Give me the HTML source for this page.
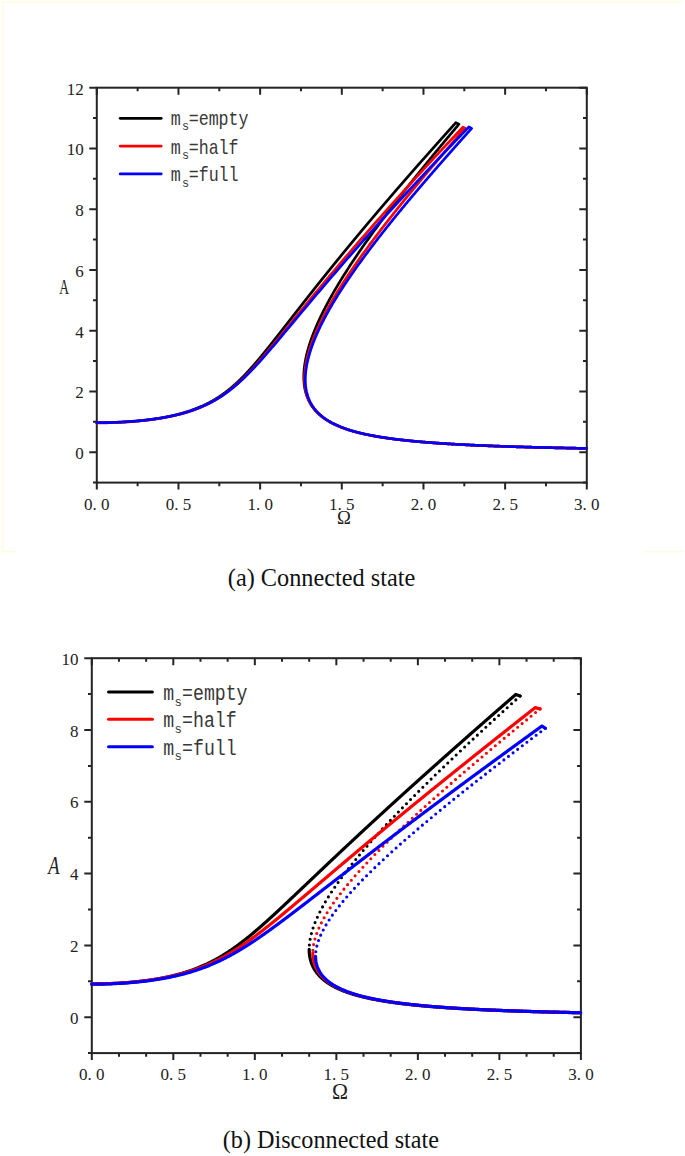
<!DOCTYPE html>
<html><head><meta charset="utf-8"><style>
html,body{margin:0;padding:0;background:#fff;}
body{width:685px;height:1156px;overflow:hidden;position:relative;}
svg{position:absolute;left:0;top:0;}
.tl{font-family:"Liberation Serif",serif;font-size:17px;fill:#222;}
.lg{font-family:"Liberation Mono",monospace;fill:#383838;}
.cap{font-family:"Liberation Serif",serif;fill:#111;}
</style></head><body>
<svg width="685" height="1156" viewBox="0 0 685 1156">
<path d="M2.6,552V2H683 M2.6,551.6H17 M643.5,551.7H683.5" stroke="#fffbe0" stroke-width="1.6" fill="none"/>
<rect x="96.8" y="87.7" width="490" height="394.9" fill="none" stroke="#242424" stroke-width="2.0"/>
<path d="M96.8,482.6v7 M96.8,87.7v7 M178.47,482.6v7 M178.47,87.7v7 M260.13,482.6v7 M260.13,87.7v7 M341.8,482.6v7 M341.8,87.7v7 M423.47,482.6v7 M423.47,87.7v7 M505.13,482.6v7 M505.13,87.7v7 M586.8,482.6v7 M586.8,87.7v7 M137.63,482.6v3.6 M137.63,87.7v3.6 M219.3,482.6v3.6 M219.3,87.7v3.6 M300.97,482.6v3.6 M300.97,87.7v3.6 M382.63,482.6v3.6 M382.63,87.7v3.6 M464.3,482.6v3.6 M464.3,87.7v3.6 M545.97,482.6v3.6 M545.97,87.7v3.6 M96.8,482.6h-3.8 M586.8,482.6h-3.8 M96.8,452.22h-7.5 M586.8,452.22h-7.5 M96.8,421.85h-3.8 M586.8,421.85h-3.8 M96.8,391.47h-7.5 M586.8,391.47h-7.5 M96.8,361.09h-3.8 M586.8,361.09h-3.8 M96.8,330.72h-7.5 M586.8,330.72h-7.5 M96.8,300.34h-3.8 M586.8,300.34h-3.8 M96.8,269.96h-7.5 M586.8,269.96h-7.5 M96.8,239.58h-3.8 M586.8,239.58h-3.8 M96.8,209.21h-7.5 M586.8,209.21h-7.5 M96.8,178.83h-3.8 M586.8,178.83h-3.8 M96.8,148.45h-7.5 M586.8,148.45h-7.5 M96.8,118.08h-3.8 M586.8,118.08h-3.8 M96.8,87.7h-7.5 M586.8,87.7h-7.5" stroke="#242424" stroke-width="2.0" fill="none"/>
<text x="96.8" y="510" text-anchor="middle" class="tl">0. 0</text>
<text x="178.47" y="510" text-anchor="middle" class="tl">0. 5</text>
<text x="260.13" y="510" text-anchor="middle" class="tl">1. 0</text>
<text x="341.8" y="510" text-anchor="middle" class="tl">1. 5</text>
<text x="423.47" y="510" text-anchor="middle" class="tl">2. 0</text>
<text x="505.13" y="510" text-anchor="middle" class="tl">2. 5</text>
<text x="586.8" y="510" text-anchor="middle" class="tl">3. 0</text>
<text x="83.8" y="459.22" text-anchor="end" class="tl">0</text>
<text x="83.8" y="398.47" text-anchor="end" class="tl">2</text>
<text x="83.8" y="337.72" text-anchor="end" class="tl">4</text>
<text x="83.8" y="276.96" text-anchor="end" class="tl">6</text>
<text x="83.8" y="216.21" text-anchor="end" class="tl">8</text>
<text x="83.8" y="155.45" text-anchor="end" class="tl">10</text>
<text x="83.8" y="94.7" text-anchor="end" class="tl">12</text>
<path d="M586.69,448.41 L585.76,448.39 L584.84,448.38 L583.92,448.36 L583.01,448.34 L582.11,448.33 L581.21,448.31 L580.32,448.3 L579.43,448.28 L578.55,448.26 L577.67,448.25 L576.8,448.23 L575.93,448.21 L575.07,448.2 L574.22,448.18 L573.37,448.17 L572.53,448.15 L571.69,448.13 L570.86,448.12 L570.03,448.1 L569.21,448.08 L568.39,448.07 L567.58,448.05 L566.77,448.03 L565.97,448.02 L565.17,448 L564.37,447.99 L563.59,447.97 L562.8,447.95 L562.02,447.94 L561.25,447.92 L560.48,447.9 L559.71,447.89 L558.95,447.87 L558.2,447.85 L557.45,447.84 L556.7,447.82 L555.95,447.81 L555.22,447.79 L554.48,447.77 L553.75,447.76 L553.02,447.74 L552.3,447.72 L551.58,447.71 L550.87,447.69 L550.16,447.68 L549.45,447.66 L548.75,447.64 L548.05,447.63 L547.36,447.61 L546.67,447.59 L545.98,447.58 L545.3,447.56 L544.62,447.54 L543.94,447.53 L543.27,447.51 L542.6,447.5 L541.94,447.48 L541.28,447.46 L540.62,447.45 L539.97,447.43 L539.32,447.41 L538.67,447.4 L538.03,447.38 L537.39,447.37 L536.75,447.35 L536.12,447.33 L535.48,447.32 L534.86,447.3 L534.23,447.28 L533.61,447.27 L533,447.25 L532.38,447.23 L531.77,447.22 L531.16,447.2 L530.56,447.19 L529.96,447.17 L529.06,447.14 L528.17,447.12 L527.29,447.1 L526.41,447.07 L525.54,447.05 L524.68,447.02 L523.82,447 L522.97,446.97 L522.13,446.95 L521.29,446.92 L520.45,446.9 L519.63,446.88 L518.81,446.85 L517.99,446.83 L517.18,446.8 L516.38,446.78 L515.58,446.75 L514.79,446.73 L514.01,446.7 L513.23,446.68 L512.45,446.65 L511.68,446.63 L510.92,446.61 L510.16,446.58 L509.4,446.56 L508.65,446.53 L507.91,446.51 L507.17,446.48 L506.44,446.46 L505.71,446.43 L504.98,446.41 L504.26,446.39 L503.55,446.36 L502.84,446.34 L502.13,446.31 L501.43,446.29 L500.74,446.26 L500.05,446.24 L499.36,446.21 L498.68,446.19 L498,446.17 L497.32,446.14 L496.65,446.12 L495.99,446.09 L495.33,446.07 L494.67,446.04 L494.02,446.02 L493.37,445.99 L492.72,445.97 L492.08,445.94 L491.44,445.92 L490.81,445.9 L490.18,445.87 L489.56,445.85 L488.94,445.82 L488.32,445.8 L487.7,445.77 L487.09,445.75 L486.49,445.72 L485.88,445.7 L485.09,445.67 L484.29,445.63 L483.51,445.6 L482.73,445.57 L481.95,445.54 L481.19,445.5 L480.43,445.47 L479.67,445.44 L478.92,445.41 L478.17,445.37 L477.44,445.34 L476.7,445.31 L475.97,445.28 L475.25,445.24 L474.54,445.21 L473.82,445.18 L473.12,445.14 L472.42,445.11 L471.72,445.08 L471.03,445.05 L470.34,445.01 L469.66,444.98 L468.99,444.95 L468.31,444.92 L467.65,444.88 L466.99,444.85 L466.33,444.82 L465.68,444.79 L465.03,444.75 L464.39,444.72 L463.75,444.69 L463.11,444.65 L462.48,444.62 L461.86,444.59 L461.23,444.56 L460.62,444.52 L460,444.49 L459.4,444.46 L458.79,444.43 L458.19,444.39 L457.44,444.35 L456.71,444.31 L455.97,444.27 L455.24,444.23 L454.52,444.19 L453.81,444.15 L453.1,444.11 L452.4,444.07 L451.7,444.03 L451,443.99 L450.32,443.94 L449.64,443.9 L448.96,443.86 L448.29,443.82 L447.62,443.78 L446.96,443.74 L446.31,443.7 L445.66,443.66 L445.01,443.62 L444.37,443.58 L443.74,443.54 L443.1,443.5 L442.48,443.45 L441.86,443.41 L441.24,443.37 L440.63,443.33 L440.02,443.29 L439.42,443.25 L438.82,443.21 L438.11,443.16 L437.4,443.11 L436.7,443.06 L436.01,443.01 L435.32,442.96 L434.64,442.92 L433.96,442.87 L433.29,442.82 L432.62,442.77 L431.96,442.72 L431.31,442.67 L430.66,442.62 L430.02,442.57 L429.38,442.52 L428.75,442.47 L428.12,442.43 L427.5,442.38 L426.88,442.33 L426.27,442.28 L425.66,442.23 L425.06,442.18 L424.46,442.13 L423.77,442.07 L423.08,442.02 L422.4,441.96 L421.73,441.9 L421.06,441.85 L420.4,441.79 L419.75,441.73 L419.1,441.67 L418.45,441.62 L417.82,441.56 L417.18,441.5 L416.56,441.45 L415.93,441.39 L415.32,441.33 L414.71,441.27 L414.1,441.22 L413.5,441.16 L412.82,441.1 L412.15,441.03 L411.48,440.96 L410.82,440.9 L410.17,440.83 L409.52,440.77 L408.88,440.7 L408.24,440.64 L407.61,440.57 L406.99,440.51 L406.37,440.44 L405.75,440.38 L405.15,440.31 L404.54,440.25 L403.95,440.18 L403.28,440.11 L402.63,440.03 L401.97,439.96 L401.33,439.89 L400.69,439.81 L400.06,439.74 L399.43,439.67 L398.81,439.59 L398.2,439.52 L397.59,439.45 L396.98,439.37 L396.39,439.3 L395.73,439.22 L395.08,439.14 L394.44,439.05 L393.8,438.97 L393.17,438.89 L392.55,438.81 L391.93,438.73 L391.32,438.65 L390.71,438.56 L390.12,438.48 L389.46,438.39 L388.82,438.3 L388.18,438.21 L387.55,438.12 L386.92,438.03 L386.31,437.94 L385.7,437.85 L385.09,437.76 L384.49,437.67 L383.85,437.58 L383.21,437.48 L382.58,437.38 L381.95,437.28 L381.33,437.18 L380.72,437.09 L380.12,436.99 L379.52,436.89 L378.88,436.78 L378.25,436.68 L377.62,436.57 L377,436.47 L376.39,436.36 L375.79,436.25 L375.19,436.15 L374.6,436.04 L373.97,435.93 L373.35,435.81 L372.74,435.7 L372.13,435.58 L371.53,435.47 L370.94,435.36 L370.31,435.23 L369.69,435.11 L369.08,434.99 L368.47,434.87 L367.87,434.74 L367.28,434.62 L366.66,434.49 L366.05,434.36 L365.44,434.23 L364.84,434.1 L364.25,433.97 L363.63,433.83 L363.02,433.69 L362.41,433.55 L361.82,433.41 L361.23,433.27 L360.61,433.13 L360.01,432.98 L359.41,432.83 L358.82,432.69 L358.23,432.54 L357.63,432.38 L357.03,432.23 L356.44,432.07 L355.85,431.92 L355.25,431.76 L354.65,431.59 L354.06,431.43 L353.48,431.27 L352.88,431.09 L352.29,430.92 L351.7,430.75 L351.13,430.58 L350.53,430.4 L349.95,430.22 L349.37,430.04 L348.78,429.85 L348.19,429.67 L347.61,429.48 L347.02,429.28 L346.44,429.09 L345.86,428.89 L345.27,428.69 L344.69,428.48 L344.12,428.28 L343.54,428.07 L342.96,427.85 L342.4,427.64 L341.82,427.42 L341.25,427.2 L340.69,426.98 L340.12,426.75 L339.56,426.52 L338.99,426.29 L338.42,426.05 L337.87,425.81 L337.31,425.57 L336.76,425.32 L336.2,425.07 L335.65,424.82 L335.09,424.55 L334.54,424.29 L333.98,424.02 L333.44,423.75 L332.88,423.48 L332.34,423.2 L331.8,422.91 L331.26,422.63 L330.72,422.33 L330.19,422.04 L329.65,421.74 L329.13,421.44 L328.6,421.13 L328.08,420.82 L327.56,420.5 L327.05,420.18 L326.53,419.85 L326.02,419.52 L325.51,419.18 L325.01,418.84 L324.51,418.5 L324.02,418.15 L323.52,417.79 L323.03,417.43 L322.55,417.06 L322.07,416.69 L321.59,416.32 L321.12,415.93 L320.66,415.55 L320.19,415.16 L319.73,414.76 L319.28,414.36 L318.83,413.95 L318.38,413.53 L317.95,413.12 L317.52,412.69 L317.08,412.26 L316.66,411.83 L316.25,411.39 L315.83,410.94 L315.43,410.49 L315.03,410.03 L314.64,409.57 L314.25,409.11 L313.87,408.64 L313.5,408.16 L313.13,407.68 L312.77,407.19 L312.42,406.7 L312.07,406.2 L311.73,405.7 L311.4,405.2 L311.07,404.69 L310.76,404.18 L310.44,403.66 L310.14,403.13 L309.84,402.6 L309.55,402.07 L309.27,401.53 L308.99,400.99 L308.73,400.45 L308.47,399.91 L308.22,399.36 L307.97,398.81 L307.73,398.25 L307.5,397.7 L307.28,397.13 L307.07,396.57 L306.86,396 L306.66,395.43 L306.47,394.85 L306.28,394.28 L306.1,393.7 L305.93,393.12 L305.77,392.54 L305.61,391.96 L305.46,391.38 L305.32,390.79 L305.19,390.2 L305.06,389.61 L304.94,389.03 L304.82,388.43 L304.71,387.83 L304.61,387.24 L304.51,386.64 L304.42,386.05 L304.34,385.45 L304.27,384.85 L304.19,384.26 L304.13,383.65 L304.07,383.05 L304.02,382.45 L303.97,381.84 L303.93,381.24 L303.89,380.63 L303.86,380.03 L303.84,379.42 L303.82,378.82 L303.81,378.22 L303.8,377.61 L303.79,377.01 L303.8,376.4 L303.8,375.8 L303.81,375.2 L303.83,374.59 L303.85,373.99 L303.88,373.38 L303.91,372.78 L303.94,372.17 L303.98,371.57 L304.02,370.97 L304.07,370.36 L304.12,369.76 L304.18,369.15 L304.24,368.55 L304.31,367.95 L304.38,367.34 L304.45,366.75 L304.52,366.15 L304.6,365.55 L304.69,364.96 L304.77,364.36 L304.86,363.77 L304.96,363.17 L305.05,362.57 L305.15,361.98 L305.26,361.38 L305.37,360.79 L305.48,360.19 L305.59,359.59 L305.71,359 L305.83,358.4 L305.95,357.81 L306.08,357.23 L306.21,356.64 L306.34,356.05 L306.48,355.46 L306.61,354.88 L306.75,354.29 L306.9,353.7 L307.04,353.11 L307.19,352.52 L307.35,351.94 L307.5,351.35 L307.66,350.77 L307.81,350.19 L307.98,349.61 L308.14,349.03 L308.3,348.45 L308.47,347.87 L308.64,347.29 L308.82,346.71 L308.99,346.13 L309.17,345.55 L309.35,344.97 L309.53,344.39 L309.72,343.82 L309.9,343.25 L310.09,342.68 L310.28,342.11 L310.47,341.54 L310.67,340.96 L310.86,340.39 L311.06,339.82 L311.26,339.25 L311.46,338.68 L311.67,338.11 L311.87,337.53 L312.08,336.96 L312.29,336.4 L312.5,335.84 L312.71,335.27 L312.93,334.71 L313.14,334.15 L313.36,333.58 L313.58,333.02 L313.8,332.46 L314.02,331.89 L314.25,331.33 L314.47,330.77 L314.7,330.2 L314.93,329.64 L315.16,329.09 L315.39,328.53 L315.63,327.97 L315.86,327.42 L316.09,326.86 L316.33,326.31 L316.57,325.75 L316.81,325.2 L317.05,324.64 L317.3,324.09 L317.54,323.53 L317.79,322.98 L318.04,322.42 L318.29,321.87 L318.54,321.32 L318.78,320.77 L319.04,320.23 L319.29,319.68 L319.54,319.13 L319.8,318.59 L320.05,318.04 L320.31,317.49 L320.57,316.95 L320.83,316.4 L321.09,315.85 L321.36,315.3 L321.62,314.76 L321.89,314.21 L322.16,313.66 L322.42,313.12 L322.69,312.59 L322.96,312.05 L323.23,311.51 L323.5,310.97 L323.77,310.43 L324.04,309.89 L324.31,309.35 L324.59,308.81 L324.87,308.28 L325.14,307.74 L325.42,307.2 L325.7,306.66 L325.98,306.12 L326.27,305.58 L326.55,305.04 L326.83,304.51 L327.11,303.98 L327.39,303.45 L327.68,302.92 L327.96,302.39 L328.25,301.86 L328.54,301.33 L328.82,300.8 L329.11,300.27 L329.4,299.74 L329.7,299.2 L329.99,298.67 L330.28,298.14 L330.58,297.61 L330.87,297.08 L331.17,296.55 L331.47,296.02 L331.76,295.49 L332.06,294.97 L332.36,294.45 L332.65,293.92 L332.95,293.4 L333.25,292.88 L333.55,292.36 L333.85,291.83 L334.15,291.31 L334.45,290.79 L334.76,290.27 L335.06,289.74 L335.37,289.22 L335.67,288.7 L335.98,288.18 L336.29,287.65 L336.6,287.13 L336.91,286.61 L337.22,286.09 L337.53,285.56 L337.84,285.04 L338.16,284.52 L338.47,284 L338.78,283.49 L339.09,282.97 L339.4,282.46 L339.71,281.95 L340.03,281.43 L340.34,280.92 L340.65,280.4 L340.97,279.89 L341.29,279.37 L341.6,278.86 L341.92,278.35 L342.24,277.83 L342.56,277.32 L342.88,276.8 L343.2,276.29 L343.52,275.77 L343.85,275.26 L344.17,274.75 L344.5,274.23 L344.82,273.72 L345.15,273.2 L345.47,272.69 L345.8,272.17 L346.12,271.67 L346.45,271.16 L346.77,270.66 L347.09,270.15 L347.42,269.64 L347.75,269.14 L348.07,268.63 L348.4,268.12 L348.73,267.62 L349.06,267.11 L349.39,266.61 L349.72,266.1 L350.05,265.59 L350.38,265.09 L350.71,264.58 L351.04,264.08 L351.38,263.57 L351.71,263.06 L352.05,262.56 L352.38,262.05 L352.72,261.54 L353.05,261.04 L353.39,260.53 L353.73,260.03 L354.07,259.52 L354.41,259.01 L354.74,258.51 L355.08,258.01 L355.41,257.51 L355.75,257.01 L356.09,256.52 L356.42,256.02 L356.76,255.52 L357.1,255.02 L357.44,254.52 L357.78,254.03 L358.12,253.53 L358.46,253.03 L358.8,252.53 L359.14,252.03 L359.48,251.54 L359.82,251.04 L360.17,250.54 L360.51,250.04 L360.85,249.54 L361.2,249.05 L361.54,248.55 L361.89,248.05 L362.24,247.55 L362.58,247.05 L362.93,246.56 L363.28,246.06 L363.63,245.56 L363.97,245.06 L364.32,244.56 L364.67,244.07 L365.02,243.57 L365.38,243.07 L365.73,242.57 L366.08,242.07 L366.43,241.58 L366.78,241.09 L367.12,240.6 L367.47,240.11 L367.82,239.62 L368.17,239.13 L368.52,238.64 L368.87,238.15 L369.22,237.66 L369.57,237.17 L369.92,236.68 L370.27,236.19 L370.62,235.7 L370.98,235.21 L371.33,234.72 L371.68,234.23 L372.04,233.74 L372.39,233.25 L372.75,232.76 L373.1,232.27 L373.46,231.78 L373.81,231.29 L374.17,230.8 L374.52,230.31 L374.88,229.82 L375.24,229.33 L375.6,228.84 L375.96,228.35 L376.31,227.86 L376.67,227.37 L377.03,226.88 L377.39,226.39 L377.75,225.9 L378.11,225.41 L378.48,224.92 L378.84,224.43 L379.2,223.94 L379.56,223.45 L379.92,222.96 L380.29,222.47 L380.65,221.98 L381.01,221.5 L381.37,221.02 L381.73,220.54 L382.09,220.05 L382.44,219.57 L382.8,219.09 L383.16,218.61 L383.52,218.13 L383.89,217.65 L384.25,217.16 L384.61,216.68 L384.97,216.2 L385.33,215.72 L385.69,215.24 L386.06,214.76 L386.42,214.27 L386.78,213.79 L387.15,213.31 L387.51,212.83 L387.88,212.35 L388.24,211.87 L388.61,211.38 L388.97,210.9 L389.34,210.42 L389.71,209.94 L390.07,209.46 L390.44,208.98 L390.81,208.49 L391.17,208.01 L391.54,207.53 L391.91,207.05 L392.28,206.57 L392.65,206.09 L393.02,205.6 L393.39,205.12 L393.76,204.64 L394.13,204.16 L394.5,203.68 L394.87,203.2 L395.24,202.71 L395.61,202.23 L395.98,201.75 L396.35,201.27 L396.73,200.79 L397.1,200.31 L397.47,199.82 L397.85,199.34 L398.22,198.86 L398.59,198.38 L398.97,197.9 L399.34,197.42 L399.72,196.93 L400.08,196.46 L400.45,195.99 L400.82,195.51 L401.19,195.04 L401.56,194.57 L401.93,194.09 L402.3,193.62 L402.67,193.15 L403.04,192.67 L403.42,192.2 L403.79,191.73 L404.16,191.25 L404.53,190.78 L404.9,190.31 L405.27,189.83 L405.65,189.36 L406.02,188.88 L406.39,188.41 L406.77,187.94 L407.14,187.46 L407.51,186.99 L407.89,186.52 L408.26,186.04 L408.64,185.57 L409.01,185.1 L409.39,184.62 L409.76,184.15 L410.14,183.68 L410.52,183.2 L410.89,182.73 L411.27,182.26 L411.65,181.78 L412.02,181.31 L412.4,180.83 L412.78,180.36 L413.15,179.89 L413.53,179.41 L413.91,178.94 L414.29,178.47 L414.67,177.99 L415.05,177.52 L415.43,177.05 L415.81,176.57 L416.18,176.1 L416.56,175.63 L416.94,175.15 L417.32,174.68 L417.71,174.21 L418.09,173.73 L418.47,173.26 L418.85,172.79 L419.23,172.31 L419.61,171.84 L419.99,171.36 L420.37,170.89 L420.76,170.42 L421.14,169.94 L421.52,169.47 L421.91,169 L422.29,168.52 L422.67,168.05 L423.06,167.58 L423.44,167.1 L423.82,166.63 L424.21,166.16 L424.59,165.68 L424.98,165.21 L425.36,164.74 L425.75,164.26 L426.13,163.79 L426.52,163.32 L426.9,162.85 L427.27,162.38 L427.65,161.92 L428.03,161.45 L428.41,160.99 L428.79,160.52 L429.17,160.06 L429.55,159.59 L429.93,159.13 L430.31,158.66 L430.69,158.2 L431.08,157.73 L431.46,157.27 L431.84,156.8 L432.22,156.33 L432.6,155.87 L432.98,155.4 L433.37,154.94 L433.75,154.47 L434.13,154.01 L434.51,153.54 L434.9,153.08 L435.28,152.61 L435.66,152.15 L436.05,151.68 L436.43,151.22 L436.81,150.75 L437.2,150.29 L437.58,149.82 L437.96,149.35 L438.35,148.89 L438.73,148.42 L439.12,147.96 L439.5,147.49 L439.89,147.03 L440.27,146.56 L440.66,146.1 L441.04,145.63 L441.43,145.17 L441.82,144.7 L442.2,144.24 L442.59,143.77 L442.97,143.31 L443.36,142.84 L443.75,142.37 L444.13,141.91 L444.52,141.44 L444.91,140.98 L445.3,140.51 L445.68,140.05 L446.07,139.58 L446.46,139.12 L446.85,138.65 L447.23,138.19 L447.62,137.72 L448.01,137.26 L448.4,136.79 L448.79,136.32 L449.18,135.86 L449.56,135.39 L449.95,134.93 L450.34,134.46 L450.73,134 L451.12,133.53 L451.51,133.07 L451.9,132.6 L452.29,132.14 L452.68,131.67 L453.07,131.21 L453.46,130.74 L453.85,130.28 L454.24,129.81 L454.63,129.34 L455.02,128.88 L455.41,128.41 L455.81,127.95 L456.2,127.48 L456.59,127.02 L456.98,126.55 L457.37,126.09 L457.76,125.62 L458.15,125.16 L458.55,124.69 L458.94,124.23 L455.79,122.75 L455.39,123.2 L454.98,123.65 L454.58,124.1 L454.17,124.55 L453.77,125 L453.36,125.45 L452.96,125.9 L452.55,126.35 L452.15,126.8 L451.74,127.25 L451.34,127.7 L450.94,128.15 L450.53,128.6 L450.13,129.05 L449.72,129.5 L449.32,129.95 L448.92,130.4 L448.51,130.85 L448.11,131.3 L447.7,131.75 L447.3,132.2 L446.9,132.65 L446.49,133.1 L446.09,133.55 L445.69,134 L445.29,134.45 L444.88,134.9 L444.48,135.35 L444.08,135.8 L443.67,136.25 L443.27,136.7 L442.87,137.15 L442.47,137.6 L442.07,138.05 L441.66,138.5 L441.26,138.95 L440.86,139.4 L440.46,139.85 L440.06,140.3 L439.66,140.75 L439.25,141.2 L438.85,141.65 L438.45,142.1 L438.05,142.55 L437.65,143 L437.25,143.45 L436.85,143.9 L436.45,144.35 L436.05,144.8 L435.65,145.25 L435.25,145.7 L434.85,146.15 L434.45,146.6 L434.05,147.05 L433.65,147.5 L433.25,147.95 L432.85,148.4 L432.45,148.85 L432.05,149.3 L431.65,149.75 L431.25,150.2 L430.85,150.65 L430.45,151.1 L430.05,151.55 L429.66,152 L429.26,152.45 L428.86,152.9 L428.46,153.35 L428.06,153.8 L427.66,154.25 L427.27,154.7 L426.87,155.15 L426.47,155.6 L426.07,156.05 L425.67,156.5 L425.28,156.95 L424.88,157.4 L424.48,157.85 L424.08,158.3 L423.69,158.75 L423.29,159.2 L422.85,159.7 L422.41,160.2 L421.97,160.7 L421.53,161.2 L421.09,161.7 L420.65,162.2 L420.21,162.7 L419.77,163.2 L419.33,163.7 L418.89,164.2 L418.45,164.7 L418.01,165.2 L417.57,165.7 L417.13,166.2 L416.69,166.7 L416.25,167.2 L415.81,167.7 L415.37,168.2 L414.94,168.7 L414.5,169.2 L414.06,169.7 L413.62,170.2 L413.18,170.7 L412.75,171.2 L412.31,171.7 L411.87,172.2 L411.43,172.7 L411,173.2 L410.56,173.7 L410.12,174.2 L409.69,174.7 L409.25,175.2 L408.81,175.7 L408.38,176.2 L407.94,176.7 L407.5,177.2 L407.07,177.7 L406.63,178.2 L406.2,178.7 L405.76,179.2 L405.33,179.7 L404.89,180.2 L404.46,180.7 L404.02,181.2 L403.59,181.7 L403.15,182.2 L402.72,182.7 L402.28,183.2 L401.85,183.7 L401.42,184.2 L400.98,184.7 L400.55,185.2 L400.11,185.7 L399.68,186.2 L399.25,186.7 L398.82,187.2 L398.38,187.7 L397.95,188.2 L397.52,188.7 L397.08,189.2 L396.65,189.7 L396.22,190.19 L395.79,190.69 L395.36,191.19 L394.93,191.69 L394.49,192.19 L394.06,192.69 L393.63,193.19 L393.2,193.69 L392.77,194.19 L392.34,194.69 L391.91,195.19 L391.48,195.69 L391.05,196.19 L390.62,196.69 L390.19,197.19 L389.76,197.69 L389.33,198.19 L388.9,198.69 L388.47,199.19 L388.04,199.69 L387.61,200.19 L387.18,200.69 L386.75,201.19 L386.33,201.69 L385.9,202.19 L385.47,202.69 L385.04,203.19 L384.61,203.69 L384.19,204.19 L383.76,204.69 L383.33,205.19 L382.9,205.69 L382.48,206.19 L382.05,206.69 L381.62,207.19 L381.2,207.69 L380.77,208.19 L380.34,208.69 L379.92,209.19 L379.49,209.69 L379.07,210.19 L378.64,210.69 L378.22,211.19 L377.79,211.69 L377.37,212.19 L376.94,212.69 L376.52,213.19 L376.09,213.69 L375.67,214.19 L375.24,214.69 L374.82,215.19 L374.4,215.69 L373.97,216.19 L373.55,216.69 L373.13,217.19 L372.7,217.69 L372.28,218.19 L371.86,218.69 L371.44,219.19 L371.01,219.69 L370.59,220.19 L370.17,220.69 L369.75,221.19 L369.33,221.69 L368.9,222.19 L368.48,222.69 L368.06,223.19 L367.64,223.69 L367.22,224.19 L366.8,224.69 L366.38,225.19 L365.96,225.69 L365.54,226.19 L365.12,226.69 L364.7,227.19 L364.28,227.69 L363.86,228.19 L363.44,228.69 L363.02,229.19 L362.6,229.69 L362.19,230.19 L361.77,230.69 L361.35,231.19 L360.93,231.69 L360.51,232.19 L360.1,232.69 L359.68,233.19 L359.26,233.69 L358.84,234.19 L358.43,234.69 L358.01,235.19 L357.59,235.69 L357.18,236.19 L356.76,236.69 L356.35,237.19 L355.93,237.69 L355.51,238.19 L355.1,238.69 L354.68,239.19 L354.27,239.69 L353.85,240.19 L353.44,240.69 L353.03,241.19 L352.61,241.69 L352.2,242.19 L351.78,242.69 L351.37,243.19 L350.96,243.69 L350.54,244.19 L350.13,244.69 L349.72,245.19 L349.3,245.69 L348.89,246.19 L348.48,246.69 L348.07,247.19 L347.66,247.69 L347.24,248.19 L346.83,248.69 L346.42,249.19 L346.01,249.69 L345.6,250.19 L345.19,250.69 L344.78,251.19 L344.37,251.69 L343.96,252.19 L343.55,252.69 L343.14,253.19 L342.73,253.69 L342.32,254.19 L341.91,254.69 L341.5,255.19 L341.09,255.69 L340.68,256.19 L340.27,256.69 L339.87,257.19 L339.46,257.68 L339.05,258.18 L338.64,258.68 L338.24,259.18 L337.83,259.68 L337.42,260.18 L337.01,260.68 L336.61,261.18 L336.2,261.68 L335.8,262.18 L335.39,262.68 L334.98,263.18 L334.58,263.68 L334.17,264.18 L333.77,264.68 L333.36,265.18 L332.96,265.68 L332.55,266.18 L332.15,266.68 L331.74,267.18 L331.34,267.68 L330.94,268.18 L330.53,268.68 L330.13,269.18 L329.73,269.68 L329.32,270.18 L328.92,270.68 L328.52,271.18 L328.11,271.68 L327.71,272.18 L327.31,272.68 L326.91,273.18 L326.51,273.68 L326.11,274.18 L325.7,274.68 L325.3,275.18 L324.9,275.68 L324.5,276.18 L324.1,276.68 L323.7,277.18 L323.3,277.68 L322.9,278.18 L322.5,278.68 L322.1,279.18 L321.7,279.68 L321.3,280.18 L320.9,280.68 L320.5,281.18 L320.11,281.68 L319.71,282.18 L319.31,282.68 L318.91,283.18 L318.51,283.68 L318.12,284.18 L317.72,284.68 L317.32,285.18 L316.92,285.68 L316.53,286.18 L316.13,286.68 L315.73,287.18 L315.34,287.68 L314.94,288.18 L314.54,288.68 L314.15,289.18 L313.75,289.68 L313.36,290.18 L312.96,290.68 L312.57,291.18 L312.17,291.68 L311.78,292.18 L311.38,292.68 L310.99,293.18 L310.59,293.68 L310.2,294.18 L309.8,294.68 L309.41,295.18 L309.02,295.68 L308.62,296.18 L308.23,296.68 L307.84,297.18 L307.44,297.68 L307.05,298.18 L306.66,298.68 L306.26,299.18 L305.87,299.68 L305.48,300.18 L305.09,300.68 L304.69,301.18 L304.3,301.68 L303.91,302.18 L303.52,302.68 L303.13,303.18 L302.73,303.68 L302.34,304.18 L301.95,304.68 L301.56,305.18 L301.17,305.68 L300.78,306.18 L300.39,306.68 L300,307.18 L299.61,307.68 L299.22,308.18 L298.83,308.68 L298.44,309.18 L298.05,309.68 L297.66,310.18 L297.27,310.68 L296.88,311.18 L296.49,311.68 L296.1,312.18 L295.71,312.68 L295.32,313.18 L294.93,313.68 L294.54,314.18 L294.15,314.68 L293.76,315.18 L293.37,315.68 L292.98,316.18 L292.59,316.68 L292.2,317.18 L291.81,317.68 L291.42,318.18 L291.03,318.68 L290.65,319.18 L290.26,319.68 L289.87,320.18 L289.48,320.68 L289.09,321.18 L288.7,321.68 L288.31,322.18 L287.92,322.68 L287.53,323.18 L287.14,323.68 L286.75,324.18 L286.37,324.68 L285.98,325.17 L285.59,325.67 L285.2,326.17 L284.81,326.67 L284.42,327.17 L284.03,327.67 L283.64,328.17 L283.25,328.67 L282.86,329.17 L282.47,329.67 L282.08,330.17 L281.69,330.67 L281.3,331.17 L280.91,331.67 L280.52,332.17 L280.13,332.67 L279.74,333.17 L279.34,333.67 L278.95,334.17 L278.56,334.67 L278.17,335.17 L277.78,335.67 L277.39,336.17 L276.99,336.67 L276.6,337.17 L276.21,337.67 L275.81,338.17 L275.42,338.67 L275.03,339.17 L274.63,339.67 L274.24,340.17 L273.84,340.67 L273.45,341.17 L273.05,341.67 L272.66,342.17 L272.26,342.67 L271.86,343.17 L271.47,343.67 L271.07,344.17 L270.67,344.67 L270.27,345.17 L269.87,345.67 L269.47,346.17 L269.07,346.67 L268.67,347.17 L268.27,347.67 L267.87,348.17 L267.47,348.67 L267.07,349.17 L266.66,349.67 L266.26,350.17 L265.85,350.67 L265.45,351.17 L265.04,351.67 L264.63,352.17 L264.23,352.67 L263.82,353.17 L263.41,353.67 L263,354.17 L262.59,354.67 L262.17,355.17 L261.76,355.67 L261.35,356.17 L260.93,356.67 L260.52,357.17 L260.1,357.67 L259.68,358.17 L259.26,358.67 L258.84,359.17 L258.42,359.67 L258,360.17 L257.58,360.67 L257.15,361.17 L256.72,361.67 L256.3,362.17 L255.87,362.67 L255.44,363.17 L255,363.67 L254.57,364.17 L254.14,364.67 L253.7,365.17 L253.26,365.67 L252.82,366.17 L252.42,366.62 L252.02,367.07 L251.62,367.52 L251.22,367.97 L250.82,368.42 L250.41,368.87 L250.01,369.32 L249.6,369.77 L249.19,370.22 L248.77,370.67 L248.36,371.12 L247.95,371.57 L247.53,372.02 L247.11,372.47 L246.69,372.92 L246.26,373.37 L245.84,373.82 L245.41,374.27 L244.98,374.72 L244.54,375.17 L244.11,375.62 L243.67,376.07 L243.23,376.52 L242.79,376.97 L242.34,377.42 L241.89,377.87 L241.44,378.32 L240.99,378.77 L240.53,379.22 L240.07,379.67 L239.61,380.12 L239.14,380.57 L238.67,381.02 L238.2,381.47 L237.72,381.92 L237.24,382.37 L236.76,382.82 L236.27,383.27 L235.78,383.72 L235.28,384.17 L234.78,384.62 L234.33,385.02 L233.88,385.42 L233.43,385.82 L232.97,386.22 L232.51,386.62 L232.04,387.02 L231.57,387.42 L231.1,387.82 L230.62,388.22 L230.14,388.62 L229.65,389.02 L229.16,389.42 L228.66,389.82 L228.16,390.22 L227.65,390.62 L227.14,391.02 L226.63,391.42 L226.1,391.82 L225.58,392.22 L225.04,392.62 L224.51,393.01 L223.96,393.41 L223.41,393.81 L222.85,394.21 L222.36,394.56 L221.86,394.91 L221.36,395.26 L220.85,395.61 L220.34,395.96 L219.82,396.31 L219.29,396.66 L218.76,397.01 L218.22,397.36 L217.67,397.71 L217.12,398.06 L216.56,398.41 L216,398.76 L215.43,399.11 L214.85,399.46 L214.26,399.81 L213.66,400.16 L213.06,400.51 L212.54,400.81 L212.01,401.11 L211.47,401.41 L210.93,401.71 L210.38,402.01 L209.82,402.31 L209.26,402.61 L208.68,402.91 L208.1,403.21 L207.52,403.51 L206.92,403.81 L206.32,404.11 L205.71,404.41 L205.08,404.71 L204.45,405.01 L203.81,405.31 L203.17,405.61 L202.62,405.86 L202.06,406.11 L201.5,406.36 L200.93,406.61 L200.35,406.86 L199.76,407.11 L199.17,407.36 L198.56,407.61 L197.95,407.86 L197.33,408.11 L196.7,408.36 L196.06,408.61 L195.41,408.86 L194.75,409.11 L194.08,409.36 L193.4,409.61 L192.71,409.86 L192.01,410.11 L191.44,410.31 L190.86,410.51 L190.27,410.71 L189.68,410.91 L189.08,411.11 L188.47,411.31 L187.84,411.51 L187.22,411.71 L186.58,411.91 L185.93,412.11 L185.27,412.31 L184.6,412.51 L183.92,412.71 L183.23,412.91 L182.53,413.11 L181.81,413.31 L181.09,413.51 L180.35,413.71 L179.6,413.91 L178.83,414.11 L178.25,414.26 L177.66,414.41 L177.06,414.56 L176.45,414.71 L175.83,414.86 L175.21,415.01 L174.57,415.16 L173.93,415.31 L173.27,415.46 L172.61,415.61 L171.93,415.76 L171.25,415.91 L170.55,416.06 L169.84,416.21 L169.12,416.36 L168.38,416.51 L167.64,416.66 L166.88,416.81 L166.1,416.96 L165.31,417.11 L164.51,417.26 L163.69,417.41 L162.86,417.56 L162,417.71 L161.13,417.86 L160.24,418.01 L159.64,418.11 L159.02,418.21 L158.4,418.31 L157.77,418.41 L157.13,418.51 L156.48,418.61 L155.81,418.71 L155.14,418.81 L154.45,418.91 L153.76,419.01 L153.05,419.11 L152.33,419.21 L151.59,419.31 L150.84,419.41 L150.07,419.51 L149.29,419.61 L148.5,419.71 L147.68,419.81 L146.85,419.91 L146,420.01 L145.13,420.11 L144.24,420.21 L143.33,420.31 L142.39,420.41 L141.43,420.51 L140.44,420.61 L139.43,420.71 L138.38,420.81 L137.3,420.91 L136.18,421.01 L135.03,421.11 L133.83,421.21 L133.21,421.26 L132.58,421.31 L131.94,421.36 L131.28,421.41 L130.61,421.46 L129.92,421.51 L129.22,421.56 L128.49,421.61 L127.75,421.66 L126.99,421.71 L126.21,421.76 L125.4,421.81 L124.57,421.86 L123.71,421.91 L122.81,421.96 L121.89,422.01 L120.92,422.06 L119.91,422.11 L118.85,422.16 L117.74,422.21 L116.55,422.26 L115.29,422.31 L113.93,422.36 L112.45,422.41 L110.81,422.46 L108.94,422.51 L106.72,422.56 L103.82,422.61 L96.8,422.66" stroke="#000000" stroke-width="2.7" fill="none" stroke-linejoin="round" stroke-linecap="round"/>
<path d="M586.79,448.44 L585.86,448.42 L584.94,448.4 L584.03,448.39 L583.12,448.37 L582.22,448.36 L581.33,448.34 L580.44,448.32 L579.55,448.31 L578.67,448.29 L577.8,448.27 L576.94,448.26 L576.07,448.24 L575.22,448.23 L574.37,448.21 L573.52,448.19 L572.68,448.18 L571.85,448.16 L571.02,448.15 L570.19,448.13 L569.37,448.11 L568.56,448.1 L567.75,448.08 L566.94,448.06 L566.14,448.05 L565.35,448.03 L564.56,448.02 L563.77,448 L562.99,447.98 L562.21,447.97 L561.44,447.95 L560.67,447.94 L559.91,447.92 L559.15,447.9 L558.4,447.89 L557.65,447.87 L556.91,447.85 L556.16,447.84 L555.43,447.82 L554.7,447.81 L553.97,447.79 L553.24,447.77 L552.52,447.76 L551.81,447.74 L551.1,447.73 L550.39,447.71 L549.68,447.69 L548.98,447.68 L548.29,447.66 L547.6,447.64 L546.91,447.63 L546.22,447.61 L545.54,447.6 L544.86,447.58 L544.19,447.56 L543.52,447.55 L542.86,447.53 L542.19,447.52 L541.53,447.5 L540.88,447.48 L540.23,447.47 L539.58,447.45 L538.93,447.43 L538.29,447.42 L537.65,447.4 L537.02,447.39 L536.38,447.37 L535.76,447.35 L535.13,447.34 L534.51,447.32 L533.89,447.31 L533.27,447.29 L532.66,447.27 L532.05,447.26 L531.45,447.24 L530.84,447.22 L530.24,447.21 L529.35,447.18 L528.46,447.16 L527.58,447.14 L526.71,447.11 L525.84,447.09 L524.98,447.06 L524.12,447.04 L523.27,447.01 L522.43,446.99 L521.59,446.97 L520.76,446.94 L519.94,446.92 L519.12,446.89 L518.31,446.87 L517.5,446.85 L516.7,446.82 L515.9,446.8 L515.11,446.77 L514.33,446.75 L513.55,446.72 L512.77,446.7 L512.01,446.68 L511.24,446.65 L510.49,446.63 L509.73,446.6 L508.99,446.58 L508.24,446.55 L507.51,446.53 L506.77,446.51 L506.04,446.48 L505.32,446.46 L504.6,446.43 L503.89,446.41 L503.18,446.39 L502.48,446.36 L501.78,446.34 L501.08,446.31 L500.39,446.29 L499.71,446.26 L499.03,446.24 L498.35,446.22 L497.67,446.19 L497.01,446.17 L496.34,446.14 L495.68,446.12 L495.03,446.09 L494.37,446.07 L493.73,446.05 L493.08,446.02 L492.44,446 L491.81,445.97 L491.17,445.95 L490.55,445.93 L489.92,445.9 L489.3,445.88 L488.68,445.85 L488.07,445.83 L487.46,445.8 L486.86,445.78 L486.25,445.76 L485.46,445.72 L484.66,445.69 L483.88,445.66 L483.1,445.63 L482.33,445.59 L481.56,445.56 L480.8,445.53 L480.04,445.5 L479.3,445.46 L478.55,445.43 L477.81,445.4 L477.08,445.37 L476.35,445.34 L475.63,445.3 L474.92,445.27 L474.21,445.24 L473.5,445.21 L472.8,445.17 L472.1,445.14 L471.41,445.11 L470.73,445.08 L470.05,445.05 L469.37,445.01 L468.7,444.98 L468.04,444.95 L467.37,444.92 L466.72,444.88 L466.07,444.85 L465.42,444.82 L464.78,444.79 L464.14,444.75 L463.5,444.72 L462.87,444.69 L462.25,444.66 L461.63,444.63 L461.01,444.59 L460.4,444.56 L459.79,444.53 L459.18,444.5 L458.58,444.46 L457.84,444.42 L457.1,444.38 L456.37,444.34 L455.64,444.3 L454.92,444.26 L454.2,444.22 L453.5,444.18 L452.79,444.14 L452.09,444.1 L451.4,444.06 L450.72,444.02 L450.03,443.98 L449.36,443.94 L448.69,443.9 L448.02,443.86 L447.36,443.82 L446.71,443.78 L446.06,443.74 L445.41,443.7 L444.77,443.66 L444.14,443.62 L443.5,443.58 L442.88,443.54 L442.26,443.5 L441.64,443.45 L441.03,443.41 L440.42,443.37 L439.82,443.33 L439.1,443.29 L438.39,443.24 L437.68,443.19 L436.98,443.14 L436.29,443.09 L435.6,443.04 L434.92,442.99 L434.25,442.95 L433.58,442.9 L432.91,442.85 L432.25,442.8 L431.6,442.75 L430.95,442.7 L430.31,442.66 L429.67,442.61 L429.04,442.56 L428.41,442.51 L427.79,442.46 L427.18,442.41 L426.56,442.36 L425.96,442.32 L425.36,442.27 L424.66,442.21 L423.97,442.16 L423.29,442.1 L422.61,442.04 L421.94,441.99 L421.27,441.93 L420.61,441.87 L419.96,441.82 L419.31,441.76 L418.67,441.7 L418.03,441.65 L417.4,441.59 L416.77,441.53 L416.15,441.48 L415.54,441.42 L414.93,441.36 L414.33,441.31 L413.73,441.25 L413.05,441.19 L412.38,441.12 L411.71,441.06 L411.05,440.99 L410.4,440.93 L409.75,440.86 L409.11,440.8 L408.48,440.73 L407.85,440.67 L407.22,440.61 L406.61,440.54 L405.99,440.48 L405.39,440.41 L404.79,440.35 L404.12,440.27 L403.45,440.2 L402.8,440.13 L402.15,440.06 L401.5,439.98 L400.87,439.91 L400.24,439.84 L399.61,439.77 L398.99,439.69 L398.38,439.62 L397.77,439.55 L397.17,439.47 L396.57,439.4 L395.92,439.32 L395.27,439.24 L394.63,439.16 L393.99,439.08 L393.37,439 L392.74,438.92 L392.13,438.84 L391.52,438.76 L390.91,438.68 L390.32,438.59 L389.67,438.51 L389.02,438.42 L388.39,438.33 L387.76,438.24 L387.13,438.15 L386.52,438.06 L385.91,437.97 L385.3,437.88 L384.7,437.8 L384.06,437.7 L383.42,437.6 L382.79,437.51 L382.17,437.41 L381.55,437.31 L380.94,437.21 L380.34,437.12 L379.74,437.02 L379.1,436.92 L378.47,436.81 L377.85,436.71 L377.23,436.6 L376.62,436.5 L376.02,436.39 L375.42,436.29 L374.78,436.17 L374.16,436.06 L373.54,435.95 L372.92,435.83 L372.32,435.72 L371.72,435.61 L371.13,435.49 L370.5,435.37 L369.88,435.25 L369.27,435.13 L368.67,435.01 L368.07,434.89 L367.48,434.77 L366.86,434.64 L366.25,434.51 L365.64,434.38 L365.05,434.25 L364.46,434.12 L363.84,433.99 L363.23,433.85 L362.62,433.71 L362.03,433.57 L361.44,433.44 L360.83,433.29 L360.22,433.15 L359.62,433 L359.03,432.86 L358.45,432.71 L357.84,432.56 L357.25,432.4 L356.66,432.25 L356.07,432.1 L355.47,431.93 L354.87,431.77 L354.29,431.61 L353.71,431.45 L353.11,431.28 L352.52,431.11 L351.93,430.94 L351.33,430.76 L350.74,430.59 L350.15,430.41 L349.58,430.23 L348.99,430.05 L348.4,429.86 L347.83,429.67 L347.24,429.48 L346.65,429.29 L346.08,429.09 L345.49,428.89 L344.91,428.69 L344.34,428.49 L343.76,428.28 L343.19,428.07 L342.62,427.86 L342.05,427.64 L341.48,427.42 L340.9,427.2 L340.33,426.97 L339.77,426.74 L339.2,426.51 L338.64,426.28 L338.07,426.03 L337.51,425.79 L336.96,425.55 L336.4,425.3 L335.85,425.05 L335.3,424.79 L334.75,424.53 L334.2,424.27 L333.65,424 L333.1,423.72 L332.56,423.45 L332.02,423.17 L331.48,422.89 L330.94,422.59 L330.42,422.3 L329.88,422.01 L329.36,421.71 L328.83,421.4 L328.32,421.09 L327.8,420.78 L327.28,420.46 L326.77,420.13 L326.26,419.8 L325.75,419.47 L325.25,419.13 L324.75,418.78 L324.25,418.44 L323.76,418.08 L323.27,417.72 L322.78,417.36 L322.3,416.98 L321.83,416.61 L321.36,416.23 L320.89,415.85 L320.43,415.46 L319.97,415.06 L319.52,414.66 L319.07,414.26 L318.63,413.84 L318.19,413.42 L317.75,413 L317.33,412.57 L316.91,412.13 L316.49,411.69 L316.08,411.24 L315.67,410.79 L315.27,410.33 L314.88,409.87 L314.5,409.4 L314.12,408.93 L313.75,408.45 L313.38,407.97 L313.03,407.48 L312.67,406.99 L312.33,406.49 L311.99,405.99 L311.66,405.48 L311.34,404.97 L311.03,404.45 L310.72,403.93 L310.42,403.41 L310.13,402.87 L309.84,402.34 L309.56,401.8 L309.3,401.26 L309.03,400.71 L308.78,400.16 L308.54,399.61 L308.3,399.05 L308.07,398.5 L307.84,397.93 L307.63,397.37 L307.42,396.8 L307.22,396.23 L307.03,395.66 L306.85,395.08 L306.67,394.5 L306.5,393.92 L306.34,393.34 L306.19,392.76 L306.04,392.17 L305.9,391.58 L305.77,390.99 L305.65,390.4 L305.53,389.81 L305.42,389.21 L305.32,388.62 L305.22,388.02 L305.13,387.42 L305.05,386.82 L304.97,386.23 L304.9,385.63 L304.84,385.03 L304.78,384.43 L304.73,383.83 L304.69,383.22 L304.65,382.62 L304.61,382.01 L304.59,381.41 L304.56,380.8 L304.55,380.2 L304.54,379.59 L304.53,378.98 L304.54,378.38 L304.54,377.77 L304.55,377.17 L304.57,376.56 L304.59,375.96 L304.62,375.35 L304.65,374.75 L304.69,374.14 L304.73,373.54 L304.77,372.93 L304.83,372.32 L304.88,371.72 L304.94,371.12 L305,370.52 L305.07,369.93 L305.14,369.33 L305.22,368.73 L305.3,368.13 L305.38,367.54 L305.47,366.94 L305.56,366.34 L305.66,365.75 L305.76,365.15 L305.86,364.55 L305.97,363.95 L306.08,363.36 L306.19,362.77 L306.31,362.18 L306.43,361.59 L306.55,361 L306.68,360.41 L306.81,359.82 L306.95,359.23 L307.08,358.64 L307.22,358.05 L307.37,357.46 L307.51,356.87 L307.66,356.28 L307.81,355.7 L307.96,355.12 L308.12,354.54 L308.28,353.96 L308.44,353.38 L308.61,352.8 L308.77,352.22 L308.95,351.63 L309.12,351.05 L309.29,350.47 L309.47,349.89 L309.65,349.32 L309.83,348.74 L310.02,348.17 L310.2,347.6 L310.39,347.02 L310.58,346.45 L310.78,345.88 L310.97,345.3 L311.17,344.73 L311.37,344.16 L311.58,343.59 L311.78,343.02 L311.98,342.46 L312.19,341.89 L312.4,341.32 L312.61,340.76 L312.83,340.19 L313.04,339.63 L313.26,339.06 L313.48,338.5 L313.7,337.93 L313.93,337.37 L314.15,336.81 L314.38,336.26 L314.6,335.7 L314.83,335.14 L315.06,334.58 L315.3,334.03 L315.53,333.47 L315.77,332.91 L316.01,332.36 L316.25,331.8 L316.49,331.24 L316.73,330.68 L316.98,330.13 L317.22,329.58 L317.47,329.03 L317.71,328.48 L317.96,327.93 L318.21,327.38 L318.47,326.83 L318.72,326.29 L318.98,325.74 L319.23,325.19 L319.49,324.64 L319.75,324.09 L320.01,323.54 L320.27,323 L320.54,322.46 L320.8,321.92 L321.06,321.38 L321.33,320.84 L321.6,320.3 L321.86,319.75 L322.13,319.21 L322.41,318.67 L322.68,318.13 L322.95,317.59 L323.23,317.05 L323.51,316.51 L323.79,315.97 L324.07,315.43 L324.34,314.89 L324.62,314.36 L324.9,313.83 L325.18,313.3 L325.46,312.76 L325.75,312.23 L326.03,311.7 L326.32,311.16 L326.61,310.63 L326.9,310.1 L327.19,309.57 L327.48,309.03 L327.77,308.5 L328.06,307.97 L328.36,307.44 L328.65,306.91 L328.94,306.39 L329.24,305.86 L329.53,305.34 L329.83,304.81 L330.12,304.29 L330.42,303.76 L330.72,303.24 L331.02,302.71 L331.32,302.19 L331.63,301.66 L331.93,301.14 L332.24,300.61 L332.54,300.09 L332.85,299.56 L333.16,299.04 L333.47,298.51 L333.77,298 L334.08,297.48 L334.38,296.96 L334.69,296.45 L335,295.93 L335.31,295.41 L335.62,294.9 L335.94,294.38 L336.25,293.86 L336.56,293.35 L336.88,292.83 L337.19,292.31 L337.51,291.8 L337.83,291.28 L338.15,290.76 L338.47,290.25 L338.79,289.73 L339.11,289.21 L339.43,288.7 L339.76,288.18 L340.07,287.67 L340.39,287.16 L340.71,286.66 L341.04,286.15 L341.36,285.64 L341.68,285.13 L342.01,284.62 L342.33,284.11 L342.66,283.6 L342.98,283.1 L343.31,282.59 L343.64,282.08 L343.97,281.57 L344.3,281.06 L344.63,280.55 L344.96,280.04 L345.29,279.54 L345.62,279.03 L345.96,278.52 L346.29,278.01 L346.63,277.5 L346.96,276.99 L347.29,276.49 L347.63,275.99 L347.96,275.49 L348.29,274.99 L348.63,274.49 L348.96,273.99 L349.3,273.49 L349.63,272.99 L349.97,272.49 L350.31,271.99 L350.65,271.49 L350.99,270.99 L351.33,270.49 L351.67,269.98 L352.01,269.48 L352.35,268.98 L352.69,268.48 L353.03,267.98 L353.38,267.48 L353.72,266.98 L354.07,266.48 L354.41,265.98 L354.76,265.48 L355.11,264.98 L355.45,264.48 L355.8,263.98 L356.14,263.49 L356.49,262.99 L356.83,262.5 L357.18,262.01 L357.52,261.52 L357.87,261.02 L358.22,260.53 L358.56,260.04 L358.91,259.55 L359.26,259.05 L359.61,258.56 L359.96,258.07 L360.31,257.58 L360.66,257.08 L361.01,256.59 L361.36,256.1 L361.71,255.61 L362.07,255.11 L362.42,254.62 L362.78,254.13 L363.13,253.64 L363.49,253.14 L363.84,252.65 L364.2,252.16 L364.55,251.67 L364.91,251.18 L365.27,250.68 L365.63,250.19 L365.99,249.7 L366.35,249.21 L366.71,248.71 L367.06,248.23 L367.41,247.74 L367.77,247.26 L368.13,246.78 L368.48,246.29 L368.84,245.81 L369.2,245.32 L369.55,244.84 L369.91,244.35 L370.27,243.87 L370.63,243.38 L370.99,242.9 L371.35,242.42 L371.71,241.93 L372.07,241.45 L372.43,240.96 L372.8,240.48 L373.16,239.99 L373.52,239.51 L373.89,239.03 L374.25,238.54 L374.61,238.06 L374.98,237.57 L375.34,237.09 L375.71,236.6 L376.08,236.12 L376.44,235.63 L376.81,235.15 L377.18,234.67 L377.54,234.18 L377.91,233.7 L378.28,233.21 L378.65,232.73 L379.02,232.24 L379.39,231.76 L379.76,231.28 L380.13,230.79 L380.49,230.31 L380.86,229.84 L381.23,229.36 L381.59,228.89 L381.96,228.41 L382.33,227.93 L382.69,227.46 L383.06,226.98 L383.43,226.5 L383.8,226.03 L384.17,225.55 L384.53,225.08 L384.9,224.6 L385.27,224.12 L385.64,223.65 L386.01,223.17 L386.39,222.69 L386.76,222.22 L387.13,221.74 L387.5,221.27 L387.87,220.79 L388.25,220.31 L388.62,219.84 L388.99,219.36 L389.37,218.88 L389.74,218.41 L390.11,217.93 L390.49,217.45 L390.86,216.98 L391.24,216.5 L391.62,216.03 L391.99,215.55 L392.37,215.07 L392.75,214.6 L393.12,214.12 L393.5,213.64 L393.88,213.17 L394.26,212.69 L394.63,212.22 L395.01,211.74 L395.39,211.26 L395.77,210.79 L396.15,210.31 L396.53,209.83 L396.91,209.36 L397.29,208.88 L397.67,208.41 L398.06,207.93 L398.43,207.46 L398.81,206.99 L399.18,206.52 L399.56,206.06 L399.93,205.59 L400.31,205.12 L400.69,204.65 L401.07,204.18 L401.44,203.71 L401.82,203.25 L402.2,202.78 L402.58,202.31 L402.96,201.84 L403.34,201.37 L403.71,200.91 L404.09,200.44 L404.47,199.97 L404.85,199.5 L405.23,199.03 L405.61,198.56 L406,198.1 L406.38,197.63 L406.76,197.16 L407.14,196.69 L407.52,196.22 L407.9,195.75 L408.29,195.29 L408.67,194.82 L409.05,194.35 L409.44,193.88 L409.82,193.41 L410.2,192.95 L410.59,192.48 L410.97,192.01 L411.36,191.54 L411.74,191.07 L412.13,190.6 L412.51,190.14 L412.9,189.67 L413.28,189.2 L413.67,188.73 L414.05,188.26 L414.44,187.8 L414.83,187.33 L415.22,186.86 L415.6,186.39 L415.99,185.92 L416.38,185.45 L416.77,184.99 L417.15,184.52 L417.54,184.05 L417.93,183.58 L418.32,183.11 L418.71,182.64 L419.1,182.18 L419.49,181.71 L419.88,181.24 L420.27,180.77 L420.66,180.3 L421.05,179.84 L421.44,179.37 L421.83,178.9 L422.22,178.43 L422.61,177.96 L423,177.49 L423.39,177.03 L423.78,176.57 L424.17,176.11 L424.55,175.65 L424.94,175.19 L425.32,174.73 L425.71,174.26 L426.1,173.8 L426.48,173.34 L426.87,172.88 L427.26,172.42 L427.64,171.96 L428.03,171.5 L428.42,171.04 L428.81,170.58 L429.19,170.12 L429.58,169.66 L429.97,169.2 L430.36,168.74 L430.75,168.28 L431.14,167.82 L431.53,167.36 L431.91,166.9 L432.3,166.44 L432.69,165.98 L433.08,165.52 L433.47,165.06 L433.86,164.6 L434.25,164.14 L434.64,163.68 L435.03,163.22 L435.43,162.76 L435.82,162.3 L436.21,161.84 L436.6,161.38 L436.99,160.92 L437.38,160.46 L437.77,160 L438.17,159.54 L438.56,159.08 L438.95,158.62 L439.34,158.16 L439.74,157.7 L440.13,157.24 L440.52,156.78 L440.91,156.32 L441.31,155.86 L441.7,155.4 L442.09,154.94 L442.49,154.48 L442.88,154.02 L443.28,153.56 L443.67,153.1 L444.06,152.64 L444.46,152.18 L444.85,151.72 L445.25,151.26 L445.64,150.8 L446.04,150.34 L446.43,149.88 L446.83,149.42 L447.22,148.96 L447.62,148.5 L448.02,148.04 L448.41,147.58 L448.81,147.12 L449.2,146.66 L449.6,146.2 L450,145.74 L450.39,145.28 L450.79,144.82 L451.19,144.35 L451.58,143.89 L451.98,143.43 L452.38,142.97 L452.77,142.51 L453.17,142.05 L453.57,141.59 L453.96,141.13 L454.36,140.67 L454.76,140.21 L455.16,139.75 L455.56,139.29 L455.95,138.83 L456.35,138.37 L456.75,137.91 L457.15,137.45 L457.55,136.99 L457.94,136.53 L458.34,136.07 L458.74,135.61 L459.14,135.15 L459.54,134.69 L459.94,134.23 L460.34,133.77 L460.74,133.31 L461.13,132.85 L461.53,132.39 L461.93,131.93 L462.33,131.47 L462.73,131.01 L463.13,130.55 L463.53,130.09 L463.93,129.63 L464.33,129.17 L464.73,128.71 L465.13,128.25 L462.87,127.19 L462.45,127.63 L462.03,128.08 L461.61,128.52 L461.19,128.96 L460.77,129.41 L460.35,129.85 L459.93,130.3 L459.51,130.74 L459.09,131.18 L458.67,131.63 L458.25,132.07 L457.84,132.51 L457.42,132.96 L457,133.4 L456.58,133.84 L456.16,134.29 L455.74,134.73 L455.33,135.18 L454.91,135.62 L454.49,136.06 L454.08,136.51 L453.66,136.95 L453.24,137.39 L452.83,137.84 L452.41,138.28 L451.99,138.72 L451.58,139.17 L451.16,139.61 L450.74,140.06 L450.33,140.5 L449.91,140.94 L449.5,141.39 L449.08,141.83 L448.67,142.27 L448.25,142.72 L447.84,143.16 L447.42,143.6 L447.01,144.05 L446.59,144.49 L446.18,144.94 L445.76,145.38 L445.35,145.82 L444.94,146.27 L444.52,146.71 L444.11,147.15 L443.69,147.6 L443.28,148.04 L442.87,148.48 L442.45,148.93 L442.04,149.37 L441.63,149.82 L441.22,150.26 L440.8,150.7 L440.39,151.15 L439.98,151.59 L439.57,152.03 L439.15,152.48 L438.74,152.92 L438.33,153.36 L437.92,153.81 L437.51,154.25 L437.1,154.7 L436.68,155.14 L436.27,155.58 L435.86,156.03 L435.45,156.47 L435.04,156.91 L434.63,157.36 L434.22,157.8 L433.81,158.24 L433.4,158.69 L432.99,159.13 L432.58,159.58 L432.17,160.02 L431.76,160.46 L431.35,160.91 L430.94,161.35 L430.53,161.79 L430.12,162.24 L429.71,162.68 L429.3,163.12 L428.89,163.57 L428.48,164.01 L428.07,164.46 L427.67,164.9 L427.26,165.34 L426.85,165.79 L426.44,166.23 L426.03,166.67 L425.62,167.12 L425.22,167.56 L424.81,168 L424.4,168.45 L423.99,168.89 L423.59,169.34 L423.18,169.78 L422.77,170.22 L422.36,170.67 L421.96,171.11 L421.55,171.55 L421.14,172 L420.74,172.44 L420.33,172.88 L419.92,173.33 L419.52,173.77 L419.11,174.22 L418.71,174.66 L418.3,175.1 L417.9,175.55 L417.49,175.99 L417.08,176.43 L416.68,176.88 L416.27,177.32 L415.87,177.76 L415.46,178.21 L415.06,178.65 L414.65,179.1 L414.25,179.54 L413.85,179.98 L413.44,180.43 L413.04,180.87 L412.63,181.31 L412.18,181.81 L411.74,182.3 L411.29,182.79 L410.84,183.29 L410.39,183.78 L409.94,184.27 L409.5,184.76 L409.05,185.26 L408.6,185.75 L408.15,186.24 L407.71,186.74 L407.26,187.23 L406.81,187.72 L406.36,188.21 L405.92,188.71 L405.47,189.2 L405.03,189.69 L404.58,190.19 L404.13,190.68 L403.69,191.17 L403.24,191.66 L402.8,192.16 L402.35,192.65 L401.91,193.14 L401.46,193.64 L401.02,194.13 L400.57,194.62 L400.13,195.12 L399.68,195.61 L399.24,196.1 L398.8,196.59 L398.35,197.09 L397.91,197.58 L397.46,198.07 L397.02,198.57 L396.58,199.06 L396.13,199.55 L395.69,200.04 L395.25,200.54 L394.81,201.03 L394.36,201.52 L393.92,202.02 L393.48,202.51 L393.04,203 L392.6,203.5 L392.15,203.99 L391.71,204.48 L391.27,204.97 L390.83,205.47 L390.39,205.96 L389.95,206.45 L389.51,206.95 L389.07,207.44 L388.63,207.93 L388.19,208.42 L387.75,208.92 L387.31,209.41 L386.87,209.9 L386.43,210.4 L385.99,210.89 L385.55,211.38 L385.11,211.87 L384.68,212.37 L384.24,212.86 L383.8,213.35 L383.36,213.85 L382.92,214.34 L382.48,214.83 L382.05,215.33 L381.61,215.82 L381.17,216.31 L380.74,216.8 L380.3,217.3 L379.86,217.79 L379.43,218.28 L378.99,218.78 L378.55,219.27 L378.12,219.76 L377.68,220.25 L377.25,220.75 L376.81,221.24 L376.37,221.73 L375.94,222.23 L375.5,222.72 L375.07,223.21 L374.64,223.7 L374.2,224.2 L373.77,224.69 L373.33,225.18 L372.9,225.68 L372.47,226.17 L372.03,226.66 L371.6,227.16 L371.17,227.65 L370.73,228.14 L370.3,228.63 L369.87,229.13 L369.43,229.62 L369,230.11 L368.57,230.61 L368.14,231.1 L367.71,231.59 L367.28,232.08 L366.84,232.58 L366.41,233.07 L365.98,233.56 L365.55,234.06 L365.12,234.55 L364.69,235.04 L364.26,235.54 L363.83,236.03 L363.4,236.52 L362.97,237.01 L362.54,237.51 L362.11,238 L361.68,238.49 L361.26,238.99 L360.83,239.48 L360.4,239.97 L359.97,240.46 L359.54,240.96 L359.11,241.45 L358.69,241.94 L358.26,242.44 L357.83,242.93 L357.41,243.42 L356.98,243.91 L356.55,244.41 L356.12,244.9 L355.7,245.39 L355.27,245.89 L354.85,246.38 L354.42,246.87 L354,247.37 L353.57,247.86 L353.15,248.35 L352.72,248.84 L352.3,249.34 L351.87,249.83 L351.45,250.32 L351.02,250.82 L350.6,251.31 L350.17,251.8 L349.75,252.29 L349.33,252.79 L348.9,253.28 L348.48,253.77 L348.06,254.27 L347.64,254.76 L347.21,255.25 L346.79,255.75 L346.37,256.24 L345.95,256.73 L345.53,257.22 L345.11,257.72 L344.68,258.21 L344.26,258.7 L343.84,259.2 L343.42,259.69 L343,260.18 L342.58,260.67 L342.16,261.17 L341.74,261.66 L341.32,262.15 L340.9,262.65 L340.48,263.14 L340.07,263.63 L339.65,264.12 L339.23,264.62 L338.81,265.11 L338.39,265.6 L337.97,266.1 L337.56,266.59 L337.14,267.08 L336.72,267.58 L336.3,268.07 L335.89,268.56 L335.47,269.05 L335.05,269.55 L334.64,270.04 L334.22,270.53 L333.81,271.03 L333.39,271.52 L332.97,272.01 L332.56,272.5 L332.14,273 L331.73,273.49 L331.31,273.98 L330.9,274.48 L330.48,274.97 L330.07,275.46 L329.66,275.96 L329.24,276.45 L328.83,276.94 L328.42,277.43 L328,277.93 L327.59,278.42 L327.18,278.91 L326.76,279.41 L326.35,279.9 L325.94,280.39 L325.53,280.88 L325.12,281.38 L324.7,281.87 L324.29,282.36 L323.88,282.86 L323.47,283.35 L323.06,283.84 L322.65,284.33 L322.24,284.83 L321.83,285.32 L321.42,285.81 L321.01,286.31 L320.6,286.8 L320.19,287.29 L319.78,287.79 L319.37,288.28 L318.96,288.77 L318.55,289.26 L318.14,289.76 L317.74,290.25 L317.33,290.74 L316.92,291.24 L316.51,291.73 L316.1,292.22 L315.7,292.71 L315.29,293.21 L314.88,293.7 L314.48,294.19 L314.07,294.69 L313.66,295.18 L313.26,295.67 L312.85,296.17 L312.44,296.66 L312.04,297.15 L311.63,297.64 L311.23,298.14 L310.82,298.63 L310.41,299.12 L310.01,299.62 L309.6,300.11 L309.2,300.6 L308.79,301.09 L308.39,301.59 L307.99,302.08 L307.58,302.57 L307.18,303.07 L306.77,303.56 L306.37,304.05 L305.96,304.54 L305.56,305.04 L305.16,305.53 L304.75,306.02 L304.35,306.52 L303.95,307.01 L303.55,307.5 L303.14,308 L302.74,308.49 L302.34,308.98 L301.93,309.47 L301.53,309.97 L301.13,310.46 L300.73,310.95 L300.33,311.45 L299.92,311.94 L299.52,312.43 L299.12,312.92 L298.72,313.42 L298.32,313.91 L297.92,314.4 L297.51,314.9 L297.11,315.39 L296.71,315.88 L296.31,316.38 L295.91,316.87 L295.51,317.36 L295.11,317.85 L294.71,318.35 L294.3,318.84 L293.9,319.33 L293.5,319.83 L293.1,320.32 L292.7,320.81 L292.3,321.3 L291.9,321.8 L291.5,322.29 L291.1,322.78 L290.7,323.28 L290.3,323.77 L289.9,324.26 L289.5,324.75 L289.09,325.25 L288.69,325.74 L288.29,326.23 L287.89,326.73 L287.49,327.22 L287.09,327.71 L286.69,328.21 L286.29,328.7 L285.89,329.19 L285.49,329.68 L285.08,330.18 L284.68,330.67 L284.28,331.16 L283.88,331.66 L283.48,332.15 L283.08,332.64 L282.67,333.13 L282.27,333.63 L281.87,334.12 L281.47,334.61 L281.06,335.11 L280.66,335.6 L280.26,336.09 L279.86,336.59 L279.45,337.08 L279.05,337.57 L278.64,338.06 L278.24,338.56 L277.84,339.05 L277.43,339.54 L277.03,340.04 L276.62,340.53 L276.22,341.02 L275.81,341.51 L275.4,342.01 L275,342.5 L274.59,342.99 L274.18,343.49 L273.78,343.98 L273.37,344.47 L272.96,344.96 L272.55,345.46 L272.14,345.95 L271.73,346.44 L271.32,346.94 L270.91,347.43 L270.5,347.92 L270.09,348.42 L269.68,348.91 L269.26,349.4 L268.85,349.89 L268.44,350.39 L268.02,350.88 L267.61,351.37 L267.19,351.87 L266.78,352.36 L266.36,352.85 L265.94,353.34 L265.52,353.84 L265.1,354.33 L264.68,354.82 L264.26,355.32 L263.84,355.81 L263.42,356.3 L262.99,356.8 L262.57,357.29 L262.14,357.78 L261.72,358.27 L261.29,358.77 L260.86,359.26 L260.43,359.75 L260,360.25 L259.57,360.74 L259.13,361.23 L258.7,361.72 L258.26,362.22 L257.83,362.71 L257.39,363.2 L256.95,363.7 L256.51,364.19 L256.07,364.68 L255.62,365.17 L255.18,365.67 L254.73,366.16 L254.28,366.65 L253.87,367.1 L253.47,367.54 L253.06,367.98 L252.65,368.43 L252.24,368.87 L251.83,369.32 L251.41,369.76 L251,370.2 L250.58,370.65 L250.16,371.09 L249.74,371.53 L249.31,371.98 L248.89,372.42 L248.46,372.86 L248.03,373.31 L247.6,373.75 L247.17,374.2 L246.74,374.64 L246.3,375.08 L245.86,375.53 L245.42,375.97 L244.97,376.41 L244.53,376.86 L244.08,377.3 L243.63,377.74 L243.17,378.19 L242.72,378.63 L242.26,379.08 L241.8,379.52 L241.33,379.96 L240.86,380.41 L240.39,380.85 L239.92,381.29 L239.44,381.74 L238.96,382.18 L238.47,382.62 L237.98,383.07 L237.49,383.51 L237,383.96 L236.5,384.4 L235.99,384.84 L235.48,385.29 L235.03,385.68 L234.57,386.07 L234.11,386.47 L233.64,386.86 L233.17,387.26 L232.7,387.65 L232.22,388.05 L231.74,388.44 L231.26,388.84 L230.77,389.23 L230.27,389.62 L229.78,390.02 L229.27,390.41 L228.77,390.81 L228.25,391.2 L227.74,391.6 L227.21,391.99 L226.69,392.38 L226.15,392.78 L225.61,393.17 L225.07,393.57 L224.52,393.96 L223.96,394.36 L223.47,394.7 L222.97,395.05 L222.47,395.39 L221.96,395.74 L221.45,396.08 L220.93,396.43 L220.41,396.77 L219.88,397.12 L219.34,397.46 L218.8,397.81 L218.25,398.15 L217.7,398.5 L217.13,398.84 L216.57,399.19 L215.99,399.53 L215.41,399.88 L214.82,400.22 L214.22,400.57 L213.61,400.91 L213.09,401.21 L212.55,401.5 L212.02,401.8 L211.47,402.1 L210.92,402.39 L210.36,402.69 L209.79,402.98 L209.22,403.28 L208.64,403.57 L208.05,403.87 L207.45,404.17 L206.85,404.46 L206.24,404.76 L205.61,405.05 L204.98,405.35 L204.34,405.64 L203.69,405.94 L203.14,406.19 L202.59,406.43 L202.02,406.68 L201.45,406.93 L200.88,407.17 L200.29,407.42 L199.7,407.67 L199.09,407.91 L198.48,408.16 L197.86,408.4 L197.24,408.65 L196.6,408.9 L195.95,409.14 L195.29,409.39 L194.63,409.64 L193.95,409.88 L193.26,410.13 L192.56,410.38 L191.99,410.57 L191.42,410.77 L190.83,410.97 L190.24,411.16 L189.64,411.36 L189.03,411.56 L188.42,411.76 L187.79,411.95 L187.15,412.15 L186.51,412.35 L185.86,412.55 L185.19,412.74 L184.52,412.94 L183.83,413.14 L183.13,413.33 L182.43,413.53 L181.71,413.73 L180.97,413.93 L180.23,414.12 L179.47,414.32 L178.7,414.52 L178.11,414.66 L177.52,414.81 L176.91,414.96 L176.3,415.11 L175.68,415.26 L175.05,415.4 L174.41,415.55 L173.76,415.7 L173.1,415.85 L172.43,416 L171.75,416.14 L171.05,416.29 L170.35,416.44 L169.64,416.59 L168.91,416.73 L168.17,416.88 L167.41,417.03 L166.65,417.18 L165.87,417.33 L165.07,417.47 L164.26,417.62 L163.43,417.77 L162.59,417.92 L161.73,418.07 L160.85,418.21 L160.26,418.31 L159.65,418.41 L159.04,418.51 L158.41,418.61 L157.78,418.71 L157.14,418.81 L156.48,418.9 L155.82,419 L155.15,419.1 L154.46,419.2 L153.76,419.3 L153.05,419.4 L152.33,419.5 L151.59,419.59 L150.84,419.69 L150.07,419.79 L149.29,419.89 L148.5,419.99 L147.68,420.09 L146.85,420.19 L146,420.28 L145.13,420.38 L144.24,420.48 L143.32,420.58 L142.39,420.68 L141.43,420.78 L140.44,420.88 L139.42,420.97 L138.37,421.07 L137.29,421.17 L136.17,421.27 L135.02,421.37 L133.82,421.47 L133.2,421.52 L132.57,421.57 L131.92,421.61 L131.27,421.66 L130.6,421.71 L129.91,421.76 L129.2,421.81 L128.48,421.86 L127.74,421.91 L126.98,421.96 L126.2,422.01 L125.39,422.06 L124.56,422.11 L123.7,422.16 L122.8,422.21 L121.88,422.26 L120.91,422.31 L119.9,422.35 L118.84,422.4 L117.73,422.45 L116.54,422.5 L115.28,422.55 L113.93,422.6 L112.45,422.65 L110.8,422.7 L108.94,422.75 L106.72,422.8 L103.82,422.85 L96.8,422.9" stroke="#ff0000" stroke-width="2.7" fill="none" stroke-linejoin="round" stroke-linecap="round"/>
<path d="M586.51,448.41 L585.59,448.39 L584.68,448.37 L583.78,448.36 L582.88,448.34 L581.99,448.32 L581.1,448.31 L580.22,448.29 L579.34,448.28 L578.47,448.26 L577.61,448.24 L576.75,448.23 L575.9,448.21 L575.05,448.2 L574.2,448.18 L573.37,448.16 L572.53,448.15 L571.7,448.13 L570.88,448.12 L570.06,448.1 L569.25,448.08 L568.44,448.07 L567.64,448.05 L566.84,448.03 L566.05,448.02 L565.26,448 L564.48,447.99 L563.7,447.97 L562.92,447.95 L562.15,447.94 L561.39,447.92 L560.63,447.91 L559.87,447.89 L559.12,447.87 L558.37,447.86 L557.63,447.84 L556.89,447.82 L556.15,447.81 L555.42,447.79 L554.69,447.78 L553.97,447.76 L553.25,447.74 L552.54,447.73 L551.83,447.71 L551.12,447.7 L550.42,447.68 L549.72,447.66 L549.03,447.65 L548.33,447.63 L547.65,447.62 L546.96,447.6 L546.28,447.58 L545.61,447.57 L544.94,447.55 L544.27,447.53 L543.6,447.52 L542.94,447.5 L542.28,447.49 L541.63,447.47 L540.98,447.45 L540.33,447.44 L539.68,447.42 L539.04,447.41 L538.41,447.39 L537.77,447.37 L537.14,447.36 L536.51,447.34 L535.89,447.32 L535.27,447.31 L534.65,447.29 L534.03,447.28 L533.42,447.26 L532.81,447.24 L532.21,447.23 L531.61,447.21 L530.71,447.19 L529.82,447.16 L528.93,447.14 L528.06,447.12 L527.18,447.09 L526.32,447.07 L525.46,447.04 L524.61,447.02 L523.76,446.99 L522.92,446.97 L522.09,446.95 L521.26,446.92 L520.44,446.9 L519.62,446.87 L518.81,446.85 L518.01,446.82 L517.21,446.8 L516.42,446.78 L515.63,446.75 L514.85,446.73 L514.07,446.7 L513.3,446.68 L512.53,446.66 L511.77,446.63 L511.02,446.61 L510.27,446.58 L509.52,446.56 L508.78,446.53 L508.04,446.51 L507.31,446.49 L506.59,446.46 L505.87,446.44 L505.15,446.41 L504.44,446.39 L503.73,446.37 L503.03,446.34 L502.33,446.32 L501.64,446.29 L500.95,446.27 L500.27,446.24 L499.59,446.22 L498.91,446.2 L498.24,446.17 L497.57,446.15 L496.91,446.12 L496.25,446.1 L495.6,446.07 L494.95,446.05 L494.3,446.03 L493.66,446 L493.02,445.98 L492.38,445.95 L491.75,445.93 L491.13,445.91 L490.5,445.88 L489.88,445.86 L489.27,445.83 L488.66,445.81 L488.05,445.78 L487.44,445.76 L486.84,445.74 L486.05,445.7 L485.26,445.67 L484.47,445.64 L483.69,445.61 L482.92,445.57 L482.16,445.54 L481.4,445.51 L480.64,445.48 L479.9,445.45 L479.15,445.41 L478.42,445.38 L477.69,445.35 L476.96,445.32 L476.24,445.28 L475.52,445.25 L474.81,445.22 L474.11,445.19 L473.41,445.16 L472.72,445.12 L472.03,445.09 L471.34,445.06 L470.66,445.03 L469.99,444.99 L469.32,444.96 L468.65,444.93 L467.99,444.9 L467.34,444.86 L466.68,444.83 L466.04,444.8 L465.4,444.77 L464.76,444.74 L464.12,444.7 L463.5,444.67 L462.87,444.64 L462.25,444.61 L461.63,444.57 L461.02,444.54 L460.41,444.51 L459.81,444.48 L459.21,444.45 L458.46,444.41 L457.73,444.36 L456.99,444.32 L456.27,444.28 L455.55,444.24 L454.83,444.2 L454.12,444.16 L453.42,444.12 L452.72,444.08 L452.03,444.04 L451.35,444 L450.67,443.96 L449.99,443.92 L449.32,443.88 L448.65,443.84 L447.99,443.8 L447.34,443.76 L446.69,443.72 L446.04,443.68 L445.4,443.64 L444.77,443.6 L444.14,443.56 L443.51,443.52 L442.89,443.48 L442.28,443.44 L441.66,443.4 L441.06,443.36 L440.45,443.32 L439.74,443.27 L439.02,443.22 L438.32,443.17 L437.62,443.12 L436.93,443.07 L436.24,443.03 L435.56,442.98 L434.88,442.93 L434.21,442.88 L433.55,442.83 L432.89,442.78 L432.24,442.74 L431.59,442.69 L430.95,442.64 L430.31,442.59 L429.68,442.54 L429.05,442.49 L428.43,442.45 L427.81,442.4 L427.2,442.35 L426.59,442.3 L425.99,442.25 L425.29,442.2 L424.6,442.14 L423.92,442.08 L423.24,442.03 L422.57,441.97 L421.9,441.91 L421.24,441.86 L420.59,441.8 L419.94,441.74 L419.3,441.69 L418.66,441.63 L418.03,441.57 L417.4,441.52 L416.78,441.46 L416.17,441.4 L415.56,441.35 L414.95,441.29 L414.35,441.24 L413.67,441.17 L413,441.11 L412.34,441.04 L411.68,440.98 L411.02,440.91 L410.37,440.85 L409.73,440.78 L409.1,440.72 L408.47,440.65 L407.84,440.59 L407.23,440.53 L406.61,440.46 L406.01,440.4 L405.4,440.33 L404.73,440.26 L404.07,440.19 L403.41,440.11 L402.76,440.04 L402.12,439.97 L401.48,439.9 L400.85,439.82 L400.22,439.75 L399.6,439.68 L398.99,439.61 L398.38,439.53 L397.78,439.46 L397.18,439.39 L396.53,439.31 L395.88,439.23 L395.24,439.15 L394.6,439.07 L393.97,438.99 L393.35,438.9 L392.73,438.82 L392.12,438.74 L391.51,438.66 L390.92,438.58 L390.26,438.49 L389.62,438.4 L388.98,438.32 L388.35,438.23 L387.73,438.14 L387.11,438.05 L386.5,437.96 L385.89,437.87 L385.3,437.78 L384.65,437.69 L384.01,437.59 L383.38,437.49 L382.75,437.4 L382.14,437.3 L381.53,437.2 L380.92,437.11 L380.32,437.01 L379.68,436.9 L379.05,436.8 L378.43,436.69 L377.81,436.59 L377.2,436.49 L376.59,436.38 L375.99,436.28 L375.4,436.17 L374.77,436.06 L374.15,435.94 L373.54,435.83 L372.93,435.72 L372.33,435.61 L371.74,435.49 L371.11,435.37 L370.49,435.25 L369.88,435.13 L369.27,435.01 L368.67,434.89 L368.08,434.77 L367.46,434.64 L366.84,434.51 L366.24,434.38 L365.64,434.25 L365.05,434.12 L364.43,433.98 L363.81,433.85 L363.21,433.71 L362.61,433.57 L362.02,433.44 L361.41,433.29 L360.8,433.15 L360.2,433 L359.61,432.86 L359.02,432.71 L358.42,432.56 L357.82,432.4 L357.22,432.25 L356.64,432.1 L356.03,431.94 L355.44,431.78 L354.85,431.61 L354.27,431.45 L353.66,431.28 L353.07,431.11 L352.49,430.94 L351.91,430.77 L351.32,430.6 L350.73,430.42 L350.15,430.24 L349.56,430.06 L348.97,429.87 L348.39,429.69 L347.8,429.49 L347.22,429.3 L346.64,429.11 L346.05,428.9 L345.47,428.7 L344.9,428.5 L344.32,428.29 L343.74,428.08 L343.17,427.87 L342.59,427.65 L342.03,427.44 L341.46,427.22 L340.89,426.99 L340.33,426.77 L339.76,426.53 L339.2,426.3 L338.64,426.06 L338.08,425.82 L337.53,425.58 L336.97,425.33 L336.42,425.08 L335.86,424.82 L335.31,424.56 L334.76,424.3 L334.21,424.03 L333.66,423.76 L333.12,423.48 L332.57,423.2 L332.03,422.92 L331.49,422.63 L330.96,422.34 L330.43,422.04 L329.9,421.74 L329.38,421.44 L328.86,421.13 L328.34,420.81 L327.82,420.49 L327.3,420.17 L326.79,419.84 L326.29,419.51 L325.78,419.17 L325.28,418.82 L324.78,418.48 L324.29,418.12 L323.79,417.76 L323.31,417.39 L322.83,417.02 L322.36,416.65 L321.88,416.27 L321.41,415.89 L320.96,415.5 L320.5,415.1 L320.04,414.7 L319.6,414.3 L319.16,413.89 L318.72,413.47 L318.28,413.04 L317.85,412.61 L317.43,412.18 L317.01,411.73 L316.61,411.29 L316.2,410.84 L315.8,410.38 L315.41,409.92 L315.03,409.45 L314.65,408.97 L314.28,408.5 L313.92,408.01 L313.56,407.52 L313.21,407.03 L312.86,406.53 L312.53,406.03 L312.2,405.52 L311.88,405.01 L311.57,404.49 L311.26,403.97 L310.96,403.44 L310.67,402.91 L310.39,402.38 L310.12,401.84 L309.85,401.3 L309.59,400.75 L309.34,400.2 L309.1,399.64 L308.87,399.09 L308.64,398.53 L308.42,397.97 L308.21,397.4 L308.01,396.83 L307.81,396.26 L307.63,395.68 L307.45,395.1 L307.27,394.52 L307.11,393.94 L306.96,393.36 L306.81,392.77 L306.67,392.18 L306.53,391.59 L306.41,391.01 L306.29,390.42 L306.18,389.82 L306.07,389.22 L305.97,388.63 L305.88,388.03 L305.8,387.43 L305.73,386.84 L305.66,386.24 L305.59,385.64 L305.54,385.04 L305.49,384.43 L305.44,383.83 L305.4,383.22 L305.37,382.62 L305.35,382.01 L305.33,381.41 L305.31,380.8 L305.31,380.2 L305.3,379.59 L305.31,378.99 L305.32,378.38 L305.33,377.78 L305.35,377.17 L305.38,376.57 L305.41,375.96 L305.44,375.36 L305.48,374.75 L305.53,374.15 L305.58,373.54 L305.63,372.94 L305.69,372.33 L305.75,371.74 L305.82,371.14 L305.89,370.54 L305.97,369.95 L306.05,369.35 L306.14,368.75 L306.23,368.16 L306.32,367.56 L306.42,366.96 L306.52,366.37 L306.62,365.77 L306.73,365.17 L306.85,364.58 L306.96,363.98 L307.08,363.39 L307.2,362.8 L307.33,362.21 L307.46,361.62 L307.59,361.03 L307.73,360.45 L307.87,359.86 L308.01,359.27 L308.16,358.68 L308.31,358.09 L308.46,357.5 L308.61,356.92 L308.77,356.34 L308.93,355.76 L309.1,355.18 L309.26,354.6 L309.43,354.02 L309.6,353.44 L309.78,352.86 L309.96,352.28 L310.14,351.69 L310.32,351.12 L310.5,350.55 L310.69,349.98 L310.88,349.4 L311.07,348.83 L311.26,348.26 L311.46,347.69 L311.66,347.11 L311.86,346.54 L312.06,345.97 L312.27,345.4 L312.47,344.84 L312.68,344.27 L312.89,343.71 L313.1,343.15 L313.32,342.58 L313.54,342.02 L313.76,341.45 L313.98,340.89 L314.2,340.32 L314.43,339.76 L314.65,339.2 L314.88,338.65 L315.11,338.09 L315.34,337.53 L315.57,336.98 L315.81,336.42 L316.05,335.86 L316.29,335.31 L316.53,334.75 L316.77,334.19 L317.02,333.64 L317.26,333.09 L317.51,332.54 L317.75,331.99 L318,331.44 L318.25,330.89 L318.51,330.35 L318.76,329.8 L319.02,329.25 L319.27,328.7 L319.53,328.15 L319.79,327.6 L320.06,327.06 L320.32,326.51 L320.58,325.97 L320.85,325.43 L321.11,324.89 L321.38,324.35 L321.65,323.81 L321.92,323.26 L322.19,322.72 L322.46,322.18 L322.74,321.64 L323.02,321.1 L323.29,320.56 L323.57,320.02 L323.85,319.48 L324.13,318.95 L324.41,318.42 L324.69,317.89 L324.97,317.35 L325.26,316.82 L325.54,316.29 L325.83,315.76 L326.12,315.22 L326.41,314.69 L326.7,314.16 L326.99,313.63 L327.28,313.09 L327.58,312.56 L327.87,312.03 L328.16,311.51 L328.46,310.98 L328.75,310.46 L329.05,309.93 L329.35,309.41 L329.64,308.88 L329.94,308.36 L330.24,307.84 L330.55,307.31 L330.85,306.79 L331.15,306.26 L331.46,305.74 L331.77,305.21 L332.07,304.69 L332.38,304.17 L332.69,303.64 L333,303.13 L333.31,302.61 L333.62,302.09 L333.93,301.58 L334.24,301.06 L334.55,300.54 L334.86,300.03 L335.17,299.51 L335.49,299 L335.8,298.48 L336.12,297.96 L336.44,297.45 L336.76,296.93 L337.08,296.42 L337.4,295.9 L337.72,295.38 L338.04,294.87 L338.37,294.35 L338.69,293.84 L339.01,293.33 L339.33,292.83 L339.65,292.32 L339.98,291.81 L340.3,291.3 L340.62,290.79 L340.95,290.29 L341.28,289.78 L341.61,289.27 L341.93,288.76 L342.26,288.25 L342.59,287.75 L342.93,287.24 L343.26,286.73 L343.59,286.22 L343.92,285.71 L344.26,285.2 L344.59,284.7 L344.93,284.19 L345.26,283.69 L345.59,283.19 L345.93,282.69 L346.26,282.19 L346.6,281.69 L346.93,281.19 L347.27,280.69 L347.61,280.19 L347.94,279.69 L348.28,279.19 L348.62,278.69 L348.96,278.19 L349.3,277.69 L349.65,277.19 L349.99,276.69 L350.33,276.19 L350.68,275.69 L351.02,275.19 L351.37,274.69 L351.71,274.19 L352.06,273.69 L352.41,273.19 L352.75,272.69 L353.1,272.19 L353.45,271.7 L353.79,271.2 L354.14,270.71 L354.48,270.22 L354.83,269.73 L355.18,269.24 L355.53,268.74 L355.87,268.25 L356.22,267.76 L356.57,267.27 L356.92,266.78 L357.27,266.28 L357.63,265.79 L357.98,265.3 L358.33,264.81 L358.68,264.32 L359.04,263.82 L359.39,263.33 L359.75,262.84 L360.11,262.35 L360.46,261.86 L360.82,261.36 L361.18,260.87 L361.54,260.38 L361.89,259.89 L362.25,259.4 L362.61,258.9 L362.97,258.42 L363.32,257.94 L363.68,257.45 L364.04,256.97 L364.39,256.48 L364.75,256 L365.11,255.52 L365.47,255.03 L365.83,254.55 L366.19,254.06 L366.55,253.58 L366.91,253.1 L367.27,252.61 L367.63,252.13 L367.99,251.65 L368.36,251.16 L368.72,250.68 L369.08,250.19 L369.45,249.71 L369.81,249.23 L370.18,248.74 L370.54,248.26 L370.91,247.77 L371.28,247.29 L371.64,246.81 L372.01,246.32 L372.38,245.84 L372.75,245.35 L373.12,244.87 L373.49,244.39 L373.86,243.9 L374.23,243.42 L374.6,242.93 L374.97,242.45 L375.34,241.97 L375.7,241.5 L376.07,241.02 L376.44,240.55 L376.81,240.07 L377.17,239.6 L377.54,239.12 L377.91,238.64 L378.28,238.17 L378.65,237.69 L379.02,237.22 L379.39,236.74 L379.76,236.26 L380.13,235.79 L380.51,235.31 L380.88,234.84 L381.25,234.36 L381.62,233.89 L382,233.41 L382.37,232.93 L382.75,232.46 L383.12,231.98 L383.5,231.51 L383.87,231.03 L384.25,230.55 L384.63,230.08 L385,229.6 L385.38,229.13 L385.76,228.65 L386.13,228.18 L386.51,227.7 L386.89,227.22 L387.27,226.75 L387.65,226.27 L388.03,225.8 L388.41,225.32 L388.79,224.84 L389.17,224.37 L389.55,223.89 L389.94,223.42 L390.32,222.94 L390.69,222.47 L391.07,222.01 L391.45,221.54 L391.82,221.07 L392.2,220.6 L392.58,220.13 L392.96,219.67 L393.34,219.2 L393.71,218.73 L394.09,218.26 L394.47,217.8 L394.85,217.33 L395.23,216.86 L395.61,216.39 L395.99,215.92 L396.38,215.46 L396.76,214.99 L397.14,214.52 L397.52,214.05 L397.9,213.59 L398.29,213.12 L398.67,212.65 L399.05,212.18 L399.44,211.71 L399.82,211.25 L400.21,210.78 L400.59,210.31 L400.97,209.84 L401.36,209.38 L401.75,208.91 L402.13,208.44 L402.52,207.97 L402.9,207.5 L403.29,207.04 L403.68,206.57 L404.07,206.1 L404.45,205.63 L404.84,205.17 L405.23,204.7 L405.62,204.23 L406.01,203.76 L406.4,203.29 L406.79,202.83 L407.18,202.36 L407.57,201.89 L407.96,201.42 L408.35,200.95 L408.74,200.49 L409.13,200.02 L409.52,199.55 L409.91,199.08 L410.3,198.62 L410.7,198.15 L411.08,197.69 L411.47,197.23 L411.85,196.77 L412.24,196.31 L412.63,195.85 L413.01,195.39 L413.4,194.93 L413.79,194.47 L414.18,194.01 L414.57,193.55 L414.95,193.09 L415.34,192.63 L415.73,192.17 L416.12,191.71 L416.51,191.25 L416.9,190.79 L417.29,190.33 L417.68,189.87 L418.07,189.41 L418.46,188.95 L418.85,188.49 L419.24,188.03 L419.63,187.57 L420.02,187.11 L420.42,186.66 L420.81,186.2 L421.2,185.74 L421.59,185.28 L421.99,184.82 L422.38,184.36 L422.77,183.9 L423.17,183.44 L423.56,182.98 L423.95,182.52 L424.35,182.06 L424.74,181.6 L425.14,181.14 L425.53,180.68 L425.93,180.22 L426.32,179.76 L426.72,179.3 L427.11,178.84 L427.51,178.38 L427.9,177.92 L428.3,177.46 L428.7,177 L429.09,176.54 L429.49,176.08 L429.89,175.62 L430.28,175.16 L430.68,174.7 L431.08,174.24 L431.48,173.78 L431.88,173.32 L432.27,172.86 L432.67,172.4 L433.07,171.94 L433.47,171.48 L433.87,171.02 L434.27,170.56 L434.67,170.11 L435.07,169.65 L435.47,169.19 L435.87,168.73 L436.27,168.27 L436.67,167.81 L437.07,167.35 L437.47,166.89 L437.87,166.43 L438.27,165.97 L438.67,165.51 L439.08,165.05 L439.48,164.59 L439.87,164.14 L440.27,163.69 L440.66,163.23 L441.06,162.78 L441.45,162.33 L441.85,161.88 L442.25,161.43 L442.64,160.98 L443.04,160.52 L443.44,160.07 L443.83,159.62 L444.23,159.17 L444.63,158.72 L445.02,158.27 L445.42,157.81 L445.82,157.36 L446.22,156.91 L446.61,156.46 L447.01,156.01 L447.41,155.56 L447.81,155.1 L448.21,154.65 L448.61,154.2 L449.01,153.75 L449.4,153.3 L449.8,152.85 L450.2,152.39 L450.6,151.94 L451,151.49 L451.4,151.04 L451.8,150.59 L452.2,150.14 L452.6,149.68 L453,149.23 L453.4,148.78 L453.8,148.33 L454.21,147.88 L454.61,147.43 L455.01,146.97 L455.41,146.52 L455.81,146.07 L456.21,145.62 L456.61,145.17 L457.02,144.72 L457.42,144.26 L457.82,143.81 L458.22,143.36 L458.63,142.91 L459.03,142.46 L459.43,142.01 L459.83,141.55 L460.24,141.1 L460.64,140.65 L461.04,140.2 L461.45,139.75 L461.85,139.3 L462.25,138.84 L462.66,138.39 L463.06,137.94 L463.47,137.49 L463.87,137.04 L464.27,136.59 L464.68,136.13 L465.08,135.68 L465.49,135.23 L465.89,134.78 L466.3,134.33 L466.7,133.88 L467.11,133.42 L467.51,132.97 L467.92,132.52 L468.32,132.07 L468.73,131.62 L469.14,131.17 L469.54,130.71 L469.95,130.26 L470.35,129.81 L470.76,129.36 L471.17,128.91 L471.57,128.46 L468.89,126.89 L468.46,127.33 L468.03,127.77 L467.61,128.22 L467.18,128.66 L466.75,129.11 L466.33,129.55 L465.9,129.99 L465.48,130.44 L465.05,130.88 L464.62,131.32 L464.2,131.77 L463.77,132.21 L463.35,132.66 L462.92,133.1 L462.5,133.54 L462.07,133.99 L461.65,134.43 L461.22,134.88 L460.8,135.32 L460.37,135.76 L459.95,136.21 L459.52,136.65 L459.1,137.1 L458.68,137.54 L458.25,137.98 L457.83,138.43 L457.4,138.87 L456.98,139.31 L456.56,139.76 L456.13,140.2 L455.71,140.65 L455.29,141.09 L454.86,141.53 L454.44,141.98 L454.02,142.42 L453.59,142.87 L453.17,143.31 L452.75,143.75 L452.33,144.2 L451.9,144.64 L451.48,145.08 L451.06,145.53 L450.64,145.97 L450.22,146.42 L449.79,146.86 L449.37,147.3 L448.95,147.75 L448.53,148.19 L448.11,148.64 L447.69,149.08 L447.26,149.52 L446.84,149.97 L446.42,150.41 L446,150.86 L445.58,151.3 L445.16,151.74 L444.74,152.19 L444.32,152.63 L443.9,153.07 L443.48,153.52 L443.06,153.96 L442.64,154.41 L442.22,154.85 L441.8,155.29 L441.38,155.74 L440.96,156.18 L440.54,156.63 L440.12,157.07 L439.7,157.51 L439.28,157.96 L438.86,158.4 L438.44,158.84 L438.02,159.29 L437.61,159.73 L437.19,160.18 L436.77,160.62 L436.35,161.06 L435.93,161.51 L435.51,161.95 L435.09,162.4 L434.68,162.84 L434.26,163.28 L433.84,163.73 L433.42,164.17 L433.01,164.62 L432.59,165.06 L432.17,165.5 L431.75,165.95 L431.34,166.39 L430.92,166.83 L430.5,167.28 L430.09,167.72 L429.67,168.17 L429.25,168.61 L428.84,169.05 L428.42,169.5 L428,169.94 L427.59,170.39 L427.17,170.83 L426.76,171.27 L426.34,171.72 L425.92,172.16 L425.51,172.61 L425.09,173.05 L424.68,173.49 L424.26,173.94 L423.85,174.38 L423.43,174.82 L423.02,175.27 L422.6,175.71 L422.19,176.16 L421.77,176.6 L421.36,177.04 L420.95,177.49 L420.53,177.93 L420.12,178.38 L419.7,178.82 L419.29,179.26 L418.88,179.71 L418.46,180.15 L418.05,180.59 L417.64,181.04 L417.22,181.48 L416.81,181.93 L416.4,182.37 L415.98,182.81 L415.57,183.26 L415.16,183.7 L414.75,184.15 L414.33,184.59 L413.92,185.03 L413.51,185.48 L413.1,185.92 L412.69,186.37 L412.27,186.81 L411.86,187.25 L411.45,187.7 L411.04,188.14 L410.63,188.58 L410.22,189.03 L409.81,189.47 L409.39,189.92 L408.98,190.36 L408.57,190.8 L408.16,191.25 L407.75,191.69 L407.34,192.14 L406.93,192.58 L406.52,193.02 L406.11,193.47 L405.7,193.91 L405.29,194.35 L404.88,194.8 L404.47,195.24 L404.06,195.69 L403.65,196.13 L403.25,196.57 L402.84,197.02 L402.43,197.46 L402.02,197.91 L401.61,198.35 L401.2,198.79 L400.79,199.24 L400.39,199.68 L399.98,200.13 L399.57,200.57 L399.16,201.01 L398.75,201.46 L398.35,201.9 L397.94,202.34 L397.53,202.79 L397.12,203.23 L396.72,203.68 L396.31,204.12 L395.9,204.56 L395.5,205.01 L395.09,205.45 L394.68,205.9 L394.28,206.34 L393.87,206.78 L393.47,207.23 L393.06,207.67 L392.65,208.11 L392.25,208.56 L391.84,209 L391.44,209.45 L391.03,209.89 L390.63,210.33 L390.22,210.78 L389.82,211.22 L389.41,211.67 L389.01,212.11 L388.61,212.55 L388.2,213 L387.8,213.44 L387.39,213.89 L386.99,214.33 L386.54,214.82 L386.09,215.32 L385.64,215.81 L385.2,216.3 L384.75,216.79 L384.3,217.29 L383.85,217.78 L383.41,218.27 L382.96,218.77 L382.51,219.26 L382.07,219.75 L381.62,220.25 L381.17,220.74 L380.73,221.23 L380.28,221.73 L379.83,222.22 L379.39,222.71 L378.94,223.21 L378.5,223.7 L378.05,224.19 L377.61,224.69 L377.16,225.18 L376.72,225.67 L376.27,226.17 L375.83,226.66 L375.39,227.15 L374.94,227.65 L374.5,228.14 L374.05,228.63 L373.61,229.12 L373.17,229.62 L372.72,230.11 L372.28,230.6 L371.84,231.1 L371.4,231.59 L370.95,232.08 L370.51,232.58 L370.07,233.07 L369.63,233.56 L369.19,234.06 L368.75,234.55 L368.3,235.04 L367.86,235.54 L367.42,236.03 L366.98,236.52 L366.54,237.02 L366.1,237.51 L365.66,238 L365.22,238.5 L364.78,238.99 L364.34,239.48 L363.9,239.97 L363.46,240.47 L363.02,240.96 L362.59,241.45 L362.15,241.95 L361.71,242.44 L361.27,242.93 L360.83,243.43 L360.39,243.92 L359.96,244.41 L359.52,244.91 L359.08,245.4 L358.65,245.89 L358.21,246.39 L357.77,246.88 L357.34,247.37 L356.9,247.87 L356.46,248.36 L356.03,248.85 L355.59,249.35 L355.16,249.84 L354.72,250.33 L354.29,250.83 L353.85,251.32 L353.42,251.81 L352.98,252.3 L352.55,252.8 L352.11,253.29 L351.68,253.78 L351.25,254.28 L350.81,254.77 L350.38,255.26 L349.95,255.76 L349.51,256.25 L349.08,256.74 L348.65,257.24 L348.21,257.73 L347.78,258.22 L347.35,258.72 L346.92,259.21 L346.49,259.7 L346.06,260.2 L345.63,260.69 L345.19,261.18 L344.76,261.68 L344.33,262.17 L343.9,262.66 L343.47,263.15 L343.04,263.65 L342.61,264.14 L342.18,264.63 L341.75,265.13 L341.32,265.62 L340.9,266.11 L340.47,266.61 L340.04,267.1 L339.61,267.59 L339.18,268.09 L338.75,268.58 L338.33,269.07 L337.9,269.57 L337.47,270.06 L337.04,270.55 L336.62,271.05 L336.19,271.54 L335.76,272.03 L335.34,272.53 L334.91,273.02 L334.49,273.51 L334.06,274.01 L333.63,274.5 L333.21,274.99 L332.78,275.48 L332.36,275.98 L331.93,276.47 L331.51,276.96 L331.08,277.46 L330.66,277.95 L330.24,278.44 L329.81,278.94 L329.39,279.43 L328.97,279.92 L328.54,280.42 L328.12,280.91 L327.7,281.4 L327.27,281.9 L326.85,282.39 L326.43,282.88 L326.01,283.38 L325.59,283.87 L325.16,284.36 L324.74,284.86 L324.32,285.35 L323.9,285.84 L323.48,286.33 L323.06,286.83 L322.64,287.32 L322.22,287.81 L321.8,288.31 L321.38,288.8 L320.96,289.29 L320.54,289.79 L320.12,290.28 L319.7,290.77 L319.28,291.27 L318.86,291.76 L318.44,292.25 L318.02,292.75 L317.61,293.24 L317.19,293.73 L316.77,294.23 L316.35,294.72 L315.93,295.21 L315.52,295.71 L315.1,296.2 L314.68,296.69 L314.27,297.18 L313.85,297.68 L313.43,298.17 L313.02,298.66 L312.6,299.16 L312.18,299.65 L311.77,300.14 L311.35,300.64 L310.93,301.13 L310.52,301.62 L310.1,302.12 L309.69,302.61 L309.27,303.1 L308.86,303.6 L308.44,304.09 L308.03,304.58 L307.61,305.08 L307.2,305.57 L306.79,306.06 L306.37,306.56 L305.96,307.05 L305.54,307.54 L305.13,308.04 L304.72,308.53 L304.3,309.02 L303.89,309.51 L303.48,310.01 L303.06,310.5 L302.65,310.99 L302.24,311.49 L301.82,311.98 L301.41,312.47 L301,312.97 L300.59,313.46 L300.17,313.95 L299.76,314.45 L299.35,314.94 L298.94,315.43 L298.52,315.93 L298.11,316.42 L297.7,316.91 L297.29,317.41 L296.88,317.9 L296.46,318.39 L296.05,318.89 L295.64,319.38 L295.23,319.87 L294.82,320.36 L294.41,320.86 L293.99,321.35 L293.58,321.84 L293.17,322.34 L292.76,322.83 L292.35,323.32 L291.94,323.82 L291.52,324.31 L291.11,324.8 L290.7,325.3 L290.29,325.79 L289.88,326.28 L289.47,326.78 L289.05,327.27 L288.64,327.76 L288.23,328.26 L287.82,328.75 L287.41,329.24 L286.99,329.74 L286.58,330.23 L286.17,330.72 L285.76,331.22 L285.35,331.71 L284.93,332.2 L284.52,332.69 L284.11,333.19 L283.7,333.68 L283.28,334.17 L282.87,334.67 L282.46,335.16 L282.04,335.65 L281.63,336.15 L281.21,336.64 L280.8,337.13 L280.39,337.63 L279.97,338.12 L279.56,338.61 L279.14,339.11 L278.73,339.6 L278.31,340.09 L277.9,340.59 L277.48,341.08 L277.06,341.57 L276.65,342.07 L276.23,342.56 L275.81,343.05 L275.39,343.54 L274.98,344.04 L274.56,344.53 L274.14,345.02 L273.72,345.52 L273.3,346.01 L272.88,346.5 L272.46,347 L272.04,347.49 L271.61,347.98 L271.19,348.48 L270.77,348.97 L270.35,349.46 L269.92,349.96 L269.5,350.45 L269.07,350.94 L268.65,351.44 L268.22,351.93 L267.79,352.42 L267.37,352.92 L266.94,353.41 L266.51,353.9 L266.08,354.4 L265.65,354.89 L265.22,355.38 L264.78,355.87 L264.35,356.37 L263.92,356.86 L263.48,357.35 L263.04,357.85 L262.61,358.34 L262.17,358.83 L261.73,359.33 L261.29,359.82 L260.85,360.31 L260.4,360.81 L259.96,361.3 L259.52,361.79 L259.07,362.29 L258.62,362.78 L258.22,363.22 L257.81,363.67 L257.41,364.11 L257,364.55 L256.59,365 L256.18,365.44 L255.77,365.89 L255.36,366.33 L254.94,366.77 L254.53,367.22 L254.11,367.66 L253.69,368.11 L253.28,368.55 L252.85,368.99 L252.43,369.44 L252.01,369.88 L251.58,370.33 L251.15,370.77 L250.73,371.21 L250.29,371.66 L249.86,372.1 L249.43,372.54 L248.99,372.99 L248.55,373.43 L248.11,373.88 L247.67,374.32 L247.22,374.76 L246.78,375.21 L246.33,375.65 L245.88,376.1 L245.42,376.54 L244.96,376.98 L244.51,377.43 L244.04,377.87 L243.58,378.31 L243.11,378.76 L242.64,379.2 L242.17,379.65 L241.69,380.09 L241.22,380.53 L240.73,380.98 L240.25,381.42 L239.76,381.87 L239.27,382.31 L238.77,382.75 L238.27,383.2 L237.77,383.64 L237.26,384.09 L236.81,384.48 L236.35,384.87 L235.89,385.27 L235.43,385.66 L234.96,386.06 L234.49,386.45 L234.02,386.85 L233.54,387.24 L233.06,387.64 L232.57,388.03 L232.08,388.43 L231.59,388.82 L231.09,389.21 L230.59,389.61 L230.08,390 L229.57,390.4 L229.06,390.79 L228.53,391.19 L228.01,391.58 L227.48,391.98 L226.94,392.37 L226.4,392.77 L225.85,393.16 L225.29,393.55 L224.74,393.95 L224.24,394.29 L223.74,394.64 L223.24,394.98 L222.73,395.33 L222.21,395.68 L221.69,396.02 L221.16,396.37 L220.63,396.71 L220.1,397.06 L219.55,397.4 L219,397.75 L218.45,398.09 L217.88,398.44 L217.31,398.78 L216.74,399.13 L216.15,399.47 L215.56,399.82 L214.96,400.16 L214.36,400.51 L213.83,400.8 L213.3,401.1 L212.76,401.4 L212.22,401.69 L211.67,401.99 L211.11,402.28 L210.54,402.58 L209.97,402.88 L209.39,403.17 L208.8,403.47 L208.21,403.76 L207.61,404.06 L207,404.36 L206.38,404.65 L205.75,404.95 L205.11,405.24 L204.46,405.54 L203.81,405.83 L203.25,406.08 L202.69,406.33 L202.12,406.57 L201.55,406.82 L200.96,407.07 L200.37,407.31 L199.77,407.56 L199.17,407.81 L198.55,408.05 L197.92,408.3 L197.29,408.55 L196.65,408.79 L195.99,409.04 L195.33,409.29 L194.66,409.53 L193.97,409.78 L193.28,410.03 L192.57,410.27 L192,410.47 L191.42,410.67 L190.83,410.87 L190.23,411.06 L189.63,411.26 L189.02,411.46 L188.39,411.65 L187.76,411.85 L187.12,412.05 L186.47,412.25 L185.81,412.44 L185.14,412.64 L184.46,412.84 L183.77,413.04 L183.07,413.23 L182.36,413.43 L181.63,413.63 L180.89,413.82 L180.14,414.02 L179.38,414.22 L178.8,414.37 L178.21,414.52 L177.61,414.66 L177,414.81 L176.39,414.96 L175.76,415.11 L175.13,415.25 L174.49,415.4 L173.84,415.55 L173.17,415.7 L172.5,415.85 L171.82,415.99 L171.12,416.14 L170.42,416.29 L169.7,416.44 L168.97,416.59 L168.23,416.73 L167.48,416.88 L166.71,417.03 L165.92,417.18 L165.13,417.33 L164.31,417.47 L163.49,417.62 L162.64,417.77 L161.78,417.92 L160.9,418.07 L160.3,418.16 L159.69,418.26 L159.08,418.36 L158.45,418.46 L157.82,418.56 L157.18,418.66 L156.52,418.76 L155.86,418.86 L155.18,418.95 L154.49,419.05 L153.79,419.15 L153.08,419.25 L152.36,419.35 L151.62,419.45 L150.87,419.55 L150.1,419.64 L149.32,419.74 L148.52,419.84 L147.71,419.94 L146.87,420.04 L146.02,420.14 L145.15,420.24 L144.26,420.33 L143.34,420.43 L142.41,420.53 L141.44,420.63 L140.45,420.73 L139.43,420.83 L138.39,420.93 L137.3,421.03 L136.18,421.12 L135.03,421.22 L133.83,421.32 L133.21,421.37 L132.58,421.42 L131.93,421.47 L131.28,421.52 L130.6,421.57 L129.92,421.62 L129.21,421.67 L128.49,421.72 L127.75,421.76 L126.99,421.81 L126.2,421.86 L125.4,421.91 L124.56,421.96 L123.7,422.01 L122.81,422.06 L121.88,422.11 L120.91,422.16 L119.9,422.21 L118.85,422.26 L117.73,422.31 L116.55,422.36 L115.29,422.41 L113.93,422.46 L112.45,422.5 L110.81,422.55 L108.94,422.6 L106.72,422.65 L103.82,422.7 L96.8,422.75" stroke="#0000ff" stroke-width="2.7" fill="none" stroke-linejoin="round" stroke-linecap="round"/>
<path d="M120.15,118.3H161.25" stroke="#000000" stroke-width="2.7" stroke-linecap="round"/>
<path d="M120.15,146.1H161.25" stroke="#ff0000" stroke-width="2.7" stroke-linecap="round"/>
<path d="M120.15,173.9H161.25" stroke="#0000ff" stroke-width="2.7" stroke-linecap="round"/>
<text class="lg" font-size="19.6" transform="translate(170.7 125.2) scale(0.85 1)">m</text>
<text class="lg" font-size="13.5" transform="translate(181.9 130.3) scale(0.88 1)">s</text>
<text class="lg" font-size="19.6" transform="translate(188.65 125.2) scale(0.85 1)">=empty</text>
<text class="lg" font-size="19.6" transform="translate(170.7 153.7) scale(0.85 1)">m</text>
<text class="lg" font-size="13.5" transform="translate(181.9 158.8) scale(0.88 1)">s</text>
<text class="lg" font-size="19.6" transform="translate(188.65 153.7) scale(0.85 1)">=half</text>
<text class="lg" font-size="19.6" transform="translate(170.7 181.4) scale(0.85 1)">m</text>
<text class="lg" font-size="13.5" transform="translate(181.9 186.5) scale(0.88 1)">s</text>
<text class="lg" font-size="19.6" transform="translate(188.65 181.4) scale(0.85 1)">=full</text>
<rect x="91.8" y="658.2" width="489.1" height="394.9" fill="none" stroke="#242424" stroke-width="2.0"/>
<path d="M91.8,1053.1v7 M91.8,658.2v7 M173.32,1053.1v7 M173.32,658.2v7 M254.83,1053.1v7 M254.83,658.2v7 M336.35,1053.1v7 M336.35,658.2v7 M417.87,1053.1v7 M417.87,658.2v7 M499.38,1053.1v7 M499.38,658.2v7 M580.9,1053.1v7 M580.9,658.2v7 M118.97,1053.1v3.6 M118.97,658.2v3.6 M146.14,1053.1v3.6 M146.14,658.2v3.6 M200.49,1053.1v3.6 M200.49,658.2v3.6 M227.66,1053.1v3.6 M227.66,658.2v3.6 M282.01,1053.1v3.6 M282.01,658.2v3.6 M309.18,1053.1v3.6 M309.18,658.2v3.6 M363.52,1053.1v3.6 M363.52,658.2v3.6 M390.69,1053.1v3.6 M390.69,658.2v3.6 M445.04,1053.1v3.6 M445.04,658.2v3.6 M472.21,1053.1v3.6 M472.21,658.2v3.6 M526.56,1053.1v3.6 M526.56,658.2v3.6 M553.73,1053.1v3.6 M553.73,658.2v3.6 M91.8,1053.1h-3.8 M580.9,1053.1h-3.8 M91.8,1017.2h-7.5 M580.9,1017.2h-7.5 M91.8,981.3h-3.8 M580.9,981.3h-3.8 M91.8,945.4h-7.5 M580.9,945.4h-7.5 M91.8,909.5h-3.8 M580.9,909.5h-3.8 M91.8,873.6h-7.5 M580.9,873.6h-7.5 M91.8,837.7h-3.8 M580.9,837.7h-3.8 M91.8,801.8h-7.5 M580.9,801.8h-7.5 M91.8,765.9h-3.8 M580.9,765.9h-3.8 M91.8,730h-7.5 M580.9,730h-7.5 M91.8,694.1h-3.8 M580.9,694.1h-3.8 M91.8,658.2h-7.5 M580.9,658.2h-7.5" stroke="#242424" stroke-width="2.0" fill="none"/>
<text x="91.8" y="1080.2" text-anchor="middle" class="tl">0. 0</text>
<text x="173.32" y="1080.2" text-anchor="middle" class="tl">0. 5</text>
<text x="254.83" y="1080.2" text-anchor="middle" class="tl">1. 0</text>
<text x="336.35" y="1080.2" text-anchor="middle" class="tl">1. 5</text>
<text x="417.87" y="1080.2" text-anchor="middle" class="tl">2. 0</text>
<text x="499.38" y="1080.2" text-anchor="middle" class="tl">2. 5</text>
<text x="580.9" y="1080.2" text-anchor="middle" class="tl">3. 0</text>
<text x="78.6" y="1023.8" text-anchor="end" class="tl">0</text>
<text x="78.6" y="952" text-anchor="end" class="tl">2</text>
<text x="78.6" y="880.2" text-anchor="end" class="tl">4</text>
<text x="78.6" y="808.4" text-anchor="end" class="tl">6</text>
<text x="78.6" y="736.6" text-anchor="end" class="tl">8</text>
<text x="78.6" y="664.8" text-anchor="end" class="tl">10</text>
<path d="M580.59,1012.79 L579.81,1012.77 L579.03,1012.75 L578.26,1012.74 L577.49,1012.72 L576.72,1012.71 L575.96,1012.69 L575.2,1012.67 L574.45,1012.66 L573.7,1012.64 L572.95,1012.63 L572.21,1012.61 L571.47,1012.59 L570.74,1012.58 L570.01,1012.56 L569.29,1012.55 L568.57,1012.53 L567.85,1012.51 L567.13,1012.5 L566.42,1012.48 L565.72,1012.47 L565.01,1012.45 L564.32,1012.43 L563.62,1012.42 L562.93,1012.4 L562.24,1012.39 L561.56,1012.37 L560.87,1012.35 L560.2,1012.34 L559.52,1012.32 L558.85,1012.31 L558.19,1012.29 L557.52,1012.27 L556.86,1012.26 L556.2,1012.24 L555.55,1012.23 L554.9,1012.21 L554.25,1012.19 L553.61,1012.18 L552.97,1012.16 L552.33,1012.15 L551.69,1012.13 L551.06,1012.12 L550.43,1012.1 L549.81,1012.08 L549.19,1012.07 L548.57,1012.05 L547.95,1012.04 L547.34,1012.02 L546.73,1012 L546.12,1011.99 L545.52,1011.97 L544.91,1011.96 L544.02,1011.93 L543.13,1011.91 L542.24,1011.88 L541.36,1011.86 L540.49,1011.84 L539.63,1011.81 L538.77,1011.79 L537.91,1011.76 L537.06,1011.74 L536.22,1011.72 L535.38,1011.69 L534.55,1011.67 L533.73,1011.64 L532.91,1011.62 L532.1,1011.6 L531.29,1011.57 L530.48,1011.55 L529.69,1011.52 L528.89,1011.5 L528.1,1011.48 L527.32,1011.45 L526.55,1011.43 L525.77,1011.4 L525.01,1011.38 L524.24,1011.36 L523.49,1011.33 L522.73,1011.31 L521.99,1011.28 L521.24,1011.26 L520.51,1011.24 L519.77,1011.21 L519.04,1011.19 L518.32,1011.16 L517.6,1011.14 L516.88,1011.12 L516.17,1011.09 L515.47,1011.07 L514.76,1011.05 L514.07,1011.02 L513.37,1011 L512.68,1010.97 L512,1010.95 L511.32,1010.93 L510.64,1010.9 L509.97,1010.88 L509.3,1010.85 L508.63,1010.83 L507.97,1010.81 L507.31,1010.78 L506.66,1010.76 L506.01,1010.73 L505.37,1010.71 L504.72,1010.69 L504.09,1010.66 L503.45,1010.64 L502.82,1010.61 L502.19,1010.59 L501.57,1010.57 L500.95,1010.54 L500.33,1010.52 L499.72,1010.49 L499.11,1010.47 L498.5,1010.45 L497.9,1010.42 L497.1,1010.39 L496.31,1010.36 L495.52,1010.33 L494.74,1010.29 L493.97,1010.26 L493.2,1010.23 L492.43,1010.2 L491.67,1010.17 L490.92,1010.13 L490.17,1010.1 L489.43,1010.07 L488.69,1010.04 L487.96,1010.01 L487.23,1009.98 L486.51,1009.94 L485.8,1009.91 L485.08,1009.88 L484.38,1009.85 L483.68,1009.82 L482.98,1009.78 L482.29,1009.75 L481.6,1009.72 L480.92,1009.69 L480.24,1009.66 L479.56,1009.62 L478.89,1009.59 L478.23,1009.56 L477.57,1009.53 L476.91,1009.5 L476.26,1009.46 L475.61,1009.43 L474.97,1009.4 L474.33,1009.37 L473.7,1009.34 L473.07,1009.3 L472.44,1009.27 L471.82,1009.24 L471.2,1009.21 L470.58,1009.18 L469.97,1009.14 L469.37,1009.11 L468.76,1009.08 L468.16,1009.05 L467.42,1009.01 L466.68,1008.97 L465.95,1008.93 L465.22,1008.89 L464.5,1008.85 L463.78,1008.81 L463.07,1008.77 L462.37,1008.73 L461.67,1008.69 L460.98,1008.65 L460.29,1008.61 L459.6,1008.57 L458.92,1008.53 L458.25,1008.49 L457.58,1008.45 L456.92,1008.41 L456.26,1008.37 L455.6,1008.33 L454.95,1008.29 L454.31,1008.25 L453.67,1008.21 L453.03,1008.17 L452.4,1008.13 L451.77,1008.09 L451.15,1008.05 L450.53,1008.01 L449.92,1007.97 L449.31,1007.93 L448.7,1007.89 L448.1,1007.85 L447.38,1007.8 L446.67,1007.76 L445.97,1007.71 L445.27,1007.66 L444.58,1007.61 L443.89,1007.56 L443.21,1007.52 L442.53,1007.47 L441.86,1007.42 L441.19,1007.37 L440.53,1007.32 L439.88,1007.28 L439.23,1007.23 L438.58,1007.18 L437.94,1007.13 L437.31,1007.08 L436.68,1007.04 L436.05,1006.99 L435.43,1006.94 L434.81,1006.89 L434.2,1006.84 L433.59,1006.8 L432.99,1006.75 L432.3,1006.69 L431.6,1006.64 L430.92,1006.58 L430.24,1006.53 L429.57,1006.47 L428.9,1006.41 L428.23,1006.36 L427.58,1006.3 L426.93,1006.25 L426.28,1006.19 L425.64,1006.13 L425,1006.08 L424.37,1006.02 L423.75,1005.97 L423.13,1005.91 L422.51,1005.85 L421.9,1005.8 L421.3,1005.74 L420.7,1005.69 L420.02,1005.62 L419.35,1005.56 L418.68,1005.5 L418.01,1005.43 L417.36,1005.37 L416.71,1005.3 L416.06,1005.24 L415.42,1005.18 L414.79,1005.11 L414.16,1005.05 L413.54,1004.98 L412.92,1004.92 L412.31,1004.86 L411.7,1004.79 L411.1,1004.73 L410.43,1004.66 L409.77,1004.58 L409.11,1004.51 L408.46,1004.44 L407.81,1004.37 L407.17,1004.3 L406.54,1004.23 L405.91,1004.15 L405.29,1004.08 L404.67,1004.01 L404.06,1003.94 L403.45,1003.87 L402.85,1003.79 L402.19,1003.71 L401.54,1003.63 L400.89,1003.55 L400.25,1003.48 L399.61,1003.4 L398.98,1003.32 L398.36,1003.24 L397.74,1003.16 L397.13,1003.08 L396.52,1003 L395.92,1002.92 L395.33,1002.84 L394.68,1002.75 L394.04,1002.66 L393.4,1002.57 L392.78,1002.48 L392.15,1002.4 L391.54,1002.31 L390.93,1002.22 L390.32,1002.13 L389.73,1002.05 L389.08,1001.95 L388.44,1001.85 L387.81,1001.76 L387.18,1001.66 L386.57,1001.57 L385.95,1001.47 L385.35,1001.37 L384.75,1001.28 L384.15,1001.18 L383.52,1001.08 L382.89,1000.98 L382.26,1000.87 L381.65,1000.77 L381.04,1000.66 L380.43,1000.56 L379.84,1000.46 L379.2,1000.34 L378.57,1000.23 L377.95,1000.12 L377.34,1000.01 L376.73,999.9 L376.13,999.79 L375.54,999.67 L374.91,999.55 L374.29,999.43 L373.67,999.31 L373.06,999.19 L372.46,999.08 L371.87,998.96 L371.24,998.83 L370.62,998.7 L370.01,998.57 L369.41,998.44 L368.81,998.32 L368.22,998.19 L367.6,998.05 L366.99,997.92 L366.39,997.78 L365.79,997.65 L365.2,997.51 L364.59,997.37 L363.98,997.22 L363.38,997.08 L362.79,996.94 L362.2,996.79 L361.59,996.64 L360.99,996.49 L360.39,996.34 L359.81,996.18 L359.2,996.02 L358.6,995.87 L358,995.71 L357.42,995.55 L356.81,995.38 L356.21,995.21 L355.62,995.04 L355.04,994.87 L354.44,994.7 L353.85,994.52 L353.27,994.35 L352.69,994.17 L352.1,993.99 L351.51,993.8 L350.93,993.62 L350.34,993.43 L349.76,993.24 L349.18,993.05 L348.59,992.85 L348.01,992.65 L347.44,992.45 L346.85,992.24 L346.27,992.03 L345.7,991.82 L345.12,991.61 L344.55,991.39 L343.99,991.18 L343.41,990.95 L342.85,990.73 L342.27,990.5 L341.71,990.27 L341.15,990.04 L340.58,989.8 L340.03,989.56 L339.46,989.31 L338.91,989.06 L338.34,988.81 L337.79,988.55 L337.25,988.3 L336.7,988.03 L336.15,987.77 L335.61,987.5 L335.07,987.23 L334.53,986.95 L333.99,986.67 L333.46,986.38 L332.93,986.09 L332.4,985.8 L331.86,985.49 L331.34,985.19 L330.81,984.88 L330.3,984.57 L329.78,984.25 L329.26,983.92 L328.75,983.59 L328.24,983.26 L327.74,982.92 L327.24,982.58 L326.74,982.23 L326.25,981.87 L325.76,981.52 L325.27,981.15 L324.8,980.78 L324.32,980.41 L323.85,980.02 L323.38,979.64 L322.92,979.25 L322.46,978.85 L322.01,978.44 L321.56,978.03 L321.12,977.62 L320.69,977.2 L320.25,976.76 L319.83,976.33 L319.42,975.89 L319,975.45 L318.6,975 L318.21,974.54 L317.82,974.08 L317.43,973.61 L317.06,973.14 L316.69,972.66 L316.33,972.17 L315.98,971.68 L315.63,971.18 L315.29,970.68 L314.96,970.17 L314.65,969.66 L314.33,969.14 L314.03,968.61 L313.74,968.08 L313.45,967.55 L313.18,967.01 L312.91,966.47 L312.65,965.93 L312.41,965.38 L312.17,964.82 L311.94,964.26 L311.72,963.7 L311.51,963.13 L311.31,962.57 L311.12,961.99 L310.93,961.42 L310.76,960.83 L310.6,960.25 L310.44,959.67 L310.3,959.08 L310.16,958.49 L310.04,957.9 L309.92,957.31 L309.82,956.72 L309.72,956.12 L309.63,955.52 L309.55,954.92 L309.47,954.33 L309.41,953.73 L309.35,953.13 L309.31,952.53 L309.27,951.93 L309.24,951.32 L309.22,950.72 L309.2,950.11 L309.19,949.5 L309.19,949.25" stroke="#000000" stroke-width="3.2" fill="none" stroke-linejoin="round" stroke-linecap="round"/>
<path d="M91.8,984 L98.57,983.95 L101.37,983.9 L103.51,983.85 L105.31,983.81 L106.9,983.76 L108.33,983.71 L109.64,983.66 L110.86,983.61 L112.01,983.56 L113.09,983.52 L114.11,983.47 L115.09,983.42 L116.03,983.37 L116.93,983.32 L117.8,983.27 L118.63,983.23 L119.44,983.18 L120.23,983.13 L120.99,983.08 L121.73,983.03 L122.45,982.98 L123.15,982.94 L123.84,982.89 L124.51,982.84 L125.16,982.79 L125.8,982.74 L126.43,982.69 L127.05,982.65 L127.65,982.6 L128.82,982.5 L129.95,982.41 L131.05,982.31 L132.11,982.21 L133.13,982.12 L134.13,982.02 L135.1,981.92 L136.05,981.83 L136.97,981.73 L137.87,981.63 L138.75,981.54 L139.61,981.44 L140.45,981.34 L141.27,981.25 L142.07,981.15 L142.86,981.05 L143.63,980.96 L144.39,980.86 L145.14,980.76 L145.87,980.67 L146.59,980.57 L147.29,980.47 L147.99,980.38 L148.67,980.28 L149.35,980.18 L150.01,980.09 L150.66,979.99 L151.3,979.89 L151.93,979.8 L152.56,979.7 L153.17,979.6 L153.78,979.51 L154.38,979.41 L155.26,979.27 L156.12,979.12 L156.97,978.98 L157.81,978.83 L158.62,978.69 L159.43,978.54 L160.21,978.4 L160.99,978.25 L161.75,978.11 L162.5,977.96 L163.24,977.82 L163.97,977.67 L164.68,977.53 L165.39,977.38 L166.08,977.24 L166.77,977.09 L167.44,976.95 L168.11,976.8 L168.76,976.66 L169.41,976.51 L170.05,976.37 L170.68,976.22 L171.3,976.08 L171.91,975.93 L172.52,975.79 L173.12,975.64 L173.71,975.5 L174.29,975.35 L175.06,975.16 L175.81,974.97 L176.56,974.77 L177.29,974.58 L178.01,974.39 L178.72,974.19 L179.42,974 L180.12,973.81 L180.8,973.61 L181.47,973.42 L182.13,973.23 L182.79,973.03 L183.44,972.84 L184.07,972.65 L184.7,972.45 L185.33,972.26 L185.94,972.07 L186.55,971.87 L187.15,971.68 L187.74,971.49 L188.33,971.29 L188.91,971.1 L189.48,970.91 L190.19,970.67 L190.88,970.42 L191.57,970.18 L192.25,969.94 L192.92,969.7 L193.58,969.46 L194.24,969.22 L194.88,968.98 L195.52,968.73 L196.15,968.49 L196.77,968.25 L197.39,968.01 L197.99,967.77 L198.6,967.53 L199.19,967.29 L199.78,967.04 L200.36,966.8 L200.93,966.56 L201.5,966.32 L202.07,966.08 L202.62,965.84 L203.18,965.59 L203.83,965.3 L204.48,965.01 L205.12,964.72 L205.75,964.43 L206.38,964.15 L207,963.86 L207.61,963.57 L208.21,963.28 L208.81,962.99 L209.41,962.7 L209.99,962.41 L210.57,962.12 L211.15,961.83 L211.72,961.54 L212.28,961.25 L212.84,960.96 L213.4,960.67 L213.94,960.38 L214.49,960.09 L215.03,959.8 L215.56,959.51 L216.09,959.22 L216.7,958.88 L217.31,958.54 L217.91,958.2 L218.51,957.87 L219.09,957.53 L219.68,957.19 L220.26,956.85 L220.83,956.51 L221.4,956.17 L221.97,955.84 L222.53,955.5 L223.08,955.16 L223.63,954.82 L224.18,954.48 L224.72,954.15 L225.26,953.81 L225.79,953.47 L226.32,953.13 L226.85,952.79 L227.37,952.45 L227.89,952.12 L228.4,951.78 L228.92,951.44 L229.42,951.1 L229.93,950.76 L230.43,950.43 L230.93,950.09 L231.5,949.7 L232.06,949.32 L232.62,948.93 L233.17,948.54 L233.72,948.16 L234.27,947.77 L234.81,947.38 L235.35,947 L235.89,946.61 L236.42,946.22 L236.96,945.84 L237.48,945.45 L238.01,945.06 L238.53,944.68 L239.05,944.29 L239.57,943.9 L240.08,943.52 L240.59,943.13 L241.1,942.75 L241.61,942.36 L242.11,941.97 L242.61,941.59 L243.11,941.2 L243.61,940.81 L244.1,940.43 L244.59,940.04 L245.08,939.65 L245.57,939.27 L246.06,938.88 L246.54,938.49 L247.02,938.11 L247.5,937.72 L247.98,937.33 L248.46,936.95 L248.93,936.56 L249.41,936.18 L249.88,935.79 L250.35,935.4 L250.82,935.02 L251.28,934.63 L251.75,934.24 L252.21,933.86 L252.68,933.47 L253.14,933.08 L253.6,932.7 L254.11,932.26 L254.63,931.83 L255.14,931.39 L255.65,930.96 L256.16,930.52 L256.67,930.09 L257.17,929.65 L257.68,929.22 L258.18,928.78 L258.68,928.35 L259.18,927.92 L259.68,927.48 L260.18,927.05 L260.68,926.61 L261.17,926.18 L261.67,925.74 L262.16,925.31 L262.65,924.87 L263.14,924.44 L263.63,924 L264.12,923.57 L264.61,923.13 L265.1,922.7 L265.58,922.26 L266.07,921.83 L266.55,921.39 L267.04,920.96 L267.52,920.52 L268,920.09 L268.48,919.65 L268.96,919.22 L269.44,918.79 L269.92,918.35 L270.4,917.92 L270.87,917.48 L271.35,917.05 L271.83,916.61 L272.3,916.18 L272.78,915.74 L273.25,915.31 L273.72,914.87 L274.2,914.44 L274.67,914 L275.14,913.57 L275.61,913.13 L276.08,912.7 L276.55,912.26 L277.02,911.83 L277.49,911.39 L277.96,910.96 L278.43,910.52 L278.9,910.09 L279.36,909.66 L279.83,909.22 L280.3,908.79 L280.76,908.35 L281.23,907.92 L281.69,907.48 L282.16,907.05 L282.62,906.61 L283.09,906.18 L283.55,905.74 L284.02,905.31 L284.48,904.87 L284.94,904.44 L285.41,904 L285.87,903.57 L286.33,903.13 L286.79,902.7 L287.25,902.26 L287.72,901.83 L288.18,901.39 L288.64,900.96 L289.1,900.53 L289.56,900.09 L290.02,899.66 L290.48,899.22 L290.94,898.79 L291.4,898.35 L291.86,897.92 L292.32,897.48 L292.78,897.05 L293.24,896.61 L293.7,896.18 L294.16,895.74 L294.62,895.31 L295.07,894.87 L295.53,894.44 L295.99,894 L296.45,893.57 L296.91,893.13 L297.37,892.7 L297.83,892.26 L298.28,891.83 L298.74,891.4 L299.2,890.96 L299.66,890.53 L300.11,890.09 L300.57,889.66 L301.03,889.22 L301.49,888.79 L301.95,888.35 L302.4,887.92 L302.86,887.48 L303.32,887.05 L303.78,886.61 L304.23,886.18 L304.69,885.74 L305.15,885.31 L305.6,884.87 L306.06,884.44 L306.52,884 L306.98,883.57 L307.43,883.13 L307.89,882.7 L308.35,882.27 L308.81,881.83 L309.26,881.4 L309.72,880.96 L310.18,880.53 L310.64,880.09 L311.09,879.66 L311.55,879.22 L312.01,878.79 L312.47,878.35 L312.92,877.92 L313.38,877.48 L313.84,877.05 L314.3,876.61 L314.75,876.18 L315.21,875.74 L315.67,875.31 L316.13,874.87 L316.59,874.44 L317.04,874 L317.5,873.57 L317.96,873.14 L318.42,872.7 L318.88,872.27 L319.33,871.83 L319.79,871.4 L320.25,870.96 L320.71,870.53 L321.17,870.09 L321.63,869.66 L322.09,869.22 L322.54,868.79 L323,868.35 L323.46,867.92 L323.92,867.48 L324.38,867.05 L324.84,866.61 L325.3,866.18 L325.76,865.74 L326.22,865.31 L326.68,864.88 L327.14,864.44 L327.6,864.01 L328.06,863.57 L328.52,863.14 L328.98,862.7 L329.44,862.27 L329.9,861.83 L330.36,861.4 L330.82,860.96 L331.28,860.53 L331.74,860.09 L332.2,859.66 L332.66,859.22 L333.12,858.79 L333.58,858.35 L334.04,857.92 L334.51,857.48 L334.97,857.05 L335.43,856.61 L335.89,856.18 L336.35,855.75 L336.81,855.31 L337.28,854.88 L337.74,854.44 L338.2,854.01 L338.66,853.57 L339.12,853.14 L339.59,852.7 L340.05,852.27 L340.51,851.83 L340.98,851.4 L341.44,850.96 L341.9,850.53 L342.37,850.09 L342.83,849.66 L343.29,849.22 L343.76,848.79 L344.22,848.35 L344.68,847.92 L345.15,847.48 L345.61,847.05 L346.08,846.62 L346.54,846.18 L347.01,845.75 L347.47,845.31 L347.94,844.88 L348.4,844.44 L348.87,844.01 L349.33,843.57 L349.8,843.14 L350.26,842.7 L350.73,842.27 L351.19,841.83 L351.66,841.4 L352.12,840.96 L352.59,840.53 L353.06,840.09 L353.52,839.66 L353.99,839.22 L354.46,838.79 L354.92,838.35 L355.39,837.92 L355.86,837.49 L356.32,837.05 L356.79,836.62 L357.26,836.18 L357.73,835.75 L358.19,835.31 L358.66,834.88 L359.13,834.44 L359.6,834.01 L360.07,833.57 L360.53,833.14 L361,832.7 L361.47,832.27 L361.94,831.83 L362.41,831.4 L362.88,830.96 L363.35,830.53 L363.82,830.09 L364.29,829.66 L364.76,829.22 L365.23,828.79 L365.7,828.36 L366.17,827.92 L366.64,827.49 L367.11,827.05 L367.58,826.62 L368.05,826.18 L368.52,825.75 L368.99,825.31 L369.46,824.88 L369.93,824.44 L370.4,824.01 L370.87,823.57 L371.34,823.14 L371.81,822.7 L372.29,822.27 L372.76,821.83 L373.23,821.4 L373.7,820.96 L374.17,820.53 L374.65,820.09 L375.12,819.66 L375.59,819.23 L376.06,818.79 L376.54,818.36 L377.01,817.92 L377.48,817.49 L377.96,817.05 L378.43,816.62 L378.9,816.18 L379.38,815.75 L379.85,815.31 L380.33,814.88 L380.8,814.44 L381.27,814.01 L381.75,813.57 L382.22,813.14 L382.7,812.7 L383.17,812.27 L383.65,811.83 L384.12,811.4 L384.6,810.96 L385.07,810.53 L385.55,810.1 L386.02,809.66 L386.5,809.23 L386.97,808.79 L387.45,808.36 L387.93,807.92 L388.4,807.49 L388.88,807.05 L389.35,806.62 L389.83,806.18 L390.31,805.75 L390.78,805.31 L391.26,804.88 L391.74,804.44 L392.21,804.01 L392.69,803.57 L393.17,803.14 L393.65,802.7 L394.12,802.27 L394.6,801.83 L395.08,801.4 L395.56,800.97 L396.04,800.53 L396.51,800.1 L396.99,799.66 L397.47,799.23 L397.95,798.79 L398.43,798.36 L398.91,797.92 L399.39,797.49 L399.87,797.05 L400.34,796.62 L400.82,796.18 L401.3,795.75 L401.78,795.31 L402.26,794.88 L402.74,794.44 L403.22,794.01 L403.7,793.57 L404.18,793.14 L404.66,792.7 L405.14,792.27 L405.62,791.84 L406.1,791.4 L406.59,790.97 L407.07,790.53 L407.55,790.1 L408.03,789.66 L408.51,789.23 L408.99,788.79 L409.47,788.36 L409.95,787.92 L410.44,787.49 L410.92,787.05 L411.4,786.62 L411.88,786.18 L412.36,785.75 L412.85,785.31 L413.33,784.88 L413.81,784.44 L414.29,784.01 L414.78,783.57 L415.26,783.14 L415.74,782.71 L416.23,782.27 L416.71,781.84 L417.19,781.4 L417.67,780.97 L418.16,780.53 L418.64,780.1 L419.13,779.66 L419.61,779.23 L420.09,778.79 L420.58,778.36 L421.06,777.92 L421.55,777.49 L422.03,777.05 L422.52,776.62 L423,776.18 L423.48,775.75 L423.97,775.31 L424.45,774.88 L424.94,774.45 L425.42,774.01 L425.91,773.58 L426.4,773.14 L426.88,772.71 L427.37,772.27 L427.85,771.84 L428.34,771.4 L428.82,770.97 L429.31,770.53 L429.8,770.1 L430.28,769.66 L430.77,769.23 L431.26,768.79 L431.74,768.36 L432.23,767.92 L432.72,767.49 L433.2,767.05 L433.69,766.62 L434.18,766.18 L434.66,765.75 L435.15,765.32 L435.64,764.88 L436.13,764.45 L436.61,764.01 L437.1,763.58 L437.59,763.14 L438.08,762.71 L438.57,762.27 L439.05,761.84 L439.54,761.4 L440.03,760.97 L440.52,760.53 L441.01,760.1 L441.5,759.66 L441.98,759.23 L442.47,758.79 L442.96,758.36 L443.45,757.92 L443.94,757.49 L444.43,757.05 L444.92,756.62 L445.41,756.19 L445.9,755.75 L446.39,755.32 L446.88,754.88 L447.37,754.45 L447.86,754.01 L448.35,753.58 L448.84,753.14 L449.33,752.71 L449.82,752.27 L450.31,751.84 L450.8,751.4 L451.29,750.97 L451.78,750.53 L452.27,750.1 L452.76,749.66 L453.25,749.23 L453.74,748.79 L454.23,748.36 L454.73,747.92 L455.22,747.49 L455.71,747.06 L456.2,746.62 L456.69,746.19 L457.18,745.75 L457.67,745.32 L458.17,744.88 L458.66,744.45 L459.15,744.01 L459.64,743.58 L460.13,743.14 L460.63,742.71 L461.12,742.27 L461.61,741.84 L462.1,741.4 L462.6,740.97 L463.09,740.53 L463.58,740.1 L464.08,739.66 L464.57,739.23 L465.06,738.79 L465.56,738.36 L466.05,737.93 L466.54,737.49 L467.04,737.06 L467.53,736.62 L468.02,736.19 L468.52,735.75 L469.01,735.32 L469.5,734.88 L470,734.45 L470.49,734.01 L470.99,733.58 L471.48,733.14 L471.97,732.71 L472.47,732.27 L472.96,731.84 L473.46,731.4 L473.95,730.97 L474.45,730.53 L474.94,730.1 L475.44,729.66 L475.93,729.23 L476.43,728.8 L476.92,728.36 L477.42,727.93 L477.91,727.49 L478.41,727.06 L478.9,726.62 L479.4,726.19 L479.9,725.75 L480.39,725.32 L480.89,724.88 L481.38,724.45 L481.88,724.01 L482.37,723.58 L482.87,723.14 L483.37,722.71 L483.86,722.27 L484.36,721.84 L484.86,721.4 L485.35,720.97 L485.85,720.53 L486.35,720.1 L486.84,719.67 L487.34,719.23 L487.84,718.8 L488.33,718.36 L488.83,717.93 L489.33,717.49 L489.83,717.06 L490.32,716.62 L490.82,716.19 L491.32,715.75 L491.81,715.32 L492.31,714.88 L492.81,714.45 L493.31,714.01 L493.81,713.58 L494.3,713.14 L494.8,712.71 L495.3,712.27 L495.8,711.84 L496.3,711.4 L496.79,710.97 L497.29,710.54 L497.79,710.1 L498.29,709.67 L498.79,709.23 L499.29,708.8 L499.79,708.36 L500.28,707.93 L500.78,707.49 L501.28,707.06 L501.78,706.62 L502.28,706.19 L502.78,705.75 L503.28,705.32 L503.78,704.88 L504.28,704.45 L504.78,704.01 L505.28,703.58 L505.78,703.14 L506.28,702.71 L506.78,702.27 L507.28,701.84 L507.78,701.41 L508.28,700.97 L508.78,700.54 L509.28,700.1 L509.78,699.67 L510.28,699.23 L510.78,698.8 L511.28,698.36 L511.78,697.93 L512.28,697.49 L512.78,697.06 L513.28,696.62 L513.78,696.19 L514.28,695.75 L514.78,695.32 L515.28,694.88 L515.78,694.45 L520.11,696" stroke="#000000" stroke-width="3.2" fill="none" stroke-linejoin="round" stroke-linecap="round"/>
<path d="M520.11,696 L519.88,696.21 L519.65,696.42 L519.42,696.63 L519.19,696.83 L518.96,697.04 L518.73,697.25 L518.5,697.46 L518.27,697.66 L518.04,697.87 L517.81,698.08 L517.58,698.29 L517.35,698.49 L517.12,698.7 L516.89,698.91 L516.66,699.12 L516.43,699.32 L516.2,699.53 L515.97,699.74 L515.74,699.95 L515.51,700.16 L515.28,700.36 L515.05,700.57 L514.83,700.78 L514.6,700.99 L514.37,701.19 L514.14,701.4 L513.91,701.61 L513.68,701.82 L513.45,702.02 L513.22,702.23 L512.99,702.44 L512.76,702.65 L512.53,702.85 L512.31,703.06 L512.08,703.27 L511.85,703.48 L511.62,703.68 L511.39,703.89 L511.16,704.1 L510.93,704.31 L510.7,704.51 L510.48,704.72 L510.25,704.93 L510.02,705.14 L509.79,705.35 L509.56,705.55 L509.33,705.76 L509.1,705.97 L508.88,706.18 L508.65,706.38 L508.42,706.59 L508.19,706.8 L507.96,707.01 L507.73,707.21 L507.51,707.42 L507.28,707.63 L507.05,707.84 L506.82,708.04 L506.59,708.25 L506.36,708.46 L506.14,708.67 L505.91,708.87 L505.68,709.08 L505.45,709.29 L505.22,709.5 L505,709.71 L504.77,709.91 L504.54,710.12 L504.31,710.33 L504.09,710.54 L503.86,710.74 L503.63,710.95 L503.4,711.16 L503.17,711.37 L502.95,711.57 L502.72,711.78 L502.49,711.99 L502.26,712.2 L502.04,712.4 L501.81,712.61 L501.58,712.82 L501.35,713.03 L501.13,713.23 L500.9,713.44 L500.67,713.65 L500.45,713.86 L500.22,714.07 L499.99,714.27 L499.76,714.48 L499.54,714.69 L499.31,714.9 L499.08,715.1 L498.86,715.31 L498.63,715.52 L498.4,715.73 L498.17,715.93 L497.95,716.14 L497.72,716.35 L497.49,716.56 L497.27,716.76 L497.04,716.97 L496.81,717.18 L496.59,717.39 L496.36,717.59 L496.13,717.8 L495.91,718.01 L495.68,718.22 L495.45,718.43 L495.23,718.63 L495,718.84 L494.78,719.05 L494.55,719.26 L494.32,719.46 L494.1,719.67 L493.87,719.88 L493.64,720.09 L493.42,720.29 L493.19,720.5 L492.97,720.71 L492.74,720.92 L492.51,721.12 L492.29,721.33 L492.06,721.54 L491.84,721.75 L491.61,721.95 L491.38,722.16 L491.16,722.37 L490.93,722.58 L490.71,722.79 L490.48,722.99 L490.26,723.2 L490.03,723.41 L489.8,723.62 L489.58,723.82 L489.35,724.03 L489.13,724.24 L488.9,724.45 L488.68,724.65 L488.45,724.86 L488.23,725.07 L488,725.28 L487.78,725.48 L487.55,725.69 L487.33,725.9 L487.1,726.11 L486.88,726.31 L486.65,726.52 L486.43,726.73 L486.2,726.94 L485.98,727.15 L485.75,727.35 L485.53,727.56 L485.3,727.77 L485.08,727.98 L484.85,728.18 L484.63,728.39 L484.4,728.6 L484.18,728.81 L483.95,729.01 L483.73,729.22 L483.5,729.43 L483.28,729.64 L483.05,729.84 L482.83,730.05 L482.61,730.26 L482.38,730.47 L482.16,730.67 L481.93,730.88 L481.71,731.09 L481.48,731.3 L481.26,731.51 L481.04,731.71 L480.81,731.92 L480.59,732.13 L480.36,732.34 L480.14,732.54 L479.92,732.75 L479.69,732.96 L479.47,733.17 L479.25,733.37 L479.02,733.58 L478.8,733.79 L478.57,734 L478.35,734.2 L478.13,734.41 L477.9,734.62 L477.68,734.83 L477.46,735.03 L477.23,735.24 L477.01,735.45 L476.79,735.66 L476.56,735.87 L476.34,736.07 L476.12,736.28 L475.89,736.49 L475.67,736.7 L475.45,736.9 L475.23,737.11 L475,737.32 L474.78,737.53 L474.56,737.73 L474.33,737.94 L474.11,738.15 L473.89,738.36 L473.67,738.56 L473.44,738.77 L473.22,738.98 L473,739.19 L472.78,739.39 L472.55,739.6 L472.33,739.81 L472.11,740.02 L471.89,740.23 L471.66,740.43 L471.44,740.64 L471.22,740.85 L471,741.06 L470.77,741.26 L470.55,741.47 L470.33,741.68 L470.11,741.89 L469.89,742.09 L469.66,742.3 L469.44,742.51 L469.22,742.72 L469,742.92 L468.78,743.13 L468.56,743.34 L468.33,743.55 L468.11,743.75 L467.89,743.96 L467.67,744.17 L467.45,744.38 L467.23,744.59 L467,744.79 L466.78,745 L466.56,745.21 L466.34,745.42 L466.12,745.62 L465.9,745.83 L465.68,746.04 L465.46,746.25 L465.24,746.45 L465.01,746.66 L464.79,746.87 L464.57,747.08 L464.35,747.28 L464.13,747.49 L463.91,747.7 L463.69,747.91 L463.47,748.11 L463.25,748.32 L463.03,748.53 L462.81,748.74 L462.59,748.94 L462.37,749.15 L462.15,749.36 L461.93,749.57 L461.71,749.78 L461.49,749.98 L461.27,750.19 L461.05,750.4 L460.83,750.61 L460.61,750.81 L460.39,751.02 L460.17,751.23 L459.95,751.44 L459.73,751.64 L459.51,751.85 L459.29,752.06 L459.07,752.27 L458.85,752.47 L458.63,752.68 L458.41,752.89 L458.19,753.1 L457.97,753.3 L457.75,753.51 L457.53,753.72 L457.31,753.93 L457.09,754.14 L456.87,754.34 L456.65,754.55 L456.43,754.76 L456.22,754.97 L456,755.17 L455.78,755.38 L455.56,755.59 L455.34,755.8 L455.12,756 L454.9,756.21 L454.68,756.42 L454.46,756.63 L454.25,756.83 L454.03,757.04 L453.81,757.25 L453.59,757.46 L453.37,757.66 L453.15,757.87 L452.94,758.08 L452.72,758.29 L452.5,758.5 L452.28,758.7 L452.06,758.91 L451.85,759.12 L451.63,759.33 L451.41,759.53 L451.19,759.74 L450.97,759.95 L450.76,760.16 L450.54,760.36 L450.32,760.57 L450.1,760.78 L449.89,760.99 L449.67,761.19 L449.45,761.4 L449.23,761.61 L449.02,761.82 L448.8,762.02 L448.58,762.23 L448.36,762.44 L448.15,762.65 L447.93,762.86 L447.71,763.06 L447.5,763.27 L447.28,763.48 L447.06,763.69 L446.85,763.89 L446.63,764.1 L446.41,764.31 L446.2,764.52 L445.97,764.73 L445.75,764.95 L445.52,765.16 L445.3,765.38 L445.07,765.59 L444.85,765.81 L444.62,766.03 L444.4,766.24 L444.18,766.46 L443.95,766.67 L443.73,766.89 L443.5,767.1 L443.28,767.32 L443.05,767.53 L442.83,767.75 L442.61,767.97 L442.38,768.18 L442.16,768.4 L441.93,768.61 L441.71,768.83 L441.49,769.04 L441.26,769.26 L441.04,769.48 L440.82,769.69 L440.59,769.91 L440.37,770.12 L440.15,770.34 L439.92,770.55 L439.7,770.77 L439.48,770.98 L439.25,771.2 L439.03,771.42 L438.81,771.63 L438.59,771.85 L438.36,772.06 L438.14,772.28 L437.92,772.49 L437.7,772.71 L437.47,772.92 L437.25,773.14 L437.03,773.36 L436.81,773.57 L436.58,773.79 L436.36,774 L436.14,774.22 L435.92,774.43 L435.7,774.65 L435.47,774.87 L435.25,775.08 L435.03,775.3 L434.81,775.51 L434.59,775.73 L434.37,775.94 L434.14,776.16 L433.92,776.37 L433.7,776.59 L433.48,776.81 L433.26,777.02 L433.04,777.24 L432.82,777.45 L432.6,777.67 L432.37,777.88 L432.15,778.1 L431.93,778.31 L431.71,778.53 L431.49,778.75 L431.27,778.96 L431.05,779.18 L430.83,779.39 L430.61,779.61 L430.39,779.82 L430.17,780.04 L429.95,780.26 L429.73,780.47 L429.51,780.69 L429.29,780.9 L429.07,781.12 L428.85,781.33 L428.63,781.55 L428.41,781.76 L428.19,781.98 L427.97,782.2 L427.75,782.41 L427.53,782.63 L427.31,782.84 L427.09,783.06 L426.88,783.27 L426.66,783.49 L426.44,783.7 L426.22,783.92 L426,784.14 L425.78,784.35 L425.56,784.57 L425.34,784.78 L425.12,785 L424.91,785.21 L424.69,785.43 L424.47,785.65 L424.25,785.86 L424.03,786.08 L423.82,786.29 L423.6,786.51 L423.38,786.72 L423.16,786.94 L422.94,787.15 L422.73,787.37 L422.51,787.59 L422.29,787.8 L422.07,788.02 L421.86,788.23 L421.64,788.45 L421.42,788.66 L421.2,788.88 L420.99,789.09 L420.77,789.31 L420.55,789.53 L420.34,789.74 L420.12,789.96 L419.9,790.17 L419.69,790.39 L419.47,790.6 L419.25,790.82 L419.04,791.04 L418.82,791.25 L418.6,791.47 L418.39,791.68 L418.17,791.9 L417.96,792.11 L417.74,792.33 L417.52,792.54 L417.31,792.76 L417.09,792.98 L416.88,793.19 L416.66,793.41 L416.45,793.62 L416.23,793.84 L416.02,794.05 L415.8,794.27 L415.59,794.48 L415.37,794.7 L415.16,794.92 L414.94,795.13 L414.73,795.35 L414.51,795.56 L414.3,795.78 L414.08,795.99 L413.87,796.21 L413.65,796.43 L413.44,796.64 L413.23,796.86 L413.01,797.07 L412.8,797.29 L412.58,797.5 L412.37,797.72 L412.16,797.93 L411.94,798.15 L411.73,798.37 L411.52,798.58 L411.3,798.8 L411.09,799.01 L410.88,799.23 L410.66,799.44 L410.45,799.66 L410.24,799.87 L410.02,800.09 L409.81,800.31 L409.6,800.52 L409.39,800.74 L409.17,800.95 L408.96,801.17 L408.75,801.38 L408.54,801.6 L408.32,801.82 L408.11,802.03 L407.9,802.25 L407.69,802.46 L407.48,802.68 L407.27,802.89 L407.05,803.11 L406.84,803.32 L406.63,803.54 L406.42,803.76 L406.21,803.97 L406,804.19 L405.79,804.4 L405.58,804.62 L405.36,804.83 L405.15,805.05 L404.94,805.26 L404.73,805.48 L404.52,805.7 L404.31,805.91 L404.1,806.13 L403.89,806.34 L403.68,806.56 L403.47,806.77 L403.26,806.99 L403.05,807.21 L402.84,807.42 L402.63,807.64 L402.42,807.85 L402.21,808.07 L402,808.28 L401.79,808.5 L401.59,808.71 L401.38,808.93 L401.17,809.15 L400.96,809.36 L400.75,809.58 L400.54,809.79 L400.33,810.02 L400.11,810.24 L399.89,810.46 L399.68,810.69 L399.46,810.91 L399.25,811.13 L399.03,811.36 L398.81,811.58 L398.6,811.8 L398.38,812.03 L398.17,812.25 L397.95,812.48 L397.74,812.7 L397.52,812.92 L397.31,813.15 L397.09,813.37 L396.88,813.59 L396.67,813.82 L396.45,814.04 L396.24,814.26 L396.02,814.49 L395.81,814.71 L395.6,814.94 L395.38,815.16 L395.17,815.38 L394.95,815.61 L394.74,815.83 L394.53,816.05 L394.32,816.28 L394.1,816.5 L393.89,816.72 L393.68,816.95 L393.46,817.17 L393.25,817.39 L393.04,817.62 L392.83,817.84 L392.61,818.07 L392.4,818.29 L392.19,818.51 L391.98,818.74 L391.77,818.96 L391.55,819.18 L391.34,819.41 L391.13,819.63 L390.92,819.85 L390.71,820.08 L390.5,820.3 L390.29,820.52 L390.08,820.75 L389.87,820.97 L389.66,821.2 L389.45,821.42 L389.24,821.64 L389.03,821.87 L388.82,822.09 L388.61,822.31 L388.4,822.54 L388.19,822.76 L387.98,822.98 L387.77,823.21 L387.56,823.43 L387.35,823.66 L387.14,823.88 L386.93,824.1 L386.72,824.33 L386.51,824.55 L386.3,824.77 L386.1,825 L385.89,825.22 L385.68,825.44 L385.47,825.67 L385.26,825.89 L385.06,826.11 L384.85,826.34 L384.64,826.56 L384.43,826.79 L384.23,827.01 L384.02,827.23 L383.81,827.46 L383.61,827.68 L383.4,827.9 L383.19,828.13 L382.99,828.35 L382.78,828.57 L382.57,828.8 L382.37,829.02 L382.16,829.24 L381.96,829.47 L381.75,829.69 L381.54,829.92 L381.34,830.14 L381.13,830.36 L380.93,830.59 L380.72,830.81 L380.52,831.03 L380.31,831.26 L380.11,831.48 L379.91,831.7 L379.7,831.93 L379.5,832.15 L379.29,832.37 L379.09,832.6 L378.89,832.82 L378.68,833.05 L378.48,833.27 L378.28,833.49 L378.07,833.72 L377.87,833.94 L377.67,834.16 L377.46,834.39 L377.26,834.61 L377.06,834.83 L376.86,835.06 L376.65,835.28 L376.45,835.51 L376.25,835.73 L376.05,835.95 L375.85,836.18 L375.65,836.4 L375.44,836.62 L375.24,836.85 L375.04,837.07 L374.84,837.29 L374.64,837.52 L374.44,837.74 L374.24,837.96 L374.04,838.19 L373.84,838.41 L373.63,838.64 L373.43,838.87 L373.22,839.11 L373.01,839.34 L372.81,839.57 L372.6,839.8 L372.39,840.03 L372.19,840.26 L371.98,840.5 L371.78,840.73 L371.57,840.96 L371.37,841.19 L371.16,841.42 L370.96,841.65 L370.75,841.89 L370.55,842.12 L370.34,842.35 L370.14,842.58 L369.93,842.81 L369.73,843.04 L369.53,843.27 L369.32,843.51 L369.12,843.74 L368.92,843.97 L368.71,844.2 L368.51,844.43 L368.31,844.66 L368.11,844.9 L367.9,845.13 L367.7,845.36 L367.5,845.59 L367.3,845.82 L367.1,846.05 L366.9,846.29 L366.69,846.52 L366.49,846.75 L366.29,846.98 L366.09,847.21 L365.89,847.44 L365.69,847.67 L365.49,847.91 L365.29,848.14 L365.09,848.37 L364.89,848.6 L364.69,848.83 L364.49,849.06 L364.29,849.3 L364.1,849.53 L363.9,849.76 L363.7,849.99 L363.5,850.22 L363.3,850.45 L363.1,850.69 L362.91,850.92 L362.71,851.15 L362.51,851.38 L362.31,851.61 L362.12,851.84 L361.92,852.07 L361.72,852.31 L361.53,852.54 L361.33,852.77 L361.14,853 L360.94,853.23 L360.74,853.46 L360.55,853.7 L360.35,853.93 L360.16,854.16 L359.96,854.39 L359.77,854.62 L359.58,854.85 L359.38,855.08 L359.19,855.32 L358.99,855.55 L358.8,855.78 L358.61,856.01 L358.41,856.24 L358.22,856.47 L358.03,856.71 L357.84,856.94 L357.64,857.17 L357.45,857.4 L357.26,857.63 L357.07,857.86 L356.88,858.1 L356.69,858.33 L356.49,858.56 L356.3,858.79 L356.11,859.03 L355.91,859.27 L355.71,859.51 L355.52,859.75 L355.32,859.99 L355.12,860.23 L354.93,860.47 L354.73,860.71 L354.54,860.95 L354.34,861.19 L354.15,861.43 L353.95,861.66 L353.76,861.9 L353.56,862.14 L353.37,862.38 L353.18,862.62 L352.98,862.86 L352.79,863.1 L352.6,863.34 L352.4,863.58 L352.21,863.82 L352.02,864.06 L351.83,864.3 L351.64,864.54 L351.44,864.78 L351.25,865.02 L351.06,865.26 L350.87,865.5 L350.68,865.74 L350.49,865.98 L350.3,866.22 L350.11,866.46 L349.92,866.7 L349.73,866.94 L349.54,867.17 L349.35,867.41 L349.17,867.65 L348.98,867.89 L348.79,868.13 L348.6,868.37 L348.41,868.61 L348.23,868.85 L348.04,869.09 L347.85,869.33 L347.67,869.57 L347.48,869.81 L347.3,870.05 L347.11,870.29 L346.92,870.53 L346.74,870.77 L346.55,871.01 L346.37,871.25 L346.19,871.49 L346,871.73 L345.82,871.97 L345.64,872.21 L345.45,872.44 L345.27,872.68 L345.09,872.92 L344.9,873.16 L344.72,873.4 L344.54,873.64 L344.36,873.88 L344.18,874.12 L344,874.36 L343.82,874.6 L343.63,874.85 L343.44,875.1 L343.26,875.34 L343.07,875.59 L342.89,875.84 L342.7,876.09 L342.52,876.33 L342.33,876.58 L342.15,876.83 L341.97,877.08 L341.78,877.32 L341.6,877.57 L341.42,877.82 L341.24,878.07 L341.05,878.31 L340.87,878.56 L340.69,878.81 L340.51,879.06 L340.33,879.3 L340.15,879.55 L339.97,879.8 L339.79,880.05 L339.61,880.29 L339.43,880.54 L339.25,880.79 L339.07,881.04 L338.89,881.28 L338.72,881.53 L338.54,881.78 L338.36,882.03 L338.19,882.27 L338.01,882.52 L337.83,882.77 L337.66,883.02 L337.48,883.26 L337.31,883.51 L337.13,883.76 L336.96,884.01 L336.78,884.26 L336.61,884.5 L336.44,884.75 L336.26,885 L336.09,885.25 L335.92,885.49 L335.75,885.74 L335.58,885.99 L335.4,886.24 L335.23,886.48 L335.06,886.73 L334.89,886.98 L334.72,887.23 L334.55,887.48 L334.37,887.74 L334.2,887.99 L334.03,888.25 L333.85,888.5 L333.68,888.76 L333.51,889.01 L333.34,889.27 L333.16,889.53 L332.99,889.78 L332.82,890.04 L332.65,890.29 L332.48,890.55 L332.31,890.8 L332.14,891.06 L331.98,891.31 L331.81,891.57 L331.64,891.83 L331.47,892.08 L331.3,892.34 L331.14,892.59 L330.97,892.85 L330.81,893.1 L330.64,893.36 L330.48,893.61 L330.31,893.87 L330.15,894.12 L329.98,894.38 L329.82,894.64 L329.66,894.89 L329.49,895.15 L329.33,895.4 L329.17,895.66 L329.01,895.91 L328.85,896.17 L328.69,896.42 L328.53,896.68 L328.37,896.94 L328.21,897.19 L328.05,897.45 L327.9,897.7 L327.74,897.96 L327.58,898.22 L327.42,898.48 L327.25,898.75 L327.09,899.01 L326.93,899.28 L326.77,899.54 L326.62,899.8 L326.46,900.07 L326.3,900.33 L326.14,900.59 L325.99,900.86 L325.83,901.12 L325.67,901.38 L325.52,901.65 L325.36,901.91 L325.21,902.17 L325.06,902.44 L324.9,902.7 L324.75,902.96 L324.6,903.23 L324.45,903.49 L324.3,903.76 L324.14,904.02 L323.99,904.28 L323.85,904.55 L323.7,904.81 L323.55,905.07 L323.4,905.34 L323.25,905.6 L323.11,905.86 L322.96,906.13 L322.81,906.39 L322.67,906.65 L322.53,906.92 L322.38,907.18 L322.23,907.45 L322.09,907.72 L321.94,908 L321.8,908.27 L321.65,908.54 L321.51,908.81 L321.36,909.08 L321.22,909.35 L321.08,909.62 L320.93,909.9 L320.79,910.17 L320.65,910.44 L320.51,910.71 L320.37,910.98 L320.23,911.25 L320.1,911.52 L319.96,911.8 L319.82,912.07 L319.69,912.34 L319.55,912.61 L319.41,912.88 L319.28,913.15 L319.15,913.43 L319.01,913.7 L318.88,913.97 L318.75,914.24 L318.62,914.51 L318.49,914.78 L318.36,915.05 L318.23,915.33 L318.1,915.6 L317.97,915.88 L317.84,916.16 L317.71,916.44 L317.58,916.72 L317.46,916.99 L317.33,917.27 L317.2,917.55 L317.08,917.83 L316.95,918.11 L316.83,918.39 L316.71,918.67 L316.58,918.95 L316.46,919.23 L316.34,919.51 L316.22,919.79 L316.1,920.07 L315.98,920.35 L315.87,920.63 L315.75,920.91 L315.63,921.19 L315.52,921.47 L315.4,921.75 L315.29,922.03 L315.18,922.3 L315.06,922.58 L314.95,922.86 L314.84,923.14 L314.73,923.42 L314.62,923.71 L314.51,924 L314.4,924.29 L314.29,924.57 L314.19,924.86 L314.08,925.15 L313.97,925.44 L313.87,925.72 L313.77,926.01 L313.66,926.3 L313.56,926.58 L313.46,926.87 L313.36,927.16 L313.26,927.45 L313.16,927.73 L313.07,928.02 L312.97,928.31 L312.87,928.6 L312.78,928.88 L312.69,929.17 L312.6,929.46 L312.51,929.75 L312.42,930.03 L312.33,930.32 L312.24,930.61 L312.15,930.9 L312.06,931.19 L311.98,931.49 L311.89,931.78 L311.81,932.08 L311.72,932.37 L311.64,932.67 L311.56,932.97 L311.48,933.26 L311.4,933.56 L311.33,933.85 L311.25,934.15 L311.17,934.44 L311.1,934.74 L311.03,935.03 L310.96,935.33 L310.89,935.62 L310.82,935.92 L310.75,936.22 L310.68,936.51 L310.62,936.81 L310.56,937.1 L310.49,937.4 L310.43,937.69 L310.37,937.99 L310.32,938.28 L310.26,938.58 L310.2,938.87 L310.15,939.17 L310.1,939.47 L310.04,939.77 L309.99,940.07 L309.94,940.38 L309.89,940.68 L309.85,940.98 L309.8,941.29 L309.76,941.59 L309.71,941.89 L309.67,942.2 L309.63,942.5 L309.6,942.8 L309.56,943.11 L309.53,943.41 L309.49,943.71 L309.46,944.02 L309.43,944.32 L309.4,944.62 L309.38,944.93 L309.35,945.23 L309.33,945.53 L309.31,945.84 L309.29,946.14 L309.27,946.44 L309.26,946.75 L309.24,947.05 L309.23,947.35 L309.22,947.66 L309.21,947.96 L309.2,948.26 L309.2,948.57 L309.2,948.87 L309.19,949.18 L309.19,949.25" stroke="#000000" stroke-width="3.1" fill="none" stroke-linecap="round" stroke-dasharray="0 5.8"/>
<path d="M580.78,1012.72 L580.04,1012.7 L579.3,1012.68 L578.57,1012.67 L577.84,1012.65 L577.12,1012.64 L576.4,1012.62 L575.68,1012.61 L574.97,1012.59 L574.26,1012.58 L573.55,1012.56 L572.85,1012.55 L572.15,1012.53 L571.45,1012.52 L570.76,1012.5 L570.07,1012.49 L569.39,1012.47 L568.71,1012.45 L568.03,1012.44 L567.35,1012.42 L566.68,1012.41 L566.02,1012.39 L565.35,1012.38 L564.69,1012.36 L564.03,1012.35 L563.38,1012.33 L562.72,1012.32 L562.08,1012.3 L561.43,1012.29 L560.79,1012.27 L560.15,1012.26 L559.51,1012.24 L558.88,1012.22 L558.25,1012.21 L557.62,1012.19 L557,1012.18 L556.38,1012.16 L555.76,1012.15 L555.15,1012.13 L554.53,1012.12 L553.93,1012.1 L553.32,1012.09 L552.72,1012.07 L552.11,1012.06 L551.22,1012.03 L550.33,1012.01 L549.45,1011.99 L548.57,1011.96 L547.7,1011.94 L546.83,1011.92 L545.97,1011.9 L545.12,1011.87 L544.27,1011.85 L543.43,1011.83 L542.59,1011.8 L541.76,1011.78 L540.94,1011.76 L540.12,1011.73 L539.3,1011.71 L538.49,1011.69 L537.69,1011.67 L536.89,1011.64 L536.09,1011.62 L535.31,1011.6 L534.52,1011.57 L533.74,1011.55 L532.97,1011.53 L532.2,1011.5 L531.44,1011.48 L530.68,1011.46 L529.92,1011.44 L529.17,1011.41 L528.43,1011.39 L527.69,1011.37 L526.95,1011.34 L526.22,1011.32 L525.5,1011.3 L524.77,1011.27 L524.06,1011.25 L523.34,1011.23 L522.63,1011.21 L521.93,1011.18 L521.23,1011.16 L520.53,1011.14 L519.84,1011.11 L519.15,1011.09 L518.47,1011.07 L517.79,1011.04 L517.11,1011.02 L516.44,1011 L515.77,1010.98 L515.11,1010.95 L514.45,1010.93 L513.79,1010.91 L513.14,1010.88 L512.49,1010.86 L511.84,1010.84 L511.2,1010.81 L510.56,1010.79 L509.93,1010.77 L509.3,1010.75 L508.67,1010.72 L508.04,1010.7 L507.42,1010.68 L506.81,1010.65 L506.19,1010.63 L505.58,1010.61 L504.98,1010.58 L504.37,1010.56 L503.77,1010.54 L502.98,1010.51 L502.19,1010.48 L501.4,1010.45 L500.63,1010.42 L499.85,1010.39 L499.09,1010.36 L498.32,1010.32 L497.57,1010.29 L496.82,1010.26 L496.07,1010.23 L495.33,1010.2 L494.59,1010.17 L493.86,1010.14 L493.14,1010.11 L492.42,1010.08 L491.7,1010.05 L490.99,1010.02 L490.29,1009.99 L489.59,1009.96 L488.89,1009.93 L488.2,1009.9 L487.51,1009.86 L486.83,1009.83 L486.15,1009.8 L485.48,1009.77 L484.81,1009.74 L484.14,1009.71 L483.48,1009.68 L482.82,1009.65 L482.17,1009.62 L481.52,1009.59 L480.88,1009.56 L480.24,1009.53 L479.61,1009.5 L478.97,1009.47 L478.35,1009.44 L477.72,1009.4 L477.1,1009.37 L476.49,1009.34 L475.87,1009.31 L475.27,1009.28 L474.66,1009.25 L474.06,1009.22 L473.32,1009.18 L472.57,1009.14 L471.84,1009.11 L471.11,1009.07 L470.39,1009.03 L469.67,1008.99 L468.96,1008.95 L468.25,1008.91 L467.55,1008.88 L466.85,1008.84 L466.16,1008.8 L465.47,1008.76 L464.79,1008.72 L464.11,1008.68 L463.44,1008.65 L462.77,1008.61 L462.11,1008.57 L461.45,1008.53 L460.8,1008.49 L460.15,1008.45 L459.51,1008.42 L458.87,1008.38 L458.23,1008.34 L457.6,1008.3 L456.97,1008.26 L456.35,1008.22 L455.73,1008.19 L455.12,1008.15 L454.51,1008.11 L453.9,1008.07 L453.3,1008.03 L452.59,1007.99 L451.88,1007.94 L451.17,1007.9 L450.47,1007.85 L449.78,1007.8 L449.09,1007.76 L448.41,1007.71 L447.73,1007.67 L447.06,1007.62 L446.39,1007.57 L445.73,1007.53 L445.07,1007.48 L444.42,1007.44 L443.77,1007.39 L443.13,1007.34 L442.5,1007.3 L441.86,1007.25 L441.24,1007.21 L440.61,1007.16 L439.99,1007.11 L439.38,1007.07 L438.77,1007.02 L438.17,1006.98 L437.57,1006.93 L436.87,1006.88 L436.18,1006.82 L435.5,1006.77 L434.82,1006.72 L434.15,1006.66 L433.48,1006.61 L432.82,1006.55 L432.17,1006.5 L431.52,1006.45 L430.87,1006.39 L430.23,1006.34 L429.6,1006.29 L428.97,1006.23 L428.34,1006.18 L427.72,1006.13 L427.11,1006.07 L426.5,1006.02 L425.89,1005.96 L425.29,1005.91 L424.61,1005.85 L423.94,1005.79 L423.27,1005.73 L422.61,1005.67 L421.95,1005.6 L421.3,1005.54 L420.65,1005.48 L420.01,1005.42 L419.38,1005.36 L418.75,1005.3 L418.12,1005.24 L417.51,1005.17 L416.89,1005.11 L416.28,1005.05 L415.68,1004.99 L415.08,1004.93 L414.41,1004.86 L413.75,1004.79 L413.1,1004.72 L412.45,1004.65 L411.81,1004.58 L411.17,1004.52 L410.54,1004.45 L409.91,1004.38 L409.29,1004.31 L408.67,1004.24 L408.06,1004.17 L407.46,1004.1 L406.86,1004.03 L406.2,1003.96 L405.55,1003.88 L404.9,1003.8 L404.26,1003.73 L403.63,1003.65 L403,1003.57 L402.37,1003.5 L401.76,1003.42 L401.15,1003.34 L400.54,1003.27 L399.94,1003.19 L399.29,1003.11 L398.64,1003.02 L398,1002.94 L397.36,1002.85 L396.73,1002.77 L396.11,1002.68 L395.5,1002.6 L394.89,1002.52 L394.28,1002.43 L393.68,1002.35 L393.04,1002.26 L392.4,1002.16 L391.76,1002.07 L391.14,1001.98 L390.52,1001.89 L389.9,1001.8 L389.3,1001.7 L388.69,1001.61 L388.1,1001.52 L387.46,1001.42 L386.83,1001.32 L386.2,1001.22 L385.58,1001.12 L384.97,1001.02 L384.37,1000.92 L383.77,1000.82 L383.18,1000.72 L382.54,1000.62 L381.92,1000.51 L381.3,1000.4 L380.69,1000.29 L380.09,1000.19 L379.49,1000.08 L378.9,999.97 L378.27,999.86 L377.65,999.74 L377.04,999.63 L376.43,999.51 L375.83,999.4 L375.24,999.28 L374.62,999.16 L374,999.04 L373.39,998.91 L372.79,998.79 L372.19,998.67 L371.6,998.55 L370.98,998.42 L370.37,998.29 L369.77,998.16 L369.18,998.03 L368.59,997.89 L367.97,997.76 L367.36,997.62 L366.76,997.48 L366.17,997.34 L365.58,997.21 L364.97,997.06 L364.37,996.91 L363.77,996.77 L363.19,996.62 L362.58,996.47 L361.97,996.32 L361.38,996.16 L360.79,996.01 L360.18,995.85 L359.58,995.69 L358.99,995.53 L358.41,995.37 L357.81,995.2 L357.21,995.03 L356.63,994.86 L356.05,994.69 L355.45,994.52 L354.86,994.34 L354.29,994.16 L353.69,993.98 L353.1,993.8 L352.52,993.61 L351.93,993.42 L351.35,993.23 L350.77,993.04 L350.18,992.84 L349.6,992.64 L349.03,992.44 L348.44,992.23 L347.87,992.03 L347.3,991.82 L346.72,991.6 L346.16,991.39 L345.58,991.17 L345.01,990.94 L344.45,990.72 L343.88,990.49 L343.32,990.26 L342.75,990.02 L342.19,989.79 L341.62,989.54 L341.06,989.3 L340.51,989.05 L339.96,988.8 L339.41,988.55 L338.86,988.29 L338.32,988.02 L337.78,987.76 L337.22,987.48 L336.68,987.2 L336.14,986.92 L335.6,986.64 L335.07,986.35 L334.54,986.06 L334.01,985.76 L333.48,985.45 L332.95,985.14 L332.43,984.83 L331.92,984.52 L331.41,984.19 L330.89,983.86 L330.39,983.53 L329.89,983.2 L329.38,982.85 L328.88,982.5 L328.39,982.15 L327.91,981.79 L327.42,981.42 L326.94,981.05 L326.47,980.68 L326,980.29 L325.54,979.9 L325.07,979.5 L324.62,979.11 L324.18,978.7 L323.73,978.29 L323.3,977.86 L322.86,977.43 L322.44,977.01 L322.03,976.57 L321.62,976.12 L321.21,975.67 L320.82,975.21 L320.43,974.74 L320.05,974.28 L319.68,973.8 L319.31,973.32 L318.96,972.83 L318.61,972.33 L318.27,971.83 L317.95,971.33 L317.63,970.81 L317.31,970.29 L317.02,969.77 L316.73,969.24 L316.44,968.71 L316.17,968.16 L315.91,967.62 L315.66,967.07 L315.42,966.51 L315.19,965.96 L314.98,965.4 L314.77,964.83 L314.57,964.25 L314.38,963.68 L314.21,963.1 L314.04,962.52 L313.89,961.94 L313.75,961.35 L313.61,960.76 L313.49,960.17 L313.38,959.58 L313.28,958.98 L313.19,958.38 L313.11,957.79 L313.04,957.19 L312.98,956.59 L312.93,955.99 L312.89,955.38 L312.85,954.77 L312.83,954.17 L312.82,953.56 L312.82,953.02" stroke="#ff0000" stroke-width="3.2" fill="none" stroke-linejoin="round" stroke-linecap="round"/>
<path d="M91.8,983.86 L98.51,983.82 L101.28,983.77 L103.41,983.72 L105.19,983.68 L106.77,983.63 L108.19,983.59 L109.49,983.54 L110.7,983.49 L111.83,983.45 L112.91,983.4 L113.92,983.36 L114.9,983.31 L115.82,983.26 L116.72,983.22 L117.58,983.17 L118.41,983.12 L119.21,983.08 L119.99,983.03 L120.75,982.99 L121.49,982.94 L122.2,982.89 L122.9,982.85 L123.58,982.8 L124.25,982.76 L124.9,982.71 L125.54,982.66 L126.16,982.62 L126.77,982.57 L127.37,982.53 L128.54,982.43 L129.67,982.34 L130.76,982.25 L131.81,982.16 L132.84,982.07 L133.83,981.97 L134.8,981.88 L135.74,981.79 L136.66,981.7 L137.56,981.6 L138.43,981.51 L139.29,981.42 L140.13,981.33 L140.95,981.24 L141.75,981.14 L142.54,981.05 L143.32,980.96 L144.07,980.87 L144.82,980.78 L145.55,980.68 L146.27,980.59 L146.98,980.5 L147.67,980.41 L148.36,980.31 L149.03,980.22 L149.7,980.13 L150.35,980.04 L150.99,979.95 L151.63,979.85 L152.25,979.76 L152.87,979.67 L153.48,979.58 L154.08,979.49 L154.96,979.35 L155.83,979.21 L156.69,979.07 L157.52,978.93 L158.34,978.79 L159.15,978.66 L159.95,978.52 L160.73,978.38 L161.5,978.24 L162.25,978.1 L163,977.97 L163.73,977.83 L164.45,977.69 L165.16,977.55 L165.86,977.41 L166.55,977.27 L167.23,977.14 L167.91,977 L168.57,976.86 L169.22,976.72 L169.87,976.58 L170.5,976.44 L171.13,976.31 L171.75,976.17 L172.37,976.03 L172.97,975.89 L173.57,975.75 L174.16,975.62 L174.75,975.48 L175.52,975.29 L176.28,975.11 L177.02,974.92 L177.76,974.74 L178.49,974.56 L179.2,974.37 L179.91,974.19 L180.6,974 L181.29,973.82 L181.97,973.63 L182.64,973.45 L183.3,973.27 L183.95,973.08 L184.6,972.9 L185.23,972.71 L185.86,972.53 L186.49,972.34 L187.1,972.16 L187.71,971.98 L188.31,971.79 L188.9,971.61 L189.49,971.42 L190.07,971.24 L190.65,971.05 L191.36,970.82 L192.06,970.59 L192.76,970.36 L193.44,970.13 L194.12,969.9 L194.78,969.67 L195.44,969.44 L196.1,969.21 L196.74,968.98 L197.38,968.75 L198.01,968.52 L198.63,968.29 L199.25,968.06 L199.86,967.83 L200.46,967.6 L201.06,967.37 L201.65,967.14 L202.23,966.91 L202.81,966.68 L203.39,966.45 L203.96,966.22 L204.52,965.99 L205.08,965.76 L205.74,965.48 L206.39,965.2 L207.04,964.93 L207.68,964.65 L208.32,964.37 L208.95,964.1 L209.57,963.82 L210.18,963.55 L210.79,963.27 L211.4,962.99 L211.99,962.72 L212.59,962.44 L213.17,962.16 L213.76,961.89 L214.33,961.61 L214.9,961.33 L215.47,961.06 L216.03,960.78 L216.59,960.5 L217.14,960.23 L217.69,959.95 L218.24,959.68 L218.78,959.4 L219.31,959.12 L219.93,958.8 L220.54,958.48 L221.15,958.16 L221.76,957.83 L222.36,957.51 L222.95,957.19 L223.54,956.87 L224.12,956.54 L224.71,956.22 L225.28,955.9 L225.85,955.58 L226.42,955.25 L226.98,954.93 L227.54,954.61 L228.1,954.29 L228.65,953.96 L229.2,953.64 L229.74,953.32 L230.28,953 L230.82,952.67 L231.35,952.35 L231.88,952.03 L232.41,951.71 L232.94,951.38 L233.46,951.06 L233.98,950.74 L234.49,950.42 L235,950.09 L235.51,949.77 L236.02,949.45 L236.6,949.08 L237.17,948.71 L237.74,948.34 L238.3,947.97 L238.87,947.61 L239.43,947.24 L239.98,946.87 L240.54,946.5 L241.09,946.13 L241.64,945.76 L242.18,945.39 L242.73,945.03 L243.27,944.66 L243.8,944.29 L244.34,943.92 L244.87,943.55 L245.4,943.18 L245.93,942.81 L246.46,942.45 L246.98,942.08 L247.5,941.71 L248.02,941.34 L248.54,940.97 L249.05,940.6 L249.57,940.23 L250.08,939.87 L250.59,939.5 L251.1,939.13 L251.6,938.76 L252.11,938.39 L252.61,938.02 L253.11,937.65 L253.61,937.29 L254.11,936.92 L254.6,936.55 L255.1,936.18 L255.59,935.81 L256.08,935.44 L256.57,935.07 L257.06,934.71 L257.55,934.34 L258.04,933.97 L258.52,933.6 L259,933.23 L259.49,932.86 L259.97,932.49 L260.45,932.13 L260.93,931.76 L261.4,931.39 L261.88,931.02 L262.36,930.65 L262.83,930.28 L263.3,929.91 L263.84,929.5 L264.37,929.09 L264.9,928.67 L265.42,928.26 L265.95,927.84 L266.48,927.43 L267,927.01 L267.52,926.6 L268.05,926.18 L268.57,925.77 L269.09,925.35 L269.61,924.94 L270.13,924.52 L270.64,924.11 L271.16,923.7 L271.68,923.28 L272.19,922.87 L272.7,922.45 L273.22,922.04 L273.73,921.62 L274.24,921.21 L274.75,920.79 L275.26,920.38 L275.77,919.96 L276.28,919.55 L276.79,919.13 L277.3,918.72 L277.8,918.3 L278.31,917.89 L278.82,917.48 L279.32,917.06 L279.83,916.65 L280.33,916.23 L280.83,915.82 L281.34,915.4 L281.84,914.99 L282.34,914.57 L282.84,914.16 L283.34,913.74 L283.84,913.33 L284.34,912.91 L284.84,912.5 L285.34,912.09 L285.84,911.67 L286.34,911.26 L286.84,910.84 L287.33,910.43 L287.83,910.01 L288.33,909.6 L288.82,909.18 L289.32,908.77 L289.82,908.35 L290.31,907.94 L290.81,907.52 L291.3,907.11 L291.8,906.7 L292.29,906.28 L292.78,905.87 L293.28,905.45 L293.77,905.04 L294.27,904.62 L294.76,904.21 L295.25,903.79 L295.74,903.38 L296.24,902.96 L296.73,902.55 L297.22,902.13 L297.71,901.72 L298.2,901.31 L298.7,900.89 L299.19,900.48 L299.68,900.06 L300.17,899.65 L300.66,899.23 L301.15,898.82 L301.64,898.4 L302.13,897.99 L302.62,897.57 L303.11,897.16 L303.6,896.74 L304.09,896.33 L304.58,895.92 L305.07,895.5 L305.56,895.09 L306.05,894.67 L306.54,894.26 L307.03,893.84 L307.52,893.43 L308.01,893.01 L308.5,892.6 L308.99,892.18 L309.48,891.77 L309.96,891.35 L310.45,890.94 L310.94,890.53 L311.43,890.11 L311.92,889.7 L312.41,889.28 L312.9,888.87 L313.39,888.45 L313.87,888.04 L314.36,887.62 L314.85,887.21 L315.34,886.79 L315.83,886.38 L316.32,885.96 L316.81,885.55 L317.3,885.13 L317.78,884.72 L318.27,884.31 L318.76,883.89 L319.25,883.48 L319.74,883.06 L320.23,882.65 L320.72,882.23 L321.2,881.82 L321.69,881.4 L322.18,880.99 L322.67,880.57 L323.16,880.16 L323.65,879.74 L324.14,879.33 L324.63,878.92 L325.12,878.5 L325.6,878.09 L326.09,877.67 L326.58,877.26 L327.07,876.84 L327.56,876.43 L328.05,876.01 L328.54,875.6 L329.03,875.18 L329.52,874.77 L330.01,874.35 L330.5,873.94 L330.99,873.53 L331.48,873.11 L331.97,872.7 L332.46,872.28 L332.95,871.87 L333.44,871.45 L333.93,871.04 L334.42,870.62 L334.91,870.21 L335.4,869.79 L335.89,869.38 L336.38,868.96 L336.87,868.55 L337.36,868.14 L337.85,867.72 L338.34,867.31 L338.83,866.89 L339.32,866.48 L339.81,866.06 L340.3,865.65 L340.8,865.23 L341.29,864.82 L341.78,864.4 L342.27,863.99 L342.76,863.57 L343.25,863.16 L343.75,862.75 L344.24,862.33 L344.73,861.92 L345.22,861.5 L345.71,861.09 L346.21,860.67 L346.7,860.26 L347.19,859.84 L347.68,859.43 L348.18,859.01 L348.67,858.6 L349.16,858.18 L349.65,857.77 L350.15,857.35 L350.64,856.94 L351.13,856.53 L351.63,856.11 L352.12,855.7 L352.61,855.28 L353.11,854.87 L353.6,854.45 L354.1,854.04 L354.59,853.62 L355.08,853.21 L355.58,852.79 L356.07,852.38 L356.57,851.96 L357.06,851.55 L357.56,851.14 L358.05,850.72 L358.55,850.31 L359.04,849.89 L359.54,849.48 L360.03,849.06 L360.53,848.65 L361.02,848.23 L361.52,847.82 L362.01,847.4 L362.51,846.99 L363.01,846.57 L363.5,846.16 L364,845.75 L364.49,845.33 L364.99,844.92 L365.49,844.5 L365.98,844.09 L366.48,843.67 L366.98,843.26 L367.48,842.84 L367.97,842.43 L368.47,842.01 L368.97,841.6 L369.46,841.18 L369.96,840.77 L370.46,840.36 L370.96,839.94 L371.46,839.53 L371.95,839.11 L372.45,838.7 L372.95,838.28 L373.45,837.87 L373.95,837.45 L374.45,837.04 L374.95,836.62 L375.44,836.21 L375.94,835.79 L376.44,835.38 L376.94,834.97 L377.44,834.55 L377.94,834.14 L378.44,833.72 L378.94,833.31 L379.44,832.89 L379.94,832.48 L380.44,832.06 L380.94,831.65 L381.44,831.23 L381.94,830.82 L382.44,830.4 L382.94,829.99 L383.44,829.58 L383.94,829.16 L384.45,828.75 L384.95,828.33 L385.45,827.92 L385.95,827.5 L386.45,827.09 L386.95,826.67 L387.45,826.26 L387.96,825.84 L388.46,825.43 L388.96,825.01 L389.46,824.6 L389.97,824.18 L390.47,823.77 L390.97,823.36 L391.47,822.94 L391.98,822.53 L392.48,822.11 L392.98,821.7 L393.49,821.28 L393.99,820.87 L394.49,820.45 L395,820.04 L395.5,819.62 L396,819.21 L396.51,818.79 L397.01,818.38 L397.52,817.97 L398.02,817.55 L398.53,817.14 L399.03,816.72 L399.53,816.31 L400.04,815.89 L400.54,815.48 L401.05,815.06 L401.55,814.65 L402.06,814.23 L402.56,813.82 L403.07,813.4 L403.58,812.99 L404.08,812.58 L404.59,812.16 L405.09,811.75 L405.6,811.33 L406.11,810.92 L406.61,810.5 L407.12,810.09 L407.62,809.67 L408.13,809.26 L408.64,808.84 L409.14,808.43 L409.65,808.01 L410.16,807.6 L410.67,807.19 L411.17,806.77 L411.68,806.36 L412.19,805.94 L412.7,805.53 L413.2,805.11 L413.71,804.7 L414.22,804.28 L414.73,803.87 L415.24,803.45 L415.74,803.04 L416.25,802.62 L416.76,802.21 L417.27,801.8 L417.78,801.38 L418.29,800.97 L418.8,800.55 L419.31,800.14 L419.81,799.72 L420.32,799.31 L420.83,798.89 L421.34,798.48 L421.85,798.06 L422.36,797.65 L422.87,797.23 L423.38,796.82 L423.89,796.4 L424.4,795.99 L424.91,795.58 L425.42,795.16 L425.93,794.75 L426.44,794.33 L426.95,793.92 L427.46,793.5 L427.98,793.09 L428.49,792.67 L429,792.26 L429.51,791.84 L430.02,791.43 L430.53,791.01 L431.04,790.6 L431.55,790.19 L432.07,789.77 L432.58,789.36 L433.09,788.94 L433.6,788.53 L434.11,788.11 L434.63,787.7 L435.14,787.28 L435.65,786.87 L436.16,786.45 L436.68,786.04 L437.19,785.62 L437.7,785.21 L438.22,784.8 L438.73,784.38 L439.24,783.97 L439.75,783.55 L440.27,783.14 L440.78,782.72 L441.29,782.31 L441.81,781.89 L442.32,781.48 L442.84,781.06 L443.35,780.65 L443.86,780.23 L444.38,779.82 L444.89,779.41 L445.41,778.99 L445.92,778.58 L446.44,778.16 L446.95,777.75 L447.46,777.33 L447.98,776.92 L448.49,776.5 L449.01,776.09 L449.52,775.67 L450.04,775.26 L450.55,774.84 L451.07,774.43 L451.59,774.02 L452.1,773.6 L452.62,773.19 L453.13,772.77 L453.65,772.36 L454.16,771.94 L454.68,771.53 L455.2,771.11 L455.71,770.7 L456.23,770.28 L456.75,769.87 L457.26,769.45 L457.78,769.04 L458.3,768.62 L458.81,768.21 L459.33,767.8 L459.85,767.38 L460.36,766.97 L460.88,766.55 L461.4,766.14 L461.91,765.72 L462.43,765.31 L462.95,764.89 L463.47,764.48 L463.98,764.06 L464.5,763.65 L465.02,763.23 L465.54,762.82 L466.06,762.41 L466.57,761.99 L467.09,761.58 L467.61,761.16 L468.13,760.75 L468.65,760.33 L469.17,759.92 L469.68,759.5 L470.2,759.09 L470.72,758.67 L471.24,758.26 L471.76,757.84 L472.28,757.43 L472.8,757.02 L473.32,756.6 L473.84,756.19 L474.36,755.77 L474.88,755.36 L475.39,754.94 L475.91,754.53 L476.43,754.11 L476.95,753.7 L477.47,753.28 L477.99,752.87 L478.51,752.45 L479.03,752.04 L479.55,751.63 L480.07,751.21 L480.59,750.8 L481.12,750.38 L481.64,749.97 L482.16,749.55 L482.68,749.14 L483.2,748.72 L483.72,748.31 L484.24,747.89 L484.76,747.48 L485.28,747.06 L485.8,746.65 L486.32,746.24 L486.85,745.82 L487.37,745.41 L487.89,744.99 L488.41,744.58 L488.93,744.16 L489.45,743.75 L489.97,743.33 L490.5,742.92 L491.02,742.5 L491.54,742.09 L492.06,741.67 L492.58,741.26 L493.11,740.85 L493.63,740.43 L494.15,740.02 L494.67,739.6 L495.2,739.19 L495.72,738.77 L496.24,738.36 L496.77,737.94 L497.29,737.53 L497.81,737.11 L498.33,736.7 L498.86,736.28 L499.38,735.87 L499.9,735.45 L500.43,735.04 L500.95,734.63 L501.47,734.21 L502,733.8 L502.52,733.38 L503.04,732.97 L503.57,732.55 L504.09,732.14 L504.62,731.72 L505.14,731.31 L505.66,730.89 L506.19,730.48 L506.71,730.06 L507.24,729.65 L507.76,729.24 L508.28,728.82 L508.81,728.41 L509.33,727.99 L509.86,727.58 L510.38,727.16 L510.91,726.75 L511.43,726.33 L511.96,725.92 L512.48,725.5 L513.01,725.09 L513.53,724.67 L514.06,724.26 L514.58,723.85 L515.11,723.43 L515.63,723.02 L516.16,722.6 L516.68,722.19 L517.21,721.77 L517.74,721.36 L518.26,720.94 L518.79,720.53 L519.31,720.11 L519.84,719.7 L520.36,719.28 L520.89,718.87 L521.42,718.46 L521.94,718.04 L522.47,717.63 L523,717.21 L523.52,716.8 L524.05,716.38 L524.57,715.97 L525.1,715.55 L525.63,715.14 L526.15,714.72 L526.68,714.31 L527.21,713.89 L527.73,713.48 L528.26,713.07 L528.79,712.65 L529.32,712.24 L529.84,711.82 L530.37,711.41 L530.9,710.99 L531.42,710.58 L531.95,710.16 L532.48,709.75 L533.01,709.33 L533.53,708.92 L534.06,708.5 L534.59,708.09 L535.12,707.67 L540.05,708.89" stroke="#ff0000" stroke-width="3.2" fill="none" stroke-linejoin="round" stroke-linecap="round"/>
<path d="M540.05,708.89 L539.82,709.08 L539.58,709.27 L539.35,709.47 L539.11,709.66 L538.88,709.85 L538.64,710.04 L538.41,710.23 L538.17,710.42 L537.94,710.61 L537.7,710.81 L537.47,711 L537.23,711.19 L537,711.38 L536.76,711.57 L536.53,711.76 L536.29,711.96 L536.06,712.15 L535.82,712.34 L535.59,712.53 L535.35,712.72 L535.12,712.91 L534.88,713.11 L534.65,713.3 L534.42,713.49 L534.18,713.68 L533.95,713.87 L533.71,714.06 L533.48,714.25 L533.24,714.45 L533.01,714.64 L532.77,714.83 L532.54,715.02 L532.31,715.21 L532.07,715.4 L531.84,715.6 L531.6,715.79 L531.37,715.98 L531.14,716.17 L530.9,716.36 L530.67,716.55 L530.43,716.75 L530.2,716.94 L529.96,717.13 L529.73,717.32 L529.5,717.51 L529.26,717.7 L529.03,717.89 L528.8,718.09 L528.56,718.28 L528.33,718.47 L528.09,718.66 L527.86,718.85 L527.63,719.04 L527.39,719.24 L527.16,719.43 L526.93,719.62 L526.69,719.81 L526.46,720 L526.23,720.19 L525.99,720.39 L525.76,720.58 L525.52,720.77 L525.29,720.96 L525.06,721.15 L524.82,721.34 L524.59,721.53 L524.36,721.73 L524.13,721.92 L523.89,722.11 L523.66,722.3 L523.43,722.49 L523.19,722.68 L522.96,722.88 L522.73,723.07 L522.49,723.26 L522.26,723.45 L522.03,723.64 L521.79,723.83 L521.56,724.03 L521.33,724.22 L521.1,724.41 L520.86,724.6 L520.63,724.79 L520.4,724.98 L520.16,725.17 L519.93,725.37 L519.7,725.56 L519.47,725.75 L519.23,725.94 L519,726.13 L518.77,726.32 L518.54,726.52 L518.3,726.71 L518.07,726.9 L517.84,727.09 L517.61,727.28 L517.37,727.47 L517.14,727.67 L516.91,727.86 L516.68,728.05 L516.45,728.24 L516.21,728.43 L515.98,728.62 L515.75,728.81 L515.52,729.01 L515.28,729.2 L515.05,729.39 L514.82,729.58 L514.59,729.77 L514.36,729.96 L514.12,730.16 L513.89,730.35 L513.66,730.54 L513.43,730.73 L513.2,730.92 L512.97,731.11 L512.73,731.31 L512.5,731.5 L512.27,731.69 L512.04,731.88 L511.81,732.07 L511.58,732.26 L511.34,732.45 L511.11,732.65 L510.88,732.84 L510.65,733.03 L510.42,733.22 L510.19,733.41 L509.96,733.6 L509.72,733.8 L509.49,733.99 L509.26,734.18 L509.03,734.37 L508.8,734.56 L508.57,734.75 L508.34,734.95 L508.11,735.14 L507.88,735.33 L507.64,735.52 L507.41,735.71 L507.18,735.9 L506.95,736.09 L506.71,736.29 L506.47,736.49 L506.23,736.69 L505.99,736.89 L505.75,737.09 L505.51,737.29 L505.27,737.49 L505.03,737.69 L504.79,737.89 L504.55,738.09 L504.31,738.29 L504.07,738.49 L503.83,738.68 L503.59,738.88 L503.35,739.08 L503.12,739.28 L502.88,739.48 L502.64,739.68 L502.4,739.88 L502.16,740.08 L501.92,740.28 L501.68,740.48 L501.44,740.68 L501.2,740.88 L500.96,741.08 L500.72,741.27 L500.48,741.47 L500.24,741.67 L500.01,741.87 L499.77,742.07 L499.53,742.27 L499.29,742.47 L499.05,742.67 L498.81,742.87 L498.57,743.07 L498.33,743.27 L498.09,743.47 L497.86,743.67 L497.62,743.86 L497.38,744.06 L497.14,744.26 L496.9,744.46 L496.66,744.66 L496.43,744.86 L496.19,745.06 L495.95,745.26 L495.71,745.46 L495.47,745.66 L495.23,745.86 L495,746.06 L494.76,746.26 L494.52,746.46 L494.28,746.65 L494.04,746.85 L493.81,747.05 L493.57,747.25 L493.33,747.45 L493.09,747.65 L492.85,747.85 L492.62,748.05 L492.38,748.25 L492.14,748.45 L491.9,748.65 L491.67,748.85 L491.43,749.05 L491.19,749.24 L490.95,749.44 L490.72,749.64 L490.48,749.84 L490.24,750.04 L490,750.24 L489.77,750.44 L489.53,750.64 L489.29,750.84 L489.06,751.04 L488.82,751.24 L488.58,751.44 L488.34,751.64 L488.11,751.83 L487.87,752.03 L487.63,752.23 L487.4,752.43 L487.16,752.63 L486.92,752.83 L486.69,753.03 L486.45,753.23 L486.21,753.43 L485.98,753.63 L485.74,753.83 L485.5,754.03 L485.27,754.23 L485.03,754.42 L484.8,754.62 L484.56,754.82 L484.32,755.02 L484.09,755.22 L483.85,755.42 L483.61,755.62 L483.38,755.82 L483.14,756.02 L482.91,756.22 L482.67,756.42 L482.43,756.62 L482.2,756.82 L481.96,757.01 L481.73,757.21 L481.49,757.41 L481.26,757.61 L481.02,757.81 L480.79,758.01 L480.55,758.21 L480.31,758.41 L480.08,758.61 L479.84,758.81 L479.61,759.01 L479.37,759.21 L479.14,759.41 L478.9,759.6 L478.67,759.8 L478.43,760 L478.2,760.2 L477.96,760.4 L477.73,760.6 L477.49,760.8 L477.26,761 L477.02,761.2 L476.79,761.4 L476.55,761.6 L476.32,761.8 L476.08,762 L475.85,762.19 L475.62,762.39 L475.38,762.59 L475.15,762.79 L474.91,762.99 L474.68,763.19 L474.44,763.39 L474.21,763.59 L473.98,763.79 L473.74,763.99 L473.51,764.19 L473.27,764.39 L473.04,764.59 L472.81,764.79 L472.57,764.98 L472.34,765.18 L472.1,765.38 L471.87,765.58 L471.64,765.78 L471.4,765.98 L471.17,766.18 L470.94,766.38 L470.7,766.58 L470.47,766.78 L470.24,766.98 L470,767.18 L469.77,767.38 L469.54,767.57 L469.3,767.77 L469.07,767.97 L468.84,768.17 L468.6,768.37 L468.37,768.57 L468.14,768.77 L467.91,768.97 L467.67,769.17 L467.44,769.37 L467.21,769.57 L466.97,769.77 L466.74,769.97 L466.51,770.16 L466.28,770.36 L466.04,770.56 L465.81,770.76 L465.58,770.96 L465.35,771.16 L465.12,771.36 L464.88,771.56 L464.65,771.76 L464.42,771.96 L464.19,772.16 L463.96,772.36 L463.72,772.56 L463.49,772.75 L463.26,772.95 L463.03,773.15 L462.8,773.35 L462.57,773.55 L462.33,773.75 L462.1,773.95 L461.87,774.15 L461.64,774.35 L461.41,774.55 L461.18,774.75 L460.95,774.95 L460.71,775.15 L460.48,775.34 L460.25,775.54 L460.02,775.74 L459.79,775.94 L459.56,776.14 L459.33,776.34 L459.1,776.54 L458.87,776.74 L458.64,776.94 L458.41,777.14 L458.18,777.34 L457.95,777.54 L457.72,777.74 L457.48,777.93 L457.25,778.13 L457.02,778.33 L456.79,778.53 L456.56,778.73 L456.33,778.93 L456.1,779.13 L455.87,779.33 L455.64,779.53 L455.41,779.73 L455.18,779.93 L454.95,780.13 L454.73,780.33 L454.5,780.52 L454.27,780.72 L454.04,780.92 L453.81,781.12 L453.58,781.32 L453.35,781.52 L453.12,781.72 L452.89,781.92 L452.66,782.12 L452.43,782.32 L452.2,782.52 L451.97,782.72 L451.75,782.92 L451.52,783.12 L451.29,783.31 L451.06,783.51 L450.83,783.71 L450.6,783.91 L450.37,784.11 L450.15,784.31 L449.92,784.51 L449.69,784.71 L449.46,784.91 L449.23,785.11 L449,785.31 L448.78,785.51 L448.55,785.71 L448.32,785.9 L448.09,786.1 L447.86,786.3 L447.64,786.5 L447.41,786.7 L447.18,786.9 L446.95,787.1 L446.73,787.3 L446.5,787.5 L446.27,787.7 L446.04,787.9 L445.82,788.1 L445.59,788.3 L445.36,788.49 L445.14,788.69 L444.91,788.89 L444.68,789.09 L444.45,789.29 L444.23,789.49 L444,789.69 L443.77,789.89 L443.55,790.09 L443.32,790.29 L443.1,790.49 L442.87,790.69 L442.64,790.89 L442.42,791.08 L442.19,791.28 L441.96,791.48 L441.74,791.68 L441.51,791.88 L441.29,792.08 L441.06,792.28 L440.83,792.48 L440.61,792.68 L440.38,792.88 L440.16,793.08 L439.93,793.28 L439.71,793.48 L439.48,793.67 L439.26,793.87 L439.03,794.07 L438.81,794.27 L438.58,794.47 L438.36,794.67 L438.13,794.87 L437.91,795.07 L437.68,795.27 L437.46,795.47 L437.23,795.67 L437.01,795.87 L436.78,796.07 L436.56,796.26 L436.33,796.46 L436.11,796.66 L435.88,796.87 L435.64,797.08 L435.41,797.28 L435.18,797.49 L434.95,797.7 L434.71,797.9 L434.48,798.11 L434.25,798.32 L434.02,798.53 L433.78,798.73 L433.55,798.94 L433.32,799.15 L433.09,799.35 L432.86,799.56 L432.63,799.77 L432.39,799.97 L432.16,800.18 L431.93,800.39 L431.7,800.59 L431.47,800.8 L431.24,801.01 L431.01,801.22 L430.77,801.42 L430.54,801.63 L430.31,801.84 L430.08,802.04 L429.85,802.25 L429.62,802.46 L429.39,802.66 L429.16,802.87 L428.93,803.08 L428.7,803.28 L428.47,803.49 L428.24,803.7 L428.01,803.9 L427.78,804.11 L427.55,804.32 L427.32,804.53 L427.09,804.73 L426.86,804.94 L426.63,805.15 L426.4,805.35 L426.17,805.56 L425.94,805.77 L425.71,805.97 L425.48,806.18 L425.25,806.39 L425.02,806.59 L424.8,806.8 L424.57,807.01 L424.34,807.22 L424.11,807.42 L423.88,807.63 L423.65,807.84 L423.42,808.04 L423.2,808.25 L422.97,808.46 L422.74,808.66 L422.51,808.87 L422.28,809.08 L422.06,809.28 L421.83,809.49 L421.6,809.7 L421.37,809.91 L421.14,810.11 L420.92,810.32 L420.69,810.53 L420.46,810.73 L420.24,810.94 L420.01,811.15 L419.78,811.35 L419.56,811.56 L419.33,811.77 L419.1,811.97 L418.88,812.18 L418.65,812.39 L418.42,812.59 L418.2,812.8 L417.97,813.01 L417.74,813.22 L417.52,813.42 L417.29,813.63 L417.07,813.84 L416.84,814.04 L416.61,814.25 L416.39,814.46 L416.16,814.66 L415.94,814.87 L415.71,815.08 L415.49,815.28 L415.26,815.49 L415.04,815.7 L414.81,815.91 L414.59,816.11 L414.36,816.32 L414.14,816.53 L413.91,816.73 L413.69,816.94 L413.47,817.15 L413.24,817.35 L413.02,817.56 L412.79,817.77 L412.57,817.97 L412.35,818.18 L412.12,818.39 L411.9,818.59 L411.68,818.8 L411.45,819.01 L411.23,819.22 L411.01,819.42 L410.78,819.63 L410.56,819.84 L410.34,820.04 L410.11,820.25 L409.89,820.46 L409.67,820.66 L409.45,820.87 L409.22,821.08 L409,821.28 L408.78,821.49 L408.56,821.7 L408.34,821.91 L408.11,822.11 L407.89,822.32 L407.67,822.53 L407.45,822.73 L407.23,822.94 L407.01,823.15 L406.79,823.35 L406.57,823.56 L406.34,823.77 L406.12,823.97 L405.9,824.18 L405.68,824.39 L405.46,824.6 L405.24,824.8 L405.02,825.01 L404.8,825.22 L404.58,825.42 L404.36,825.63 L404.14,825.84 L403.92,826.04 L403.7,826.25 L403.48,826.46 L403.26,826.66 L403.04,826.87 L402.82,827.08 L402.6,827.28 L402.39,827.49 L402.17,827.7 L401.95,827.91 L401.73,828.11 L401.51,828.32 L401.29,828.53 L401.07,828.73 L400.86,828.94 L400.64,829.15 L400.42,829.35 L400.2,829.56 L399.98,829.77 L399.77,829.97 L399.55,830.18 L399.33,830.39 L399.11,830.6 L398.88,830.82 L398.66,831.03 L398.43,831.25 L398.21,831.46 L397.98,831.68 L397.76,831.89 L397.53,832.1 L397.31,832.32 L397.09,832.53 L396.86,832.75 L396.64,832.96 L396.41,833.18 L396.19,833.39 L395.97,833.61 L395.74,833.82 L395.52,834.04 L395.3,834.25 L395.07,834.47 L394.85,834.68 L394.63,834.89 L394.41,835.11 L394.18,835.32 L393.96,835.54 L393.74,835.75 L393.52,835.97 L393.3,836.18 L393.07,836.4 L392.85,836.61 L392.63,836.83 L392.41,837.04 L392.19,837.25 L391.97,837.47 L391.75,837.68 L391.53,837.9 L391.3,838.11 L391.08,838.33 L390.86,838.54 L390.64,838.76 L390.42,838.97 L390.2,839.19 L389.98,839.4 L389.76,839.61 L389.54,839.83 L389.33,840.04 L389.11,840.26 L388.89,840.47 L388.67,840.69 L388.45,840.9 L388.23,841.12 L388.01,841.33 L387.79,841.55 L387.58,841.76 L387.36,841.97 L387.14,842.19 L386.92,842.4 L386.7,842.62 L386.49,842.83 L386.27,843.05 L386.05,843.26 L385.84,843.48 L385.62,843.69 L385.4,843.91 L385.19,844.12 L384.97,844.34 L384.75,844.55 L384.54,844.76 L384.32,844.98 L384.1,845.19 L383.89,845.41 L383.67,845.62 L383.46,845.84 L383.24,846.05 L383.03,846.27 L382.81,846.48 L382.6,846.7 L382.38,846.91 L382.17,847.12 L381.96,847.34 L381.74,847.55 L381.53,847.77 L381.31,847.98 L381.1,848.2 L380.89,848.41 L380.67,848.63 L380.46,848.84 L380.25,849.06 L380.03,849.27 L379.82,849.48 L379.61,849.7 L379.4,849.91 L379.19,850.13 L378.97,850.34 L378.76,850.56 L378.55,850.77 L378.34,850.99 L378.13,851.2 L377.92,851.42 L377.7,851.63 L377.49,851.84 L377.28,852.06 L377.07,852.27 L376.86,852.49 L376.65,852.7 L376.44,852.92 L376.23,853.13 L376.02,853.35 L375.8,853.58 L375.58,853.8 L375.37,854.02 L375.15,854.24 L374.93,854.47 L374.72,854.69 L374.5,854.91 L374.29,855.13 L374.07,855.35 L373.86,855.58 L373.64,855.8 L373.43,856.02 L373.21,856.24 L373,856.47 L372.78,856.69 L372.57,856.91 L372.35,857.13 L372.14,857.35 L371.93,857.58 L371.71,857.8 L371.5,858.02 L371.29,858.24 L371.07,858.47 L370.86,858.69 L370.65,858.91 L370.44,859.13 L370.23,859.35 L370.01,859.58 L369.8,859.8 L369.59,860.02 L369.38,860.24 L369.17,860.47 L368.96,860.69 L368.75,860.91 L368.54,861.13 L368.33,861.35 L368.12,861.58 L367.91,861.8 L367.7,862.02 L367.49,862.24 L367.28,862.47 L367.07,862.69 L366.86,862.91 L366.66,863.13 L366.45,863.35 L366.24,863.58 L366.03,863.8 L365.82,864.02 L365.62,864.24 L365.41,864.47 L365.2,864.69 L365,864.91 L364.79,865.13 L364.58,865.35 L364.38,865.58 L364.17,865.8 L363.97,866.02 L363.76,866.24 L363.56,866.47 L363.35,866.69 L363.15,866.91 L362.94,867.13 L362.74,867.35 L362.53,867.58 L362.33,867.8 L362.13,868.02 L361.92,868.24 L361.72,868.47 L361.52,868.69 L361.31,868.91 L361.11,869.13 L360.91,869.35 L360.71,869.58 L360.51,869.8 L360.3,870.03 L360.09,870.26 L359.88,870.49 L359.67,870.72 L359.47,870.95 L359.26,871.18 L359.05,871.41 L358.85,871.64 L358.64,871.87 L358.43,872.1 L358.23,872.33 L358.02,872.56 L357.82,872.79 L357.61,873.02 L357.41,873.25 L357.2,873.48 L357,873.71 L356.79,873.94 L356.59,874.17 L356.39,874.4 L356.18,874.63 L355.98,874.86 L355.78,875.09 L355.58,875.32 L355.37,875.55 L355.17,875.78 L354.97,876.01 L354.77,876.24 L354.57,876.47 L354.37,876.7 L354.17,876.93 L353.97,877.16 L353.77,877.39 L353.57,877.62 L353.37,877.85 L353.17,878.08 L352.97,878.31 L352.77,878.54 L352.57,878.77 L352.38,879 L352.18,879.22 L351.98,879.45 L351.78,879.68 L351.59,879.91 L351.39,880.14 L351.19,880.37 L351,880.6 L350.8,880.83 L350.61,881.06 L350.41,881.29 L350.22,881.52 L350.02,881.75 L349.83,881.98 L349.64,882.21 L349.44,882.44 L349.25,882.67 L349.06,882.9 L348.86,883.14 L348.66,883.38 L348.46,883.62 L348.26,883.85 L348.07,884.09 L347.87,884.33 L347.67,884.57 L347.47,884.8 L347.28,885.04 L347.08,885.28 L346.89,885.52 L346.69,885.75 L346.5,885.99 L346.3,886.23 L346.11,886.47 L345.91,886.7 L345.72,886.94 L345.53,887.18 L345.33,887.42 L345.14,887.65 L344.95,887.89 L344.76,888.13 L344.57,888.37 L344.37,888.6 L344.18,888.84 L343.99,889.08 L343.8,889.32 L343.61,889.55 L343.42,889.79 L343.24,890.03 L343.05,890.27 L342.86,890.51 L342.67,890.74 L342.48,890.98 L342.3,891.22 L342.11,891.46 L341.92,891.69 L341.74,891.93 L341.55,892.17 L341.37,892.41 L341.18,892.64 L341,892.88 L340.81,893.12 L340.63,893.36 L340.45,893.59 L340.26,893.84 L340.07,894.08 L339.88,894.33 L339.69,894.57 L339.51,894.82 L339.32,895.06 L339.13,895.31 L338.95,895.55 L338.76,895.8 L338.58,896.05 L338.39,896.29 L338.21,896.54 L338.03,896.78 L337.84,897.03 L337.66,897.27 L337.48,897.52 L337.3,897.76 L337.11,898.01 L336.93,898.25 L336.75,898.5 L336.57,898.74 L336.39,898.99 L336.21,899.23 L336.04,899.48 L335.86,899.72 L335.68,899.97 L335.5,900.21 L335.32,900.46 L335.15,900.7 L334.97,900.95 L334.8,901.19 L334.62,901.44 L334.45,901.69 L334.27,901.93 L334.1,902.18 L333.93,902.42 L333.75,902.67 L333.57,902.93 L333.39,903.18 L333.22,903.43 L333.04,903.69 L332.87,903.94 L332.69,904.19 L332.52,904.44 L332.34,904.7 L332.17,904.95 L332,905.2 L331.82,905.46 L331.65,905.71 L331.48,905.96 L331.31,906.21 L331.14,906.47 L330.97,906.72 L330.8,906.97 L330.63,907.23 L330.47,907.48 L330.3,907.73 L330.13,907.98 L329.97,908.24 L329.8,908.49 L329.63,908.74 L329.47,909 L329.31,909.25 L329.14,909.5 L328.98,909.75 L328.82,910.01 L328.66,910.26 L328.49,910.52 L328.33,910.78 L328.16,911.04 L328,911.3 L327.83,911.56 L327.67,911.82 L327.51,912.08 L327.35,912.34 L327.19,912.61 L327.03,912.87 L326.87,913.13 L326.71,913.39 L326.55,913.65 L326.39,913.91 L326.23,914.17 L326.08,914.43 L325.92,914.69 L325.77,914.95 L325.61,915.21 L325.46,915.47 L325.31,915.73 L325.16,915.99 L325,916.25 L324.85,916.51 L324.7,916.77 L324.55,917.03 L324.4,917.3 L324.25,917.57 L324.1,917.84 L323.95,918.11 L323.8,918.38 L323.65,918.64 L323.5,918.91 L323.35,919.18 L323.21,919.45 L323.06,919.72 L322.91,919.98 L322.77,920.25 L322.63,920.52 L322.48,920.79 L322.34,921.06 L322.2,921.33 L322.06,921.59 L321.92,921.86 L321.78,922.13 L321.64,922.4 L321.51,922.67 L321.37,922.94 L321.23,923.2 L321.1,923.47 L320.96,923.75 L320.83,924.02 L320.69,924.3 L320.55,924.57 L320.42,924.85 L320.29,925.13 L320.16,925.4 L320.02,925.68 L319.89,925.95 L319.77,926.23 L319.64,926.51 L319.51,926.78 L319.38,927.06 L319.26,927.33 L319.13,927.61 L319.01,927.89 L318.89,928.16 L318.77,928.44 L318.65,928.71 L318.53,928.99 L318.41,929.26 L318.29,929.55 L318.17,929.83 L318.05,930.12 L317.93,930.4 L317.81,930.68 L317.7,930.97 L317.59,931.25 L317.47,931.53 L317.36,931.82 L317.25,932.1 L317.14,932.38 L317.03,932.67 L316.92,932.95 L316.82,933.23 L316.71,933.52 L316.61,933.8 L316.51,934.08 L316.41,934.37 L316.31,934.65 L316.21,934.94 L316.11,935.23 L316.01,935.52 L315.91,935.81 L315.81,936.1 L315.72,936.39 L315.62,936.68 L315.53,936.97 L315.44,937.26 L315.35,937.56 L315.26,937.85 L315.17,938.14 L315.09,938.43 L315,938.72 L314.92,939.01 L314.84,939.3 L314.76,939.59 L314.68,939.89 L314.6,940.18 L314.53,940.47 L314.45,940.76 L314.38,941.05 L314.31,941.35 L314.24,941.65 L314.17,941.95 L314.1,942.25 L314.03,942.54 L313.97,942.84 L313.9,943.14 L313.84,943.44 L313.78,943.74 L313.72,944.04 L313.66,944.34 L313.61,944.64 L313.56,944.94 L313.5,945.23 L313.45,945.53 L313.41,945.83 L313.36,946.13 L313.31,946.43 L313.27,946.73 L313.23,947.03 L313.19,947.33 L313.15,947.63 L313.12,947.92 L313.08,948.22 L313.05,948.52 L313.02,948.82 L313,949.12 L312.97,949.43 L312.94,949.73 L312.92,950.04 L312.9,950.35 L312.88,950.65 L312.87,950.96 L312.85,951.27 L312.84,951.57 L312.83,951.88 L312.82,952.18 L312.82,952.49 L312.82,952.8 L312.82,953.02" stroke="#ff0000" stroke-width="3.1" fill="none" stroke-linecap="round" stroke-dasharray="0 5.8"/>
<path d="M580.61,1012.71 L579.92,1012.69 L579.23,1012.68 L578.54,1012.66 L577.86,1012.65 L577.18,1012.63 L576.51,1012.62 L575.84,1012.61 L575.17,1012.59 L574.5,1012.58 L573.84,1012.56 L573.18,1012.55 L572.53,1012.53 L571.87,1012.52 L571.22,1012.51 L570.58,1012.49 L569.94,1012.48 L569.3,1012.46 L568.66,1012.45 L568.02,1012.43 L567.39,1012.42 L566.76,1012.4 L566.14,1012.39 L565.52,1012.38 L564.9,1012.36 L564.28,1012.35 L563.67,1012.33 L563.06,1012.32 L562.45,1012.3 L561.84,1012.29 L561.24,1012.28 L560.64,1012.26 L559.75,1012.24 L558.86,1012.22 L557.97,1012.2 L557.1,1012.18 L556.23,1012.15 L555.36,1012.13 L554.5,1012.11 L553.65,1012.09 L552.8,1012.07 L551.96,1012.05 L551.12,1012.02 L550.29,1012 L549.46,1011.98 L548.64,1011.96 L547.83,1011.94 L547.02,1011.92 L546.21,1011.9 L545.41,1011.87 L544.61,1011.85 L543.82,1011.83 L543.04,1011.81 L542.26,1011.79 L541.48,1011.77 L540.71,1011.74 L539.95,1011.72 L539.19,1011.7 L538.43,1011.68 L537.68,1011.66 L536.93,1011.64 L536.19,1011.62 L535.45,1011.59 L534.71,1011.57 L533.99,1011.55 L533.26,1011.53 L532.54,1011.51 L531.82,1011.49 L531.11,1011.46 L530.4,1011.44 L529.7,1011.42 L529,1011.4 L528.3,1011.38 L527.61,1011.36 L526.92,1011.34 L526.24,1011.31 L525.56,1011.29 L524.88,1011.27 L524.21,1011.25 L523.54,1011.23 L522.88,1011.21 L522.22,1011.18 L521.56,1011.16 L520.91,1011.14 L520.26,1011.12 L519.61,1011.1 L518.97,1011.08 L518.33,1011.06 L517.69,1011.03 L517.06,1011.01 L516.43,1010.99 L515.81,1010.97 L515.19,1010.95 L514.57,1010.93 L513.95,1010.9 L513.34,1010.88 L512.73,1010.86 L512.13,1010.84 L511.53,1010.82 L510.73,1010.79 L509.94,1010.76 L509.15,1010.73 L508.37,1010.7 L507.6,1010.68 L506.83,1010.65 L506.06,1010.62 L505.3,1010.59 L504.55,1010.56 L503.8,1010.53 L503.05,1010.5 L502.31,1010.47 L501.58,1010.45 L500.85,1010.42 L500.13,1010.39 L499.41,1010.36 L498.69,1010.33 L497.98,1010.3 L497.28,1010.27 L496.58,1010.24 L495.88,1010.22 L495.19,1010.19 L494.5,1010.16 L493.82,1010.13 L493.14,1010.1 L492.47,1010.07 L491.8,1010.04 L491.13,1010.01 L490.47,1009.99 L489.82,1009.96 L489.16,1009.93 L488.51,1009.9 L487.87,1009.87 L487.23,1009.84 L486.59,1009.81 L485.96,1009.79 L485.33,1009.76 L484.7,1009.73 L484.08,1009.7 L483.47,1009.67 L482.85,1009.64 L482.24,1009.61 L481.64,1009.58 L481.03,1009.56 L480.28,1009.52 L479.54,1009.48 L478.8,1009.45 L478.07,1009.41 L477.35,1009.38 L476.63,1009.34 L475.91,1009.3 L475.2,1009.27 L474.49,1009.23 L473.79,1009.2 L473.1,1009.16 L472.41,1009.12 L471.72,1009.09 L471.04,1009.05 L470.36,1009.02 L469.69,1008.98 L469.03,1008.95 L468.36,1008.91 L467.71,1008.87 L467.05,1008.84 L466.4,1008.8 L465.76,1008.77 L465.12,1008.73 L464.48,1008.69 L463.85,1008.66 L463.23,1008.62 L462.6,1008.59 L461.99,1008.55 L461.37,1008.51 L460.76,1008.48 L460.16,1008.44 L459.55,1008.41 L458.84,1008.36 L458.12,1008.32 L457.42,1008.28 L456.72,1008.23 L456.02,1008.19 L455.33,1008.15 L454.65,1008.11 L453.97,1008.06 L453.29,1008.02 L452.62,1007.98 L451.96,1007.93 L451.3,1007.89 L450.64,1007.85 L449.99,1007.8 L449.35,1007.76 L448.71,1007.72 L448.07,1007.67 L447.44,1007.63 L446.82,1007.59 L446.19,1007.55 L445.58,1007.5 L444.96,1007.46 L444.36,1007.42 L443.75,1007.37 L443.15,1007.33 L442.46,1007.28 L441.77,1007.23 L441.09,1007.18 L440.41,1007.13 L439.74,1007.08 L439.07,1007.03 L438.41,1006.98 L437.75,1006.93 L437.1,1006.88 L436.45,1006.83 L435.81,1006.78 L435.18,1006.73 L434.55,1006.68 L433.92,1006.63 L433.3,1006.58 L432.68,1006.53 L432.07,1006.48 L431.47,1006.43 L430.86,1006.38 L430.18,1006.32 L429.5,1006.26 L428.83,1006.2 L428.17,1006.15 L427.51,1006.09 L426.85,1006.03 L426.21,1005.97 L425.56,1005.92 L424.92,1005.86 L424.29,1005.8 L423.66,1005.74 L423.04,1005.69 L422.43,1005.63 L421.81,1005.57 L421.21,1005.51 L420.6,1005.46 L420.01,1005.4 L419.34,1005.33 L418.68,1005.27 L418.03,1005.21 L417.38,1005.14 L416.73,1005.08 L416.1,1005.01 L415.46,1004.95 L414.84,1004.88 L414.22,1004.82 L413.6,1004.75 L412.99,1004.69 L412.39,1004.62 L411.79,1004.56 L411.13,1004.49 L410.47,1004.42 L409.82,1004.34 L409.18,1004.27 L408.54,1004.2 L407.91,1004.13 L407.29,1004.06 L406.67,1003.99 L406.06,1003.91 L405.45,1003.84 L404.84,1003.77 L404.25,1003.7 L403.6,1003.62 L402.95,1003.54 L402.31,1003.46 L401.68,1003.38 L401.06,1003.3 L400.44,1003.22 L399.82,1003.15 L399.21,1003.07 L398.61,1002.99 L398.01,1002.91 L397.37,1002.82 L396.73,1002.74 L396.1,1002.65 L395.47,1002.56 L394.85,1002.48 L394.24,1002.39 L393.63,1002.31 L393.03,1002.22 L392.43,1002.13 L391.79,1002.04 L391.16,1001.95 L390.53,1001.85 L389.91,1001.76 L389.3,1001.67 L388.69,1001.57 L388.09,1001.48 L387.5,1001.39 L386.87,1001.29 L386.24,1001.19 L385.62,1001.09 L385.01,1000.99 L384.4,1000.88 L383.8,1000.78 L383.2,1000.68 L382.57,1000.58 L381.95,1000.47 L381.34,1000.36 L380.73,1000.25 L380.12,1000.15 L379.53,1000.04 L378.9,999.92 L378.28,999.81 L377.66,999.69 L377.06,999.58 L376.46,999.46 L375.86,999.35 L375.24,999.23 L374.63,999.1 L374.02,998.98 L373.42,998.86 L372.82,998.74 L372.2,998.61 L371.59,998.48 L370.98,998.35 L370.38,998.22 L369.79,998.09 L369.17,997.96 L368.56,997.82 L367.96,997.68 L367.36,997.55 L366.78,997.41 L366.17,997.27 L365.56,997.12 L364.97,996.98 L364.38,996.84 L363.77,996.69 L363.17,996.54 L362.58,996.38 L362,996.23 L361.39,996.08 L360.8,995.92 L360.21,995.76 L359.63,995.6 L359.03,995.44 L358.44,995.27 L357.86,995.11 L357.26,994.93 L356.67,994.76 L356.09,994.59 L355.49,994.41 L354.91,994.23 L354.33,994.05 L353.73,993.87 L353.15,993.68 L352.57,993.49 L351.98,993.3 L351.4,993.1 L350.83,992.91 L350.25,992.71 L349.67,992.51 L349.09,992.3 L348.51,992.09 L347.95,991.88 L347.37,991.67 L346.81,991.45 L346.23,991.23 L345.66,991.01 L345.09,990.78 L344.53,990.55 L343.97,990.32 L343.41,990.08 L342.86,989.85 L342.3,989.6 L341.75,989.36 L341.2,989.11 L340.64,988.85 L340.09,988.59 L339.53,988.32 L338.99,988.06 L338.44,987.79 L337.91,987.51 L337.37,987.23 L336.83,986.95 L336.3,986.66 L335.77,986.36 L335.23,986.06 L334.71,985.76 L334.19,985.45 L333.66,985.14 L333.15,984.82 L332.64,984.5 L332.13,984.17 L331.62,983.83 L331.12,983.49 L330.62,983.15 L330.13,982.8 L329.64,982.44 L329.15,982.07 L328.68,981.71 L328.2,981.33 L327.73,980.95 L327.27,980.57 L326.81,980.17 L326.36,979.77 L325.91,979.36 L325.46,978.94 L325.02,978.52 L324.59,978.09 L324.17,977.65 L323.76,977.21 L323.35,976.77 L322.96,976.32 L322.57,975.86 L322.19,975.39 L321.82,974.92 L321.45,974.44 L321.1,973.95 L320.75,973.45 L320.41,972.95 L320.08,972.44 L319.76,971.92 L319.46,971.4 L319.16,970.88 L318.88,970.34 L318.6,969.81 L318.34,969.26 L318.09,968.71 L317.85,968.16 L317.62,967.6 L317.4,967.03 L317.2,966.46 L317.01,965.89 L316.83,965.31 L316.66,964.73 L316.5,964.15 L316.36,963.56 L316.23,962.97 L316.11,962.38 L316,961.79 L315.9,961.19 L315.82,960.6 L315.75,960 L315.69,959.4 L315.63,958.8 L315.6,958.19 L315.57,957.59 L315.55,956.99 L315.54,956.38 L315.54,956.27" stroke="#0000ff" stroke-width="3.2" fill="none" stroke-linejoin="round" stroke-linecap="round"/>
<path d="M91.8,984.17 L98.4,984.12 L101.13,984.08 L103.23,984.04 L104.99,984 L106.54,983.95 L107.93,983.91 L109.22,983.87 L110.41,983.82 L111.53,983.78 L112.59,983.74 L113.59,983.69 L114.55,983.65 L115.46,983.61 L116.35,983.56 L117.19,983.52 L118.01,983.48 L118.81,983.44 L119.58,983.39 L120.32,983.35 L121.05,983.31 L121.76,983.26 L122.45,983.22 L123.12,983.18 L123.78,983.13 L124.42,983.09 L125.05,983.05 L125.67,983.01 L126.27,982.96 L127.45,982.88 L128.58,982.79 L129.67,982.7 L130.74,982.62 L131.76,982.53 L132.76,982.45 L133.73,982.36 L134.68,982.27 L135.6,982.19 L136.5,982.1 L137.38,982.02 L138.24,981.93 L139.08,981.84 L139.9,981.76 L140.71,981.67 L141.5,981.58 L142.27,981.5 L143.03,981.41 L143.78,981.33 L144.51,981.24 L145.23,981.15 L145.94,981.07 L146.64,980.98 L147.32,980.9 L148,980.81 L148.66,980.72 L149.32,980.64 L149.96,980.55 L150.6,980.47 L151.22,980.38 L151.84,980.29 L152.45,980.21 L153.05,980.12 L153.65,980.03 L154.52,979.91 L155.39,979.78 L156.23,979.65 L157.06,979.52 L157.88,979.39 L158.68,979.26 L159.47,979.13 L160.24,979 L161,978.87 L161.76,978.74 L162.5,978.61 L163.22,978.48 L163.94,978.36 L164.65,978.23 L165.35,978.1 L166.04,977.97 L166.72,977.84 L167.38,977.71 L168.05,977.58 L168.7,977.45 L169.34,977.32 L169.98,977.19 L170.61,977.06 L171.23,976.94 L171.84,976.81 L172.45,976.68 L173.05,976.55 L173.64,976.42 L174.42,976.25 L175.18,976.07 L175.94,975.9 L176.69,975.73 L177.42,975.56 L178.15,975.39 L178.86,975.21 L179.57,975.04 L180.27,974.87 L180.95,974.7 L181.63,974.52 L182.3,974.35 L182.97,974.18 L183.62,974.01 L184.27,973.84 L184.91,973.66 L185.54,973.49 L186.16,973.32 L186.78,973.15 L187.39,972.97 L188,972.8 L188.6,972.63 L189.19,972.46 L189.77,972.29 L190.35,972.11 L191.07,971.9 L191.78,971.68 L192.47,971.47 L193.16,971.25 L193.85,971.04 L194.52,970.82 L195.19,970.61 L195.85,970.39 L196.5,970.18 L197.14,969.96 L197.78,969.75 L198.41,969.53 L199.03,969.32 L199.65,969.1 L200.26,968.88 L200.87,968.67 L201.47,968.45 L202.06,968.24 L202.65,968.02 L203.23,967.81 L203.81,967.59 L204.38,967.38 L204.94,967.16 L205.51,966.95 L206.17,966.69 L206.83,966.43 L207.49,966.17 L208.13,965.91 L208.77,965.66 L209.41,965.4 L210.03,965.14 L210.66,964.88 L211.27,964.62 L211.88,964.36 L212.49,964.11 L213.09,963.85 L213.68,963.59 L214.27,963.33 L214.86,963.07 L215.44,962.81 L216.01,962.56 L216.58,962.3 L217.15,962.04 L217.71,961.78 L218.26,961.52 L218.82,961.26 L219.36,961.01 L219.91,960.75 L220.54,960.45 L221.16,960.15 L221.78,959.84 L222.4,959.54 L223.01,959.24 L223.61,958.94 L224.21,958.64 L224.81,958.34 L225.4,958.04 L225.99,957.73 L226.57,957.43 L227.15,957.13 L227.73,956.83 L228.3,956.53 L228.86,956.23 L229.43,955.93 L229.99,955.63 L230.54,955.32 L231.1,955.02 L231.65,954.72 L232.19,954.42 L232.74,954.12 L233.28,953.82 L233.81,953.52 L234.35,953.21 L234.88,952.91 L235.41,952.61 L235.93,952.31 L236.45,952.01 L236.97,951.71 L237.56,951.36 L238.15,951.02 L238.73,950.67 L239.31,950.33 L239.89,949.99 L240.47,949.64 L241.04,949.3 L241.61,948.95 L242.17,948.61 L242.73,948.26 L243.29,947.92 L243.85,947.57 L244.41,947.23 L244.96,946.89 L245.51,946.54 L246.06,946.2 L246.6,945.85 L247.14,945.51 L247.69,945.16 L248.22,944.82 L248.76,944.47 L249.29,944.13 L249.83,943.79 L250.36,943.44 L250.88,943.1 L251.41,942.75 L251.93,942.41 L252.46,942.06 L252.98,941.72 L253.5,941.38 L254.01,941.03 L254.53,940.69 L255.04,940.34 L255.56,940 L256.07,939.65 L256.58,939.31 L257.08,938.96 L257.59,938.62 L258.09,938.28 L258.6,937.93 L259.1,937.59 L259.6,937.24 L260.1,936.9 L260.6,936.55 L261.09,936.21 L261.59,935.86 L262.08,935.52 L262.58,935.18 L263.07,934.83 L263.62,934.44 L264.17,934.06 L264.72,933.67 L265.27,933.28 L265.82,932.89 L266.36,932.51 L266.91,932.12 L267.45,931.73 L267.99,931.34 L268.53,930.96 L269.07,930.57 L269.61,930.18 L270.15,929.79 L270.68,929.41 L271.22,929.02 L271.75,928.63 L272.29,928.24 L272.82,927.86 L273.35,927.47 L273.88,927.08 L274.41,926.7 L274.94,926.31 L275.47,925.92 L276,925.53 L276.52,925.15 L277.05,924.76 L277.57,924.37 L278.1,923.98 L278.62,923.6 L279.15,923.21 L279.67,922.82 L280.19,922.43 L280.71,922.05 L281.23,921.66 L281.75,921.27 L282.27,920.88 L282.79,920.5 L283.31,920.11 L283.82,919.72 L284.34,919.33 L284.86,918.95 L285.37,918.56 L285.89,918.17 L286.4,917.78 L286.92,917.4 L287.43,917.01 L287.94,916.62 L288.46,916.23 L288.97,915.85 L289.48,915.46 L289.99,915.07 L290.5,914.68 L291.01,914.3 L291.52,913.91 L292.03,913.52 L292.54,913.13 L293.05,912.75 L293.56,912.36 L294.07,911.97 L294.58,911.58 L295.09,911.2 L295.6,910.81 L296.1,910.42 L296.61,910.03 L297.12,909.65 L297.62,909.26 L298.13,908.87 L298.64,908.48 L299.14,908.1 L299.65,907.71 L300.15,907.32 L300.66,906.93 L301.16,906.55 L301.67,906.16 L302.17,905.77 L302.68,905.39 L303.18,905 L303.69,904.61 L304.19,904.22 L304.69,903.84 L305.2,903.45 L305.7,903.06 L306.2,902.67 L306.71,902.29 L307.21,901.9 L307.71,901.51 L308.22,901.12 L308.72,900.74 L309.22,900.35 L309.72,899.96 L310.23,899.57 L310.73,899.19 L311.23,898.8 L311.73,898.41 L312.23,898.02 L312.74,897.64 L313.24,897.25 L313.74,896.86 L314.24,896.47 L314.74,896.09 L315.24,895.7 L315.74,895.31 L316.25,894.92 L316.75,894.54 L317.25,894.15 L317.75,893.76 L318.25,893.37 L318.75,892.99 L319.25,892.6 L319.75,892.21 L320.25,891.82 L320.76,891.44 L321.26,891.05 L321.76,890.66 L322.26,890.27 L322.76,889.89 L323.26,889.5 L323.76,889.11 L324.26,888.72 L324.76,888.34 L325.26,887.95 L325.76,887.56 L326.27,887.17 L326.77,886.79 L327.27,886.4 L327.77,886.01 L328.27,885.62 L328.77,885.24 L329.27,884.85 L329.77,884.46 L330.27,884.08 L330.77,883.69 L331.27,883.3 L331.78,882.91 L332.28,882.53 L332.78,882.14 L333.28,881.75 L333.78,881.36 L334.28,880.98 L334.78,880.59 L335.28,880.2 L335.79,879.81 L336.29,879.43 L336.79,879.04 L337.29,878.65 L337.79,878.26 L338.29,877.88 L338.79,877.49 L339.3,877.1 L339.8,876.71 L340.3,876.33 L340.8,875.94 L341.3,875.55 L341.81,875.16 L342.31,874.78 L342.81,874.39 L343.31,874 L343.81,873.61 L344.32,873.23 L344.82,872.84 L345.32,872.45 L345.82,872.06 L346.33,871.68 L346.83,871.29 L347.33,870.9 L347.83,870.51 L348.34,870.13 L348.84,869.74 L349.34,869.35 L349.85,868.96 L350.35,868.58 L350.85,868.19 L351.36,867.8 L351.86,867.41 L352.36,867.03 L352.87,866.64 L353.37,866.25 L353.87,865.86 L354.38,865.48 L354.88,865.09 L355.39,864.7 L355.89,864.31 L356.39,863.93 L356.9,863.54 L357.4,863.15 L357.91,862.77 L358.41,862.38 L358.92,861.99 L359.42,861.6 L359.93,861.22 L360.43,860.83 L360.94,860.44 L361.44,860.05 L361.95,859.67 L362.45,859.28 L362.96,858.89 L363.46,858.5 L363.97,858.12 L364.47,857.73 L364.98,857.34 L365.49,856.95 L365.99,856.57 L366.5,856.18 L367.01,855.79 L367.51,855.4 L368.02,855.02 L368.52,854.63 L369.03,854.24 L369.54,853.85 L370.04,853.47 L370.55,853.08 L371.06,852.69 L371.57,852.3 L372.07,851.92 L372.58,851.53 L373.09,851.14 L373.6,850.75 L374.1,850.37 L374.61,849.98 L375.12,849.59 L375.63,849.2 L376.13,848.82 L376.64,848.43 L377.15,848.04 L377.66,847.65 L378.17,847.27 L378.68,846.88 L379.18,846.49 L379.69,846.1 L380.2,845.72 L380.71,845.33 L381.22,844.94 L381.73,844.55 L382.24,844.17 L382.75,843.78 L383.26,843.39 L383.77,843 L384.28,842.62 L384.79,842.23 L385.3,841.84 L385.81,841.46 L386.32,841.07 L386.83,840.68 L387.34,840.29 L387.85,839.91 L388.36,839.52 L388.87,839.13 L389.38,838.74 L389.89,838.36 L390.4,837.97 L390.91,837.58 L391.43,837.19 L391.94,836.81 L392.45,836.42 L392.96,836.03 L393.47,835.64 L393.98,835.26 L394.49,834.87 L395.01,834.48 L395.52,834.09 L396.03,833.71 L396.54,833.32 L397.06,832.93 L397.57,832.54 L398.08,832.16 L398.59,831.77 L399.11,831.38 L399.62,830.99 L400.13,830.61 L400.65,830.22 L401.16,829.83 L401.67,829.44 L402.19,829.06 L402.7,828.67 L403.21,828.28 L403.73,827.89 L404.24,827.51 L404.75,827.12 L405.27,826.73 L405.78,826.34 L406.3,825.96 L406.81,825.57 L407.33,825.18 L407.84,824.79 L408.36,824.41 L408.87,824.02 L409.39,823.63 L409.9,823.24 L410.42,822.86 L410.93,822.47 L411.45,822.08 L411.96,821.69 L412.48,821.31 L412.99,820.92 L413.51,820.53 L414.02,820.15 L414.54,819.76 L415.06,819.37 L415.57,818.98 L416.09,818.6 L416.61,818.21 L417.12,817.82 L417.64,817.43 L418.15,817.05 L418.67,816.66 L419.19,816.27 L419.71,815.88 L420.22,815.5 L420.74,815.11 L421.26,814.72 L421.77,814.33 L422.29,813.95 L422.81,813.56 L423.33,813.17 L423.85,812.78 L424.36,812.4 L424.88,812.01 L425.4,811.62 L425.92,811.23 L426.44,810.85 L426.95,810.46 L427.47,810.07 L427.99,809.68 L428.51,809.3 L429.03,808.91 L429.55,808.52 L430.07,808.13 L430.59,807.75 L431.1,807.36 L431.62,806.97 L432.14,806.58 L432.66,806.2 L433.18,805.81 L433.7,805.42 L434.22,805.03 L434.74,804.65 L435.26,804.26 L435.78,803.87 L436.3,803.48 L436.82,803.1 L437.34,802.71 L437.86,802.32 L438.38,801.93 L438.9,801.55 L439.42,801.16 L439.95,800.77 L440.47,800.38 L440.99,800 L441.51,799.61 L442.03,799.22 L442.55,798.84 L443.07,798.45 L443.59,798.06 L444.12,797.67 L444.64,797.29 L445.16,796.9 L445.68,796.51 L446.2,796.12 L446.72,795.74 L447.25,795.35 L447.77,794.96 L448.29,794.57 L448.81,794.19 L449.34,793.8 L449.86,793.41 L450.38,793.02 L450.9,792.64 L451.43,792.25 L451.95,791.86 L452.47,791.47 L453,791.09 L453.52,790.7 L454.04,790.31 L454.57,789.92 L455.09,789.54 L455.61,789.15 L456.14,788.76 L456.66,788.37 L457.18,787.99 L457.71,787.6 L458.23,787.21 L458.76,786.82 L459.28,786.44 L459.8,786.05 L460.33,785.66 L460.85,785.27 L461.38,784.89 L461.9,784.5 L462.43,784.11 L462.95,783.72 L463.48,783.34 L464,782.95 L464.53,782.56 L465.05,782.17 L465.58,781.79 L466.1,781.4 L466.63,781.01 L467.15,780.62 L467.68,780.24 L468.2,779.85 L468.73,779.46 L469.25,779.07 L469.78,778.69 L470.31,778.3 L470.83,777.91 L471.36,777.52 L471.88,777.14 L472.41,776.75 L472.94,776.36 L473.46,775.98 L473.99,775.59 L474.52,775.2 L475.04,774.81 L475.57,774.43 L476.1,774.04 L476.62,773.65 L477.15,773.26 L477.68,772.88 L478.21,772.49 L478.73,772.1 L479.26,771.71 L479.79,771.33 L480.31,770.94 L480.84,770.55 L481.37,770.16 L481.9,769.78 L482.43,769.39 L482.95,769 L483.48,768.61 L484.01,768.23 L484.54,767.84 L485.07,767.45 L485.59,767.06 L486.12,766.68 L486.65,766.29 L487.18,765.9 L487.71,765.51 L488.24,765.13 L488.76,764.74 L489.29,764.35 L489.82,763.96 L490.35,763.58 L490.88,763.19 L491.41,762.8 L491.94,762.41 L492.47,762.03 L493,761.64 L493.53,761.25 L494.06,760.86 L494.59,760.48 L495.11,760.09 L495.64,759.7 L496.17,759.31 L496.7,758.93 L497.23,758.54 L497.76,758.15 L498.29,757.76 L498.82,757.38 L499.35,756.99 L499.88,756.6 L500.41,756.21 L500.95,755.83 L501.48,755.44 L502.01,755.05 L502.54,754.67 L503.07,754.28 L503.6,753.89 L504.13,753.5 L504.66,753.12 L505.19,752.73 L505.72,752.34 L506.25,751.95 L506.78,751.57 L507.32,751.18 L507.85,750.79 L508.38,750.4 L508.91,750.02 L509.44,749.63 L509.97,749.24 L510.5,748.85 L511.04,748.47 L511.57,748.08 L512.1,747.69 L512.63,747.3 L513.16,746.92 L513.7,746.53 L514.23,746.14 L514.76,745.75 L515.29,745.37 L515.82,744.98 L516.36,744.59 L516.89,744.2 L517.42,743.82 L517.95,743.43 L518.49,743.04 L519.02,742.65 L519.55,742.27 L520.09,741.88 L520.62,741.49 L521.15,741.1 L521.68,740.72 L522.22,740.33 L522.75,739.94 L523.28,739.55 L523.82,739.17 L524.35,738.78 L524.88,738.39 L525.42,738 L525.95,737.62 L526.48,737.23 L527.02,736.84 L527.55,736.45 L528.09,736.07 L528.62,735.68 L529.15,735.29 L529.69,734.9 L530.22,734.52 L530.76,734.13 L531.29,733.74 L531.82,733.36 L532.36,732.97 L532.89,732.58 L533.43,732.19 L533.96,731.81 L534.5,731.42 L535.03,731.03 L535.57,730.64 L536.1,730.26 L536.64,729.87 L537.17,729.48 L537.71,729.09 L538.24,728.71 L538.78,728.32 L539.31,727.93 L539.85,727.54 L540.38,727.16 L540.92,726.77 L541.45,726.38 L541.99,725.99 L545.39,728.31" stroke="#0000ff" stroke-width="3.2" fill="none" stroke-linejoin="round" stroke-linecap="round"/>
<path d="M545.39,728.31 L545.14,728.5 L544.9,728.69 L544.65,728.87 L544.4,729.06 L544.15,729.25 L543.9,729.43 L543.66,729.62 L543.41,729.81 L543.16,729.99 L542.91,730.18 L542.67,730.37 L542.42,730.55 L542.17,730.74 L541.92,730.93 L541.68,731.11 L541.43,731.3 L541.18,731.49 L540.93,731.67 L540.69,731.86 L540.44,732.04 L540.19,732.23 L539.94,732.42 L539.7,732.6 L539.45,732.79 L539.2,732.98 L538.96,733.16 L538.71,733.35 L538.46,733.54 L538.21,733.72 L537.97,733.91 L537.72,734.1 L537.47,734.28 L537.23,734.47 L536.98,734.66 L536.73,734.84 L536.49,735.03 L536.24,735.22 L535.99,735.4 L535.75,735.59 L535.5,735.78 L535.25,735.96 L535.01,736.15 L534.76,736.34 L534.51,736.52 L534.27,736.71 L534.02,736.9 L533.77,737.08 L533.53,737.27 L533.28,737.46 L533.03,737.64 L532.79,737.83 L532.54,738.02 L532.29,738.2 L532.05,738.39 L531.8,738.58 L531.56,738.76 L531.31,738.95 L531.06,739.14 L530.82,739.32 L530.57,739.51 L530.33,739.7 L530.08,739.88 L529.83,740.07 L529.59,740.26 L529.34,740.44 L529.1,740.63 L528.85,740.82 L528.6,741 L528.36,741.19 L528.11,741.38 L527.87,741.56 L527.62,741.75 L527.38,741.94 L527.13,742.12 L526.88,742.31 L526.64,742.5 L526.39,742.68 L526.15,742.87 L525.9,743.06 L525.66,743.24 L525.41,743.43 L525.17,743.62 L524.92,743.8 L524.67,743.99 L524.43,744.17 L524.18,744.36 L523.94,744.55 L523.69,744.73 L523.45,744.92 L523.2,745.11 L522.96,745.29 L522.71,745.48 L522.47,745.67 L522.22,745.85 L521.98,746.04 L521.73,746.23 L521.49,746.41 L521.24,746.6 L521,746.79 L520.75,746.97 L520.51,747.16 L520.27,747.35 L520.02,747.53 L519.78,747.72 L519.53,747.91 L519.29,748.09 L519.04,748.28 L518.8,748.47 L518.55,748.65 L518.31,748.84 L518.06,749.03 L517.82,749.21 L517.58,749.4 L517.33,749.59 L517.09,749.77 L516.84,749.96 L516.6,750.15 L516.36,750.33 L516.11,750.52 L515.87,750.71 L515.62,750.89 L515.38,751.08 L515.14,751.27 L514.89,751.45 L514.65,751.64 L514.4,751.83 L514.16,752.01 L513.92,752.2 L513.67,752.39 L513.43,752.57 L513.19,752.76 L512.94,752.95 L512.7,753.13 L512.45,753.32 L512.21,753.51 L511.97,753.69 L511.72,753.88 L511.48,754.07 L511.24,754.25 L510.99,754.44 L510.75,754.63 L510.51,754.81 L510.26,755 L510.02,755.19 L509.78,755.37 L509.53,755.56 L509.29,755.75 L509.05,755.93 L508.81,756.12 L508.56,756.3 L508.32,756.49 L508.08,756.68 L507.83,756.86 L507.59,757.05 L507.35,757.24 L507.11,757.42 L506.86,757.61 L506.62,757.8 L506.38,757.98 L506.14,758.17 L505.89,758.36 L505.65,758.54 L505.41,758.73 L505.17,758.92 L504.92,759.1 L504.68,759.29 L504.44,759.48 L504.2,759.66 L503.95,759.85 L503.71,760.04 L503.47,760.22 L503.23,760.41 L502.99,760.6 L502.74,760.78 L502.5,760.97 L502.26,761.16 L502.02,761.34 L501.78,761.53 L501.54,761.72 L501.29,761.9 L501.05,762.09 L500.81,762.28 L500.57,762.46 L500.33,762.65 L500.09,762.84 L499.84,763.02 L499.6,763.21 L499.36,763.4 L499.12,763.58 L498.88,763.77 L498.64,763.96 L498.4,764.14 L498.15,764.33 L497.91,764.52 L497.67,764.7 L497.43,764.89 L497.19,765.08 L496.95,765.26 L496.71,765.45 L496.47,765.64 L496.23,765.82 L495.99,766.01 L495.74,766.2 L495.5,766.38 L495.26,766.57 L495.02,766.76 L494.78,766.94 L494.54,767.13 L494.3,767.32 L494.06,767.5 L493.82,767.69 L493.58,767.88 L493.34,768.06 L493.1,768.25 L492.86,768.43 L492.62,768.62 L492.38,768.81 L492.14,768.99 L491.9,769.18 L491.66,769.37 L491.42,769.55 L491.18,769.74 L490.94,769.93 L490.7,770.11 L490.46,770.3 L490.22,770.49 L489.98,770.67 L489.74,770.86 L489.5,771.05 L489.26,771.23 L489.02,771.42 L488.78,771.61 L488.54,771.79 L488.3,771.98 L488.06,772.17 L487.82,772.35 L487.58,772.54 L487.35,772.73 L487.11,772.91 L486.87,773.1 L486.63,773.29 L486.39,773.47 L486.15,773.66 L485.91,773.85 L485.67,774.03 L485.43,774.22 L485.19,774.41 L484.96,774.59 L484.72,774.78 L484.48,774.97 L484.24,775.15 L484,775.34 L483.76,775.53 L483.52,775.71 L483.29,775.9 L483.05,776.09 L482.81,776.27 L482.57,776.46 L482.33,776.65 L482.09,776.83 L481.86,777.02 L481.62,777.21 L481.38,777.39 L481.14,777.58 L480.9,777.77 L480.67,777.95 L480.43,778.14 L480.19,778.33 L479.95,778.51 L479.71,778.7 L479.48,778.89 L479.24,779.07 L479,779.26 L478.76,779.45 L478.53,779.63 L478.29,779.82 L478.05,780 L477.81,780.19 L477.58,780.38 L477.34,780.56 L477.1,780.75 L476.87,780.94 L476.63,781.12 L476.39,781.31 L476.16,781.5 L475.92,781.68 L475.68,781.87 L475.44,782.06 L475.21,782.24 L474.97,782.43 L474.73,782.62 L474.5,782.8 L474.26,782.99 L474.02,783.18 L473.79,783.36 L473.55,783.55 L473.32,783.74 L473.08,783.92 L472.84,784.11 L472.61,784.3 L472.37,784.48 L472.13,784.67 L471.9,784.86 L471.66,785.04 L471.43,785.23 L471.19,785.42 L470.96,785.6 L470.72,785.79 L470.48,785.98 L470.25,786.16 L470.01,786.35 L469.78,786.54 L469.54,786.72 L469.31,786.91 L469.07,787.1 L468.84,787.28 L468.6,787.47 L468.37,787.66 L468.13,787.84 L467.89,788.03 L467.66,788.22 L467.42,788.4 L467.19,788.59 L466.95,788.78 L466.7,788.98 L466.46,789.17 L466.21,789.36 L465.97,789.56 L465.73,789.75 L465.48,789.95 L465.24,790.14 L465,790.33 L464.75,790.53 L464.51,790.72 L464.27,790.91 L464.02,791.11 L463.78,791.3 L463.54,791.5 L463.29,791.69 L463.05,791.88 L462.81,792.08 L462.57,792.27 L462.32,792.47 L462.08,792.66 L461.84,792.85 L461.6,793.05 L461.35,793.24 L461.11,793.43 L460.87,793.63 L460.63,793.82 L460.38,794.02 L460.14,794.21 L459.9,794.4 L459.66,794.6 L459.42,794.79 L459.17,794.98 L458.93,795.18 L458.69,795.37 L458.45,795.57 L458.21,795.76 L457.96,795.95 L457.72,796.15 L457.48,796.34 L457.24,796.53 L457,796.73 L456.76,796.92 L456.52,797.12 L456.28,797.31 L456.03,797.5 L455.79,797.7 L455.55,797.89 L455.31,798.09 L455.07,798.28 L454.83,798.47 L454.59,798.67 L454.35,798.86 L454.11,799.05 L453.87,799.25 L453.63,799.44 L453.39,799.64 L453.15,799.83 L452.91,800.02 L452.67,800.22 L452.43,800.41 L452.19,800.6 L451.95,800.8 L451.71,800.99 L451.47,801.19 L451.23,801.38 L450.99,801.57 L450.75,801.77 L450.51,801.96 L450.27,802.15 L450.03,802.35 L449.79,802.54 L449.55,802.74 L449.31,802.93 L449.07,803.12 L448.83,803.32 L448.6,803.51 L448.36,803.71 L448.12,803.9 L447.88,804.09 L447.64,804.29 L447.4,804.48 L447.16,804.67 L446.92,804.87 L446.69,805.06 L446.45,805.26 L446.21,805.45 L445.97,805.64 L445.73,805.84 L445.5,806.03 L445.26,806.22 L445.02,806.42 L444.78,806.61 L444.54,806.81 L444.31,807 L444.07,807.19 L443.83,807.39 L443.59,807.58 L443.36,807.77 L443.12,807.97 L442.88,808.16 L442.65,808.36 L442.41,808.55 L442.17,808.74 L441.93,808.94 L441.7,809.13 L441.46,809.32 L441.22,809.52 L440.99,809.71 L440.75,809.91 L440.52,810.1 L440.28,810.29 L440.04,810.49 L439.81,810.68 L439.57,810.88 L439.33,811.07 L439.1,811.26 L438.86,811.46 L438.63,811.65 L438.39,811.84 L438.16,812.04 L437.92,812.23 L437.68,812.43 L437.45,812.62 L437.21,812.81 L436.98,813.01 L436.74,813.2 L436.51,813.39 L436.27,813.59 L436.04,813.78 L435.8,813.98 L435.57,814.17 L435.34,814.36 L435.1,814.56 L434.87,814.75 L434.63,814.94 L434.4,815.14 L434.16,815.33 L433.93,815.53 L433.69,815.72 L433.46,815.91 L433.23,816.11 L432.99,816.3 L432.76,816.5 L432.53,816.69 L432.29,816.88 L432.06,817.08 L431.83,817.27 L431.59,817.46 L431.36,817.66 L431.13,817.85 L430.89,818.05 L430.66,818.24 L430.43,818.43 L430.19,818.63 L429.96,818.82 L429.73,819.01 L429.5,819.21 L429.26,819.4 L429.03,819.6 L428.8,819.79 L428.57,819.98 L428.34,820.18 L428.1,820.37 L427.87,820.56 L427.64,820.76 L427.41,820.95 L427.18,821.15 L426.94,821.34 L426.71,821.53 L426.48,821.73 L426.25,821.92 L426.02,822.12 L425.79,822.31 L425.56,822.5 L425.33,822.7 L425.1,822.89 L424.87,823.08 L424.63,823.28 L424.4,823.47 L424.17,823.67 L423.94,823.86 L423.71,824.05 L423.48,824.25 L423.25,824.44 L423.02,824.63 L422.79,824.83 L422.56,825.02 L422.33,825.22 L422.1,825.41 L421.87,825.6 L421.64,825.8 L421.42,825.99 L421.19,826.18 L420.96,826.38 L420.73,826.57 L420.49,826.77 L420.25,826.97 L420.02,827.18 L419.78,827.38 L419.54,827.58 L419.31,827.78 L419.07,827.98 L418.83,828.18 L418.6,828.38 L418.36,828.58 L418.12,828.78 L417.89,828.98 L417.65,829.19 L417.41,829.39 L417.18,829.59 L416.94,829.79 L416.71,829.99 L416.47,830.19 L416.24,830.39 L416,830.59 L415.77,830.79 L415.53,830.99 L415.3,831.19 L415.06,831.4 L414.83,831.6 L414.59,831.8 L414.36,832 L414.12,832.2 L413.89,832.4 L413.65,832.6 L413.42,832.8 L413.18,833 L412.95,833.2 L412.72,833.41 L412.48,833.61 L412.25,833.81 L412.02,834.01 L411.78,834.21 L411.55,834.41 L411.32,834.61 L411.08,834.81 L410.85,835.01 L410.62,835.21 L410.39,835.42 L410.15,835.62 L409.92,835.82 L409.69,836.02 L409.46,836.22 L409.22,836.42 L408.99,836.62 L408.76,836.82 L408.53,837.02 L408.3,837.22 L408.07,837.42 L407.83,837.63 L407.6,837.83 L407.37,838.03 L407.14,838.23 L406.91,838.43 L406.68,838.63 L406.45,838.83 L406.22,839.03 L405.99,839.23 L405.76,839.43 L405.53,839.64 L405.3,839.84 L405.07,840.04 L404.84,840.24 L404.61,840.44 L404.38,840.64 L404.15,840.84 L403.92,841.04 L403.69,841.24 L403.46,841.44 L403.23,841.65 L403,841.85 L402.78,842.05 L402.55,842.25 L402.32,842.45 L402.09,842.65 L401.86,842.85 L401.63,843.05 L401.41,843.25 L401.18,843.45 L400.95,843.65 L400.72,843.86 L400.5,844.06 L400.27,844.26 L400.04,844.46 L399.82,844.66 L399.59,844.86 L399.36,845.06 L399.14,845.26 L398.91,845.46 L398.68,845.66 L398.46,845.87 L398.23,846.07 L398.01,846.27 L397.78,846.47 L397.55,846.67 L397.33,846.87 L397.1,847.07 L396.88,847.27 L396.65,847.47 L396.43,847.67 L396.2,847.88 L395.98,848.08 L395.75,848.28 L395.53,848.48 L395.31,848.68 L395.08,848.88 L394.86,849.08 L394.63,849.28 L394.41,849.48 L394.19,849.68 L393.96,849.88 L393.74,850.09 L393.52,850.29 L393.29,850.49 L393.06,850.7 L392.83,850.9 L392.6,851.11 L392.37,851.32 L392.14,851.53 L391.91,851.74 L391.68,851.94 L391.45,852.15 L391.22,852.36 L391,852.57 L390.77,852.78 L390.54,852.99 L390.31,853.19 L390.08,853.4 L389.85,853.61 L389.62,853.82 L389.39,854.03 L389.17,854.23 L388.94,854.44 L388.71,854.65 L388.48,854.86 L388.26,855.07 L388.03,855.28 L387.8,855.48 L387.58,855.69 L387.35,855.9 L387.12,856.11 L386.9,856.32 L386.67,856.52 L386.44,856.73 L386.22,856.94 L385.99,857.15 L385.77,857.36 L385.54,857.56 L385.32,857.77 L385.09,857.98 L384.87,858.19 L384.64,858.4 L384.42,858.61 L384.19,858.81 L383.97,859.02 L383.75,859.23 L383.52,859.44 L383.3,859.65 L383.08,859.85 L382.85,860.06 L382.63,860.27 L382.41,860.48 L382.18,860.69 L381.96,860.9 L381.74,861.1 L381.52,861.31 L381.29,861.52 L381.07,861.73 L380.85,861.94 L380.63,862.14 L380.41,862.35 L380.19,862.56 L379.97,862.77 L379.75,862.98 L379.53,863.18 L379.31,863.39 L379.09,863.6 L378.87,863.81 L378.65,864.02 L378.43,864.23 L378.21,864.43 L377.99,864.64 L377.77,864.85 L377.55,865.06 L377.33,865.27 L377.11,865.47 L376.9,865.68 L376.68,865.89 L376.46,866.1 L376.24,866.31 L376.03,866.52 L375.81,866.72 L375.59,866.93 L375.37,867.14 L375.16,867.35 L374.94,867.56 L374.73,867.76 L374.5,867.98 L374.28,868.19 L374.06,868.41 L373.83,868.63 L373.61,868.84 L373.39,869.06 L373.17,869.27 L372.94,869.49 L372.72,869.7 L372.5,869.92 L372.28,870.13 L372.06,870.35 L371.84,870.56 L371.62,870.78 L371.4,870.99 L371.18,871.21 L370.96,871.42 L370.74,871.64 L370.52,871.86 L370.3,872.07 L370.08,872.29 L369.86,872.5 L369.64,872.72 L369.42,872.93 L369.21,873.15 L368.99,873.36 L368.77,873.58 L368.55,873.79 L368.34,874.01 L368.12,874.22 L367.9,874.44 L367.69,874.65 L367.47,874.87 L367.26,875.09 L367.04,875.3 L366.82,875.52 L366.61,875.73 L366.39,875.95 L366.18,876.16 L365.97,876.38 L365.75,876.59 L365.54,876.81 L365.32,877.02 L365.11,877.24 L364.9,877.45 L364.68,877.67 L364.47,877.88 L364.26,878.1 L364.05,878.31 L363.83,878.53 L363.62,878.75 L363.41,878.96 L363.2,879.18 L362.99,879.39 L362.78,879.61 L362.57,879.82 L362.36,880.04 L362.15,880.25 L361.94,880.47 L361.73,880.68 L361.52,880.9 L361.31,881.12 L361.09,881.34 L360.87,881.57 L360.66,881.79 L360.44,882.01 L360.23,882.23 L360.02,882.46 L359.8,882.68 L359.59,882.9 L359.38,883.12 L359.16,883.35 L358.95,883.57 L358.74,883.79 L358.53,884.01 L358.32,884.24 L358.1,884.46 L357.89,884.68 L357.68,884.9 L357.47,885.13 L357.26,885.35 L357.05,885.57 L356.84,885.79 L356.63,886.02 L356.42,886.24 L356.21,886.46 L356.01,886.68 L355.8,886.91 L355.59,887.13 L355.38,887.35 L355.18,887.57 L354.97,887.8 L354.76,888.02 L354.56,888.24 L354.35,888.46 L354.15,888.69 L353.94,888.91 L353.74,889.13 L353.53,889.35 L353.33,889.58 L353.12,889.8 L352.92,890.02 L352.72,890.24 L352.51,890.47 L352.31,890.69 L352.11,890.91 L351.91,891.13 L351.71,891.36 L351.5,891.59 L351.29,891.82 L351.08,892.05 L350.88,892.28 L350.67,892.5 L350.46,892.73 L350.26,892.96 L350.05,893.19 L349.85,893.42 L349.65,893.65 L349.44,893.88 L349.24,894.11 L349.03,894.34 L348.83,894.57 L348.63,894.8 L348.43,895.03 L348.22,895.26 L348.02,895.49 L347.82,895.72 L347.62,895.95 L347.42,896.18 L347.22,896.41 L347.02,896.64 L346.82,896.87 L346.62,897.1 L346.43,897.33 L346.23,897.56 L346.03,897.79 L345.83,898.02 L345.64,898.25 L345.44,898.48 L345.25,898.71 L345.05,898.94 L344.85,899.17 L344.66,899.4 L344.47,899.62 L344.27,899.85 L344.08,900.08 L343.88,900.32 L343.68,900.56 L343.48,900.79 L343.29,901.03 L343.09,901.27 L342.89,901.51 L342.7,901.74 L342.5,901.98 L342.3,902.22 L342.11,902.45 L341.91,902.69 L341.72,902.93 L341.53,903.16 L341.33,903.4 L341.14,903.64 L340.95,903.87 L340.76,904.11 L340.57,904.35 L340.38,904.58 L340.19,904.82 L340,905.06 L339.81,905.3 L339.62,905.53 L339.43,905.77 L339.24,906.01 L339.05,906.24 L338.87,906.48 L338.68,906.72 L338.5,906.95 L338.31,907.19 L338.13,907.43 L337.94,907.66 L337.75,907.91 L337.56,908.15 L337.38,908.4 L337.19,908.64 L337,908.88 L336.81,909.13 L336.63,909.37 L336.44,909.62 L336.26,909.86 L336.07,910.1 L335.89,910.35 L335.71,910.59 L335.52,910.84 L335.34,911.08 L335.16,911.32 L334.98,911.57 L334.8,911.81 L334.62,912.06 L334.44,912.3 L334.26,912.54 L334.08,912.79 L333.91,913.03 L333.73,913.28 L333.55,913.52 L333.38,913.76 L333.2,914.01 L333.02,914.26 L332.84,914.51 L332.67,914.76 L332.49,915.01 L332.31,915.26 L332.14,915.52 L331.96,915.77 L331.78,916.02 L331.61,916.27 L331.44,916.52 L331.26,916.77 L331.09,917.02 L330.92,917.27 L330.75,917.53 L330.58,917.78 L330.41,918.03 L330.24,918.28 L330.07,918.53 L329.91,918.78 L329.74,919.03 L329.57,919.28 L329.41,919.54 L329.24,919.79 L329.07,920.04 L328.91,920.3 L328.74,920.56 L328.57,920.82 L328.41,921.08 L328.24,921.34 L328.08,921.6 L327.92,921.85 L327.75,922.11 L327.59,922.37 L327.43,922.63 L327.27,922.89 L327.11,923.15 L326.96,923.4 L326.8,923.66 L326.64,923.92 L326.49,924.18 L326.33,924.44 L326.18,924.7 L326.02,924.95 L325.87,925.22 L325.71,925.49 L325.56,925.75 L325.4,926.02 L325.25,926.28 L325.1,926.55 L324.95,926.81 L324.8,927.08 L324.65,927.34 L324.5,927.61 L324.35,927.88 L324.21,928.14 L324.06,928.41 L323.92,928.67 L323.77,928.94 L323.63,929.2 L323.49,929.47 L323.35,929.73 L323.2,930.01 L323.06,930.28 L322.92,930.55 L322.78,930.83 L322.64,931.1 L322.5,931.37 L322.37,931.64 L322.23,931.92 L322.1,932.19 L321.96,932.46 L321.83,932.73 L321.7,933.01 L321.57,933.28 L321.44,933.55 L321.31,933.83 L321.19,934.1 L321.06,934.37 L320.93,934.65 L320.81,934.93 L320.68,935.21 L320.56,935.49 L320.43,935.77 L320.31,936.05 L320.19,936.33 L320.07,936.61 L319.95,936.89 L319.84,937.17 L319.72,937.45 L319.61,937.73 L319.5,938.01 L319.39,938.29 L319.28,938.57 L319.17,938.85 L319.06,939.14 L318.95,939.42 L318.84,939.71 L318.74,940 L318.63,940.29 L318.53,940.57 L318.43,940.86 L318.33,941.15 L318.23,941.43 L318.14,941.72 L318.04,942.01 L317.95,942.3 L317.86,942.58 L317.76,942.87 L317.68,943.16 L317.59,943.44 L317.5,943.74 L317.42,944.03 L317.33,944.33 L317.25,944.62 L317.17,944.91 L317.09,945.21 L317.01,945.5 L316.94,945.8 L316.86,946.09 L316.79,946.39 L316.72,946.68 L316.65,946.97 L316.59,947.27 L316.52,947.56 L316.46,947.86 L316.4,948.15 L316.34,948.45 L316.28,948.75 L316.23,949.05 L316.17,949.35 L316.12,949.65 L316.07,949.95 L316.02,950.25 L315.98,950.56 L315.93,950.86 L315.89,951.16 L315.85,951.46 L315.82,951.76 L315.78,952.06 L315.75,952.37 L315.72,952.67 L315.69,952.97 L315.67,953.27 L315.64,953.57 L315.62,953.87 L315.6,954.17 L315.59,954.48 L315.57,954.78 L315.56,955.08 L315.55,955.38 L315.55,955.68 L315.54,955.98 L315.54,956.27" stroke="#0000ff" stroke-width="3.1" fill="none" stroke-linecap="round" stroke-dasharray="0 5.8"/>
<path d="M108.5,692H152.4" stroke="#000000" stroke-width="3.0" stroke-linecap="round"/>
<path d="M108.5,719.2H152.4" stroke="#ff0000" stroke-width="3.0" stroke-linecap="round"/>
<path d="M108.5,746.7H152.4" stroke="#0000ff" stroke-width="3.0" stroke-linecap="round"/>
<text class="lg" font-size="21.3" transform="translate(163.2 699.9) scale(0.853 1)">m</text>
<text class="lg" font-size="13.0" transform="translate(174.5 705.5) scale(0.95 1)">s</text>
<text class="lg" font-size="21.3" transform="translate(182.1 699.9) scale(0.853 1)">=empty</text>
<text class="lg" font-size="21.3" transform="translate(163.2 727.1) scale(0.853 1)">m</text>
<text class="lg" font-size="13.0" transform="translate(174.5 732.7) scale(0.95 1)">s</text>
<text class="lg" font-size="21.3" transform="translate(182.1 727.1) scale(0.853 1)">=half</text>
<text class="lg" font-size="21.3" transform="translate(163.2 754.6) scale(0.853 1)">m</text>
<text class="lg" font-size="13.0" transform="translate(174.5 760.2) scale(0.95 1)">s</text>
<text class="lg" font-size="21.3" transform="translate(182.1 754.6) scale(0.853 1)">=full</text>
<text font-family="Liberation Serif" font-size="21.5" fill="#222" text-anchor="middle" transform="translate(64.1 293.5) scale(0.63 1)">A</text>
<text x="343.9" y="523.6" text-anchor="middle" font-family="Liberation Serif" font-size="18.7" fill="#222">Ω</text>
<text font-family="Liberation Serif" font-style="italic" font-size="25.2" fill="#222" text-anchor="middle" transform="translate(53.85 873.7) scale(0.73 1)">A</text>
<text font-family="Liberation Serif" font-size="24" fill="#222" text-anchor="middle" transform="translate(340 1099.4) scale(0.9 1)">Ω</text>
<text x="321.6" y="586" text-anchor="middle" class="cap" font-size="24.3">(a) Connected state</text>
<text x="330.9" y="1148.2" text-anchor="middle" class="cap" font-size="24.2">(b) Disconnected state</text>
</svg>
</body></html>
